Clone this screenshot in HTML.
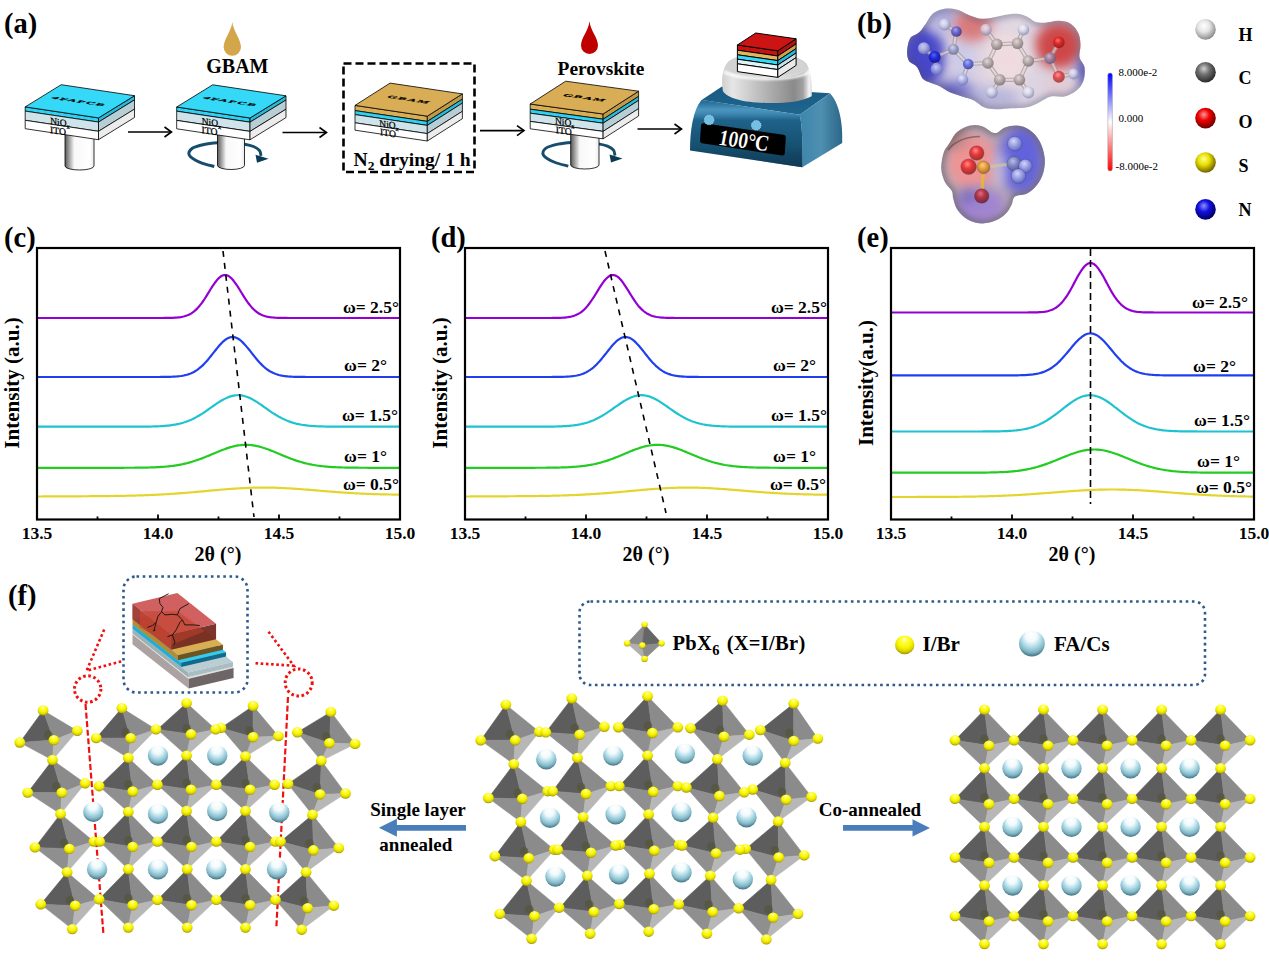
<!DOCTYPE html>
<html><head><meta charset="utf-8"><style>html,body{margin:0;padding:0;background:#fff;width:1269px;height:962px;overflow:hidden}</style></head>
<body><svg width="1269" height="962" viewBox="0 0 1269 962" style="display:block;font-family:'Liberation Serif',serif"><rect width="100%" height="100%" fill="#fff"/><polyline points="37.0,318.00 38.5,318.00 40.0,318.00 41.5,318.00 43.0,318.00 44.6,318.00 46.1,318.00 47.6,318.00 49.1,318.00 50.6,318.00 52.1,318.00 53.6,318.00 55.1,318.00 56.7,318.00 58.2,318.00 59.7,318.00 61.2,318.00 62.7,318.00 64.2,318.00 65.7,318.00 67.2,318.00 68.8,318.00 70.3,318.00 71.8,318.00 73.3,318.00 74.8,318.00 76.3,318.00 77.8,318.00 79.3,318.00 80.9,318.00 82.4,318.00 83.9,318.00 85.4,318.00 86.9,318.00 88.4,318.00 89.9,318.00 91.5,318.00 93.0,318.00 94.5,318.00 96.0,318.00 97.5,318.00 99.0,318.00 100.5,318.00 102.0,318.00 103.5,318.00 105.1,318.00 106.6,318.00 108.1,318.00 109.6,318.00 111.1,318.00 112.6,318.00 114.1,318.00 115.7,318.00 117.2,318.00 118.7,318.00 120.2,318.00 121.7,318.00 123.2,318.00 124.7,318.00 126.2,318.00 127.8,318.00 129.3,318.00 130.8,318.00 132.3,318.00 133.8,318.00 135.3,318.00 136.8,318.00 138.3,318.00 139.8,318.00 141.4,318.00 142.9,318.00 144.4,318.00 145.9,318.00 147.4,318.00 148.9,318.00 150.4,318.00 151.9,318.00 153.5,318.00 155.0,318.00 156.5,318.00 158.0,317.99 159.5,317.99 161.0,317.99 162.5,317.98 164.1,317.97 165.6,317.96 167.1,317.94 168.6,317.91 170.1,317.88 171.6,317.84 173.1,317.78 174.6,317.70 176.2,317.59 177.7,317.46 179.2,317.29 180.7,317.07 182.2,316.80 183.7,316.46 185.2,316.04 186.7,315.54 188.2,314.92 189.8,314.20 191.3,313.34 192.8,312.33 194.3,311.18 195.8,309.86 197.3,308.37 198.8,306.71 200.3,304.88 201.9,302.89 203.4,300.75 204.9,298.49 206.4,296.12 207.9,293.69 209.4,291.23 210.9,288.78 212.4,286.39 214.0,284.11 215.5,281.98 217.0,280.07 218.5,278.41 220.0,277.04 221.5,276.00 223.0,275.32 224.6,275.02 226.1,275.09 227.6,275.55 229.1,276.38 230.6,277.55 232.1,279.05 233.6,280.81 235.1,282.82 236.7,285.01 238.2,287.34 239.7,289.76 241.2,292.22 242.7,294.68 244.2,297.09 245.7,299.42 247.2,301.63 248.8,303.71 250.3,305.64 251.8,307.40 253.3,308.99 254.8,310.41 256.3,311.66 257.8,312.76 259.3,313.70 260.9,314.51 262.4,315.19 263.9,315.75 265.4,316.22 266.9,316.61 268.4,316.92 269.9,317.17 271.4,317.36 272.9,317.52 274.5,317.64 276.0,317.73 277.5,317.80 279.0,317.86 280.5,317.90 282.0,317.92 283.5,317.95 285.1,317.96 286.6,317.97 288.1,317.98 289.6,317.99 291.1,317.99 292.6,317.99 294.1,318.00 295.6,318.00 297.1,318.00 298.7,318.00 300.2,318.00 301.7,318.00 303.2,318.00 304.7,318.00 306.2,318.00 307.7,318.00 309.2,318.00 310.8,318.00 312.3,318.00 313.8,318.00 315.3,318.00 316.8,318.00 318.3,318.00 319.8,318.00 321.4,318.00 322.9,318.00 324.4,318.00 325.9,318.00 327.4,318.00 328.9,318.00 330.4,318.00 331.9,318.00 333.4,318.00 335.0,318.00 336.5,318.00 338.0,318.00 339.5,318.00 341.0,318.00 342.5,318.00 344.0,318.00 345.6,318.00 347.1,318.00 348.6,318.00 350.1,318.00 351.6,318.00 353.1,318.00 354.6,318.00 356.1,318.00 357.6,318.00 359.2,318.00 360.7,318.00 362.2,318.00 363.7,318.00 365.2,318.00 366.7,318.00 368.2,318.00 369.8,318.00 371.3,318.00 372.8,318.00 374.3,318.00 375.8,318.00 377.3,318.00 378.8,318.00 380.3,318.00 381.9,318.00 383.4,318.00 384.9,318.00 386.4,318.00 387.9,318.00 389.4,318.00 390.9,318.00 392.4,318.00 393.9,318.00 395.5,318.00 397.0,318.00 398.5,318.00 400.0,318.00" fill="none" stroke="#9400d3" stroke-width="2.2" stroke-linejoin="round"/>
<polyline points="37.0,377.00 38.5,377.00 40.0,377.00 41.5,377.00 43.0,377.00 44.6,377.00 46.1,377.00 47.6,377.00 49.1,377.00 50.6,377.00 52.1,377.00 53.6,377.00 55.1,377.00 56.7,377.00 58.2,377.00 59.7,377.00 61.2,377.00 62.7,377.00 64.2,377.00 65.7,377.00 67.2,377.00 68.8,377.00 70.3,377.00 71.8,377.00 73.3,377.00 74.8,377.00 76.3,377.00 77.8,377.00 79.3,377.00 80.9,377.00 82.4,377.00 83.9,377.00 85.4,377.00 86.9,377.00 88.4,377.00 89.9,377.00 91.5,377.00 93.0,377.00 94.5,377.00 96.0,377.00 97.5,377.00 99.0,377.00 100.5,377.00 102.0,377.00 103.5,377.00 105.1,377.00 106.6,377.00 108.1,377.00 109.6,377.00 111.1,377.00 112.6,377.00 114.1,377.00 115.7,377.00 117.2,377.00 118.7,377.00 120.2,377.00 121.7,377.00 123.2,377.00 124.7,377.00 126.2,377.00 127.8,377.00 129.3,377.00 130.8,377.00 132.3,377.00 133.8,377.00 135.3,377.00 136.8,377.00 138.3,377.00 139.8,377.00 141.4,377.00 142.9,377.00 144.4,377.00 145.9,377.00 147.4,377.00 148.9,377.00 150.4,377.00 151.9,376.99 153.5,376.99 155.0,376.99 156.5,376.99 158.0,376.98 159.5,376.98 161.0,376.97 162.5,376.95 164.1,376.94 165.6,376.92 167.1,376.89 168.6,376.86 170.1,376.82 171.6,376.76 173.1,376.70 174.6,376.61 176.2,376.51 177.7,376.38 179.2,376.22 180.7,376.03 182.2,375.80 183.7,375.52 185.2,375.19 186.7,374.80 188.2,374.34 189.8,373.81 191.3,373.20 192.8,372.50 194.3,371.70 195.8,370.80 197.3,369.79 198.8,368.67 200.3,367.44 201.9,366.10 203.4,364.65 204.9,363.09 206.4,361.43 207.9,359.69 209.4,357.87 210.9,355.99 212.4,354.08 214.0,352.15 215.5,350.23 217.0,348.34 218.5,346.51 220.0,344.77 221.5,343.15 223.0,341.67 224.6,340.35 226.1,339.23 227.6,338.32 229.1,337.64 230.6,337.20 232.1,337.01 233.6,337.07 235.1,337.38 236.7,337.94 238.2,338.74 239.7,339.75 241.2,340.97 242.7,342.37 244.2,343.92 245.7,345.61 247.2,347.39 248.8,349.25 250.3,351.16 251.8,353.09 253.3,355.01 254.8,356.91 256.3,358.76 257.8,360.55 259.3,362.25 260.9,363.86 262.4,365.37 263.9,366.77 265.4,368.06 266.9,369.23 268.4,370.30 269.9,371.25 271.4,372.10 272.9,372.85 274.5,373.51 276.0,374.08 277.5,374.58 279.0,375.00 280.5,375.36 282.0,375.66 283.5,375.92 285.1,376.13 286.6,376.30 288.1,376.45 289.6,376.56 291.1,376.66 292.6,376.73 294.1,376.79 295.6,376.84 297.1,376.88 298.7,376.91 300.2,376.93 301.7,376.95 303.2,376.96 304.7,376.97 306.2,376.98 307.7,376.98 309.2,376.99 310.8,376.99 312.3,376.99 313.8,377.00 315.3,377.00 316.8,377.00 318.3,377.00 319.8,377.00 321.4,377.00 322.9,377.00 324.4,377.00 325.9,377.00 327.4,377.00 328.9,377.00 330.4,377.00 331.9,377.00 333.4,377.00 335.0,377.00 336.5,377.00 338.0,377.00 339.5,377.00 341.0,377.00 342.5,377.00 344.0,377.00 345.6,377.00 347.1,377.00 348.6,377.00 350.1,377.00 351.6,377.00 353.1,377.00 354.6,377.00 356.1,377.00 357.6,377.00 359.2,377.00 360.7,377.00 362.2,377.00 363.7,377.00 365.2,377.00 366.7,377.00 368.2,377.00 369.8,377.00 371.3,377.00 372.8,377.00 374.3,377.00 375.8,377.00 377.3,377.00 378.8,377.00 380.3,377.00 381.9,377.00 383.4,377.00 384.9,377.00 386.4,377.00 387.9,377.00 389.4,377.00 390.9,377.00 392.4,377.00 393.9,377.00 395.5,377.00 397.0,377.00 398.5,377.00 400.0,377.00" fill="none" stroke="#2040f0" stroke-width="2.2" stroke-linejoin="round"/>
<polyline points="37.0,426.70 38.5,426.70 40.0,426.70 41.5,426.70 43.0,426.70 44.6,426.70 46.1,426.70 47.6,426.70 49.1,426.70 50.6,426.70 52.1,426.70 53.6,426.70 55.1,426.70 56.7,426.70 58.2,426.70 59.7,426.70 61.2,426.70 62.7,426.70 64.2,426.70 65.7,426.70 67.2,426.70 68.8,426.70 70.3,426.70 71.8,426.70 73.3,426.70 74.8,426.70 76.3,426.70 77.8,426.70 79.3,426.70 80.9,426.70 82.4,426.70 83.9,426.70 85.4,426.70 86.9,426.70 88.4,426.70 89.9,426.70 91.5,426.70 93.0,426.70 94.5,426.70 96.0,426.70 97.5,426.70 99.0,426.70 100.5,426.70 102.0,426.70 103.5,426.70 105.1,426.70 106.6,426.70 108.1,426.70 109.6,426.70 111.1,426.70 112.6,426.70 114.1,426.70 115.7,426.70 117.2,426.70 118.7,426.70 120.2,426.70 121.7,426.70 123.2,426.70 124.7,426.70 126.2,426.69 127.8,426.69 129.3,426.69 130.8,426.69 132.3,426.69 133.8,426.68 135.3,426.68 136.8,426.67 138.3,426.67 139.8,426.66 141.4,426.65 142.9,426.64 144.4,426.62 145.9,426.61 147.4,426.59 148.9,426.56 150.4,426.54 151.9,426.50 153.5,426.47 155.0,426.42 156.5,426.37 158.0,426.31 159.5,426.24 161.0,426.16 162.5,426.07 164.1,425.96 165.6,425.84 167.1,425.70 168.6,425.54 170.1,425.37 171.6,425.17 173.1,424.94 174.6,424.69 176.2,424.42 177.7,424.11 179.2,423.77 180.7,423.39 182.2,422.98 183.7,422.53 185.2,422.04 186.7,421.51 188.2,420.93 189.8,420.31 191.3,419.65 192.8,418.95 194.3,418.20 195.8,417.41 197.3,416.57 198.8,415.70 200.3,414.79 201.9,413.84 203.4,412.86 204.9,411.85 206.4,410.82 207.9,409.77 209.4,408.71 210.9,407.64 212.4,406.57 214.0,405.51 215.5,404.46 217.0,403.43 218.5,402.43 220.0,401.47 221.5,400.55 223.0,399.68 224.6,398.88 226.1,398.13 227.6,397.46 229.1,396.87 230.6,396.36 232.1,395.94 233.6,395.61 235.1,395.38 236.7,395.24 238.2,395.20 239.7,395.26 241.2,395.42 242.7,395.67 244.2,396.02 245.7,396.46 247.2,396.99 248.8,397.60 250.3,398.29 251.8,399.04 253.3,399.87 254.8,400.74 256.3,401.67 257.8,402.64 259.3,403.65 260.9,404.68 262.4,405.73 263.9,406.80 265.4,407.87 266.9,408.94 268.4,410.00 269.9,411.04 271.4,412.07 272.9,413.07 274.5,414.04 276.0,414.98 277.5,415.89 279.0,416.76 280.5,417.58 282.0,418.36 283.5,419.10 285.1,419.80 286.6,420.45 288.1,421.06 289.6,421.62 291.1,422.15 292.6,422.63 294.1,423.07 295.6,423.47 297.1,423.84 298.7,424.18 300.2,424.48 301.7,424.75 303.2,424.99 304.7,425.21 306.2,425.41 307.7,425.58 309.2,425.73 310.8,425.87 312.3,425.98 313.8,426.09 315.3,426.18 316.8,426.26 318.3,426.32 319.8,426.38 321.4,426.43 322.9,426.47 324.4,426.51 325.9,426.54 327.4,426.57 328.9,426.59 330.4,426.61 331.9,426.63 333.4,426.64 335.0,426.65 336.5,426.66 338.0,426.67 339.5,426.67 341.0,426.68 342.5,426.68 344.0,426.69 345.6,426.69 347.1,426.69 348.6,426.69 350.1,426.69 351.6,426.70 353.1,426.70 354.6,426.70 356.1,426.70 357.6,426.70 359.2,426.70 360.7,426.70 362.2,426.70 363.7,426.70 365.2,426.70 366.7,426.70 368.2,426.70 369.8,426.70 371.3,426.70 372.8,426.70 374.3,426.70 375.8,426.70 377.3,426.70 378.8,426.70 380.3,426.70 381.9,426.70 383.4,426.70 384.9,426.70 386.4,426.70 387.9,426.70 389.4,426.70 390.9,426.70 392.4,426.70 393.9,426.70 395.5,426.70 397.0,426.70 398.5,426.70 400.0,426.70" fill="none" stroke="#1fc3cf" stroke-width="2.2" stroke-linejoin="round"/>
<polyline points="37.0,467.80 38.5,467.80 40.0,467.80 41.5,467.80 43.0,467.80 44.6,467.80 46.1,467.80 47.6,467.80 49.1,467.80 50.6,467.80 52.1,467.80 53.6,467.80 55.1,467.80 56.7,467.80 58.2,467.80 59.7,467.80 61.2,467.80 62.7,467.80 64.2,467.80 65.7,467.80 67.2,467.80 68.8,467.80 70.3,467.80 71.8,467.80 73.3,467.80 74.8,467.80 76.3,467.80 77.8,467.80 79.3,467.80 80.9,467.80 82.4,467.80 83.9,467.80 85.4,467.80 86.9,467.80 88.4,467.80 89.9,467.80 91.5,467.80 93.0,467.80 94.5,467.80 96.0,467.80 97.5,467.80 99.0,467.80 100.5,467.80 102.0,467.80 103.5,467.80 105.1,467.80 106.6,467.80 108.1,467.80 109.6,467.80 111.1,467.79 112.6,467.79 114.1,467.79 115.7,467.79 117.2,467.79 118.7,467.79 120.2,467.78 121.7,467.78 123.2,467.78 124.7,467.77 126.2,467.77 127.8,467.76 129.3,467.76 130.8,467.75 132.3,467.74 133.8,467.73 135.3,467.72 136.8,467.70 138.3,467.69 139.8,467.67 141.4,467.65 142.9,467.63 144.4,467.60 145.9,467.57 147.4,467.53 148.9,467.50 150.4,467.45 151.9,467.40 153.5,467.35 155.0,467.29 156.5,467.22 158.0,467.14 159.5,467.06 161.0,466.96 162.5,466.86 164.1,466.75 165.6,466.62 167.1,466.48 168.6,466.33 170.1,466.17 171.6,465.99 173.1,465.79 174.6,465.58 176.2,465.35 177.7,465.11 179.2,464.84 180.7,464.56 182.2,464.25 183.7,463.93 185.2,463.58 186.7,463.21 188.2,462.83 189.8,462.42 191.3,461.98 192.8,461.53 194.3,461.06 195.8,460.56 197.3,460.05 198.8,459.52 200.3,458.97 201.9,458.40 203.4,457.81 204.9,457.21 206.4,456.60 207.9,455.98 209.4,455.36 210.9,454.72 212.4,454.08 214.0,453.44 215.5,452.81 217.0,452.17 218.5,451.55 220.0,450.93 221.5,450.33 223.0,449.75 224.6,449.18 226.1,448.64 227.6,448.12 229.1,447.63 230.6,447.17 232.1,446.75 233.6,446.36 235.1,446.01 236.7,445.70 238.2,445.44 239.7,445.22 241.2,445.04 242.7,444.91 244.2,444.83 245.7,444.80 247.2,444.82 248.8,444.88 250.3,444.99 251.8,445.15 253.3,445.35 254.8,445.60 256.3,445.90 257.8,446.23 259.3,446.60 260.9,447.01 262.4,447.46 263.9,447.94 265.4,448.45 266.9,448.98 268.4,449.54 269.9,450.12 271.4,450.71 272.9,451.32 274.5,451.94 276.0,452.57 277.5,453.21 279.0,453.85 280.5,454.49 282.0,455.13 283.5,455.76 285.1,456.38 286.6,456.99 288.1,457.60 289.6,458.19 291.1,458.76 292.6,459.32 294.1,459.86 295.6,460.38 297.1,460.88 298.7,461.36 300.2,461.82 301.7,462.26 303.2,462.68 304.7,463.08 306.2,463.45 307.7,463.80 309.2,464.14 310.8,464.45 312.3,464.74 313.8,465.01 315.3,465.26 316.8,465.50 318.3,465.72 319.8,465.92 321.4,466.10 322.9,466.27 324.4,466.43 325.9,466.57 327.4,466.70 328.9,466.82 330.4,466.93 331.9,467.03 333.4,467.11 335.0,467.19 336.5,467.26 338.0,467.33 339.5,467.38 341.0,467.44 342.5,467.48 344.0,467.52 345.6,467.56 347.1,467.59 348.6,467.62 350.1,467.64 351.6,467.66 353.1,467.68 354.6,467.70 356.1,467.71 357.6,467.72 359.2,467.74 360.7,467.75 362.2,467.75 363.7,467.76 365.2,467.77 366.7,467.77 368.2,467.78 369.8,467.78 371.3,467.78 372.8,467.79 374.3,467.79 375.8,467.79 377.3,467.79 378.8,467.79 380.3,467.79 381.9,467.80 383.4,467.80 384.9,467.80 386.4,467.80 387.9,467.80 389.4,467.80 390.9,467.80 392.4,467.80 393.9,467.80 395.5,467.80 397.0,467.80 398.5,467.80 400.0,467.80" fill="none" stroke="#22cc22" stroke-width="2.2" stroke-linejoin="round"/>
<polyline points="37.0,496.50 38.5,496.49 40.0,496.49 41.5,496.48 43.0,496.47 44.6,496.47 46.1,496.46 47.6,496.45 49.1,496.45 50.6,496.44 52.1,496.43 53.6,496.43 55.1,496.42 56.7,496.41 58.2,496.40 59.7,496.40 61.2,496.39 62.7,496.38 64.2,496.38 65.7,496.37 67.2,496.36 68.8,496.35 70.3,496.34 71.8,496.34 73.3,496.33 74.8,496.32 76.3,496.31 77.8,496.30 79.3,496.29 80.9,496.28 82.4,496.27 83.9,496.26 85.4,496.25 86.9,496.24 88.4,496.23 89.9,496.22 91.5,496.21 93.0,496.20 94.5,496.19 96.0,496.17 97.5,496.16 99.0,496.14 100.5,496.13 102.0,496.11 103.5,496.10 105.1,496.08 106.6,496.06 108.1,496.05 109.6,496.03 111.1,496.01 112.6,495.99 114.1,495.97 115.7,495.94 117.2,495.92 118.7,495.89 120.2,495.87 121.7,495.84 123.2,495.81 124.7,495.78 126.2,495.75 127.8,495.72 129.3,495.68 130.8,495.65 132.3,495.61 133.8,495.57 135.3,495.53 136.8,495.49 138.3,495.44 139.8,495.40 141.4,495.35 142.9,495.30 144.4,495.24 145.9,495.19 147.4,495.13 148.9,495.07 150.4,495.01 151.9,494.94 153.5,494.88 155.0,494.81 156.5,494.74 158.0,494.66 159.5,494.58 161.0,494.50 162.5,494.42 164.1,494.34 165.6,494.25 167.1,494.16 168.6,494.07 170.1,493.97 171.6,493.87 173.1,493.77 174.6,493.67 176.2,493.56 177.7,493.45 179.2,493.34 180.7,493.22 182.2,493.11 183.7,492.99 185.2,492.87 186.7,492.74 188.2,492.62 189.8,492.49 191.3,492.36 192.8,492.23 194.3,492.10 195.8,491.97 197.3,491.83 198.8,491.69 200.3,491.56 201.9,491.42 203.4,491.28 204.9,491.14 206.4,491.00 207.9,490.86 209.4,490.72 210.9,490.58 212.4,490.44 214.0,490.31 215.5,490.17 217.0,490.03 218.5,489.90 220.0,489.77 221.5,489.64 223.0,489.51 224.6,489.38 226.1,489.26 227.6,489.14 229.1,489.02 230.6,488.90 232.1,488.79 233.6,488.68 235.1,488.58 236.7,488.48 238.2,488.39 239.7,488.30 241.2,488.21 242.7,488.13 244.2,488.05 245.7,487.98 247.2,487.91 248.8,487.85 250.3,487.80 251.8,487.75 253.3,487.71 254.8,487.67 256.3,487.64 257.8,487.61 259.3,487.59 260.9,487.58 262.4,487.57 263.9,487.57 265.4,487.57 266.9,487.58 268.4,487.60 269.9,487.62 271.4,487.65 272.9,487.68 274.5,487.72 276.0,487.77 277.5,487.82 279.0,487.87 280.5,487.93 282.0,488.00 283.5,488.07 285.1,488.15 286.6,488.23 288.1,488.31 289.6,488.40 291.1,488.49 292.6,488.59 294.1,488.69 295.6,488.80 297.1,488.90 298.7,489.01 300.2,489.13 301.7,489.24 303.2,489.36 304.7,489.48 306.2,489.60 307.7,489.72 309.2,489.84 310.8,489.97 312.3,490.09 313.8,490.22 315.3,490.35 316.8,490.47 318.3,490.60 319.8,490.73 321.4,490.86 322.9,490.98 324.4,491.11 325.9,491.23 327.4,491.35 328.9,491.48 330.4,491.60 331.9,491.72 333.4,491.83 335.0,491.95 336.5,492.06 338.0,492.18 339.5,492.29 341.0,492.39 342.5,492.50 344.0,492.60 345.6,492.70 347.1,492.80 348.6,492.89 350.1,492.99 351.6,493.08 353.1,493.17 354.6,493.25 356.1,493.33 357.6,493.41 359.2,493.49 360.7,493.56 362.2,493.63 363.7,493.70 365.2,493.77 366.7,493.83 368.2,493.89 369.8,493.95 371.3,494.01 372.8,494.06 374.3,494.11 375.8,494.16 377.3,494.21 378.8,494.25 380.3,494.29 381.9,494.33 383.4,494.37 384.9,494.40 386.4,494.44 387.9,494.47 389.4,494.50 390.9,494.52 392.4,494.55 393.9,494.57 395.5,494.60 397.0,494.62 398.5,494.64 400.0,494.66" fill="none" stroke="#e3d52e" stroke-width="2.2" stroke-linejoin="round"/>
<line x1="223" y1="251" x2="254" y2="517" stroke="#000" stroke-width="1.6" stroke-dasharray="6,6"/>
<rect x="37" y="248" width="363" height="271.5" fill="none" stroke="#000" stroke-width="2.2"/>
<line x1="97.5" y1="519.5" x2="97.5" y2="516.5" stroke="#000" stroke-width="1.8"/>
<line x1="158.0" y1="519.5" x2="158.0" y2="514.5" stroke="#000" stroke-width="1.8"/>
<line x1="218.5" y1="519.5" x2="218.5" y2="516.5" stroke="#000" stroke-width="1.8"/>
<line x1="279.0" y1="519.5" x2="279.0" y2="514.5" stroke="#000" stroke-width="1.8"/>
<line x1="339.5" y1="519.5" x2="339.5" y2="516.5" stroke="#000" stroke-width="1.8"/>
<text x="37.0" y="538.8" font-size="17.5" font-weight="bold" text-anchor="middle" fill="#000" >13.5</text>
<text x="158.0" y="538.8" font-size="17.5" font-weight="bold" text-anchor="middle" fill="#000" >14.0</text>
<text x="279.0" y="538.8" font-size="17.5" font-weight="bold" text-anchor="middle" fill="#000" >14.5</text>
<text x="400.0" y="538.8" font-size="17.5" font-weight="bold" text-anchor="middle" fill="#000" >15.0</text>
<text x="218.0" y="560.5" font-size="20" font-weight="bold" text-anchor="middle" fill="#000" >2&#952; (&#176;)</text>
<text transform="translate(19,383) rotate(-90)" font-size="21" font-weight="bold" text-anchor="middle">Intensity (a.u.)</text>
<text x="399.0" y="312.5" font-size="17.5" font-weight="bold" text-anchor="end" fill="#000" >&#969;= 2.5&#176;</text>
<text x="387.0" y="371.0" font-size="17.5" font-weight="bold" text-anchor="end" fill="#000" >&#969;= 2&#176;</text>
<text x="398.0" y="421.0" font-size="17.5" font-weight="bold" text-anchor="end" fill="#000" >&#969;= 1.5&#176;</text>
<text x="387.0" y="461.5" font-size="17.5" font-weight="bold" text-anchor="end" fill="#000" >&#969;= 1&#176;</text>
<text x="399.0" y="490.0" font-size="17.5" font-weight="bold" text-anchor="end" fill="#000" >&#969;= 0.5&#176;</text>
<text x="4.0" y="247.0" font-size="28.5" font-weight="bold" text-anchor="start" fill="#000" >(c)</text>
<polyline points="465.0,318.00 466.5,318.00 468.0,318.00 469.5,318.00 471.1,318.00 472.6,318.00 474.1,318.00 475.6,318.00 477.1,318.00 478.6,318.00 480.1,318.00 481.6,318.00 483.1,318.00 484.7,318.00 486.2,318.00 487.7,318.00 489.2,318.00 490.7,318.00 492.2,318.00 493.7,318.00 495.2,318.00 496.8,318.00 498.3,318.00 499.8,318.00 501.3,318.00 502.8,318.00 504.3,318.00 505.8,318.00 507.4,318.00 508.9,318.00 510.4,318.00 511.9,318.00 513.4,318.00 514.9,318.00 516.4,318.00 517.9,318.00 519.5,318.00 521.0,318.00 522.5,318.00 524.0,318.00 525.5,318.00 527.0,318.00 528.5,318.00 530.0,318.00 531.5,318.00 533.1,318.00 534.6,318.00 536.1,318.00 537.6,318.00 539.1,318.00 540.6,318.00 542.1,318.00 543.6,318.00 545.2,317.99 546.7,317.99 548.2,317.99 549.7,317.98 551.2,317.98 552.7,317.96 554.2,317.95 555.8,317.93 557.3,317.90 558.8,317.86 560.3,317.81 561.8,317.74 563.3,317.65 564.8,317.54 566.3,317.39 567.9,317.20 569.4,316.96 570.9,316.66 572.4,316.28 573.9,315.83 575.4,315.28 576.9,314.61 578.4,313.83 580.0,312.91 581.5,311.84 583.0,310.61 584.5,309.21 586.0,307.65 587.5,305.91 589.0,304.01 590.5,301.95 592.0,299.75 593.6,297.44 595.1,295.04 596.6,292.59 598.1,290.13 599.6,287.70 601.1,285.35 602.6,283.14 604.1,281.10 605.7,279.29 607.2,277.76 608.7,276.53 610.2,275.65 611.7,275.14 613.2,275.00 614.7,275.25 616.2,275.88 617.8,276.86 619.3,278.18 620.8,279.80 622.3,281.68 623.8,283.78 625.3,286.04 626.8,288.42 628.4,290.86 629.9,293.32 631.4,295.76 632.9,298.14 634.4,300.42 635.9,302.58 637.4,304.59 638.9,306.44 640.5,308.13 642.0,309.64 643.5,310.99 645.0,312.17 646.5,313.20 648.0,314.08 649.5,314.82 651.0,315.45 652.5,315.97 654.1,316.40 655.6,316.75 657.1,317.03 658.6,317.26 660.1,317.44 661.6,317.58 663.1,317.68 664.6,317.77 666.2,317.83 667.7,317.87 669.2,317.91 670.7,317.94 672.2,317.95 673.7,317.97 675.2,317.98 676.8,317.98 678.3,317.99 679.8,317.99 681.3,318.00 682.8,318.00 684.3,318.00 685.8,318.00 687.3,318.00 688.9,318.00 690.4,318.00 691.9,318.00 693.4,318.00 694.9,318.00 696.4,318.00 697.9,318.00 699.4,318.00 701.0,318.00 702.5,318.00 704.0,318.00 705.5,318.00 707.0,318.00 708.5,318.00 710.0,318.00 711.5,318.00 713.0,318.00 714.6,318.00 716.1,318.00 717.6,318.00 719.1,318.00 720.6,318.00 722.1,318.00 723.6,318.00 725.1,318.00 726.7,318.00 728.2,318.00 729.7,318.00 731.2,318.00 732.7,318.00 734.2,318.00 735.7,318.00 737.2,318.00 738.8,318.00 740.3,318.00 741.8,318.00 743.3,318.00 744.8,318.00 746.3,318.00 747.8,318.00 749.4,318.00 750.9,318.00 752.4,318.00 753.9,318.00 755.4,318.00 756.9,318.00 758.4,318.00 759.9,318.00 761.5,318.00 763.0,318.00 764.5,318.00 766.0,318.00 767.5,318.00 769.0,318.00 770.5,318.00 772.0,318.00 773.5,318.00 775.1,318.00 776.6,318.00 778.1,318.00 779.6,318.00 781.1,318.00 782.6,318.00 784.1,318.00 785.6,318.00 787.2,318.00 788.7,318.00 790.2,318.00 791.7,318.00 793.2,318.00 794.7,318.00 796.2,318.00 797.8,318.00 799.3,318.00 800.8,318.00 802.3,318.00 803.8,318.00 805.3,318.00 806.8,318.00 808.3,318.00 809.9,318.00 811.4,318.00 812.9,318.00 814.4,318.00 815.9,318.00 817.4,318.00 818.9,318.00 820.4,318.00 822.0,318.00 823.5,318.00 825.0,318.00 826.5,318.00 828.0,318.00" fill="none" stroke="#9400d3" stroke-width="2.2" stroke-linejoin="round"/>
<polyline points="465.0,377.00 466.5,377.00 468.0,377.00 469.5,377.00 471.1,377.00 472.6,377.00 474.1,377.00 475.6,377.00 477.1,377.00 478.6,377.00 480.1,377.00 481.6,377.00 483.1,377.00 484.7,377.00 486.2,377.00 487.7,377.00 489.2,377.00 490.7,377.00 492.2,377.00 493.7,377.00 495.2,377.00 496.8,377.00 498.3,377.00 499.8,377.00 501.3,377.00 502.8,377.00 504.3,377.00 505.8,377.00 507.4,377.00 508.9,377.00 510.4,377.00 511.9,377.00 513.4,377.00 514.9,377.00 516.4,377.00 517.9,377.00 519.5,377.00 521.0,377.00 522.5,377.00 524.0,377.00 525.5,377.00 527.0,377.00 528.5,377.00 530.0,377.00 531.5,377.00 533.1,377.00 534.6,377.00 536.1,377.00 537.6,377.00 539.1,377.00 540.6,377.00 542.1,377.00 543.6,377.00 545.2,376.99 546.7,376.99 548.2,376.99 549.7,376.99 551.2,376.98 552.7,376.97 554.2,376.96 555.8,376.95 557.3,376.94 558.8,376.92 560.3,376.89 561.8,376.86 563.3,376.81 564.8,376.76 566.3,376.69 567.9,376.60 569.4,376.49 570.9,376.36 572.4,376.20 573.9,376.00 575.4,375.76 576.9,375.48 578.4,375.14 580.0,374.74 581.5,374.27 583.0,373.73 584.5,373.11 586.0,372.39 587.5,371.58 589.0,370.66 590.5,369.64 592.0,368.51 593.6,367.26 595.1,365.90 596.6,364.43 598.1,362.86 599.6,361.19 601.1,359.43 602.6,357.61 604.1,355.72 605.7,353.81 607.2,351.88 608.7,349.96 610.2,348.08 611.7,346.26 613.2,344.53 614.7,342.93 616.2,341.47 617.8,340.18 619.3,339.09 620.8,338.21 622.3,337.56 623.8,337.16 625.3,337.00 626.8,337.10 628.4,337.45 629.9,338.04 631.4,338.87 632.9,339.91 634.4,341.16 635.9,342.58 637.4,344.15 638.9,345.85 640.5,347.65 642.0,349.52 643.5,351.43 645.0,353.36 646.5,355.28 648.0,357.18 649.5,359.02 651.0,360.79 652.5,362.48 654.1,364.08 655.6,365.57 657.1,366.96 658.6,368.23 660.1,369.39 661.6,370.44 663.1,371.38 664.6,372.21 666.2,372.95 667.7,373.59 669.2,374.16 670.7,374.64 672.2,375.05 673.7,375.40 675.2,375.70 676.8,375.95 678.3,376.15 679.8,376.32 681.3,376.46 682.8,376.58 684.3,376.67 685.8,376.74 687.3,376.80 688.9,376.85 690.4,376.88 691.9,376.91 693.4,376.93 694.9,376.95 696.4,376.96 697.9,376.97 699.4,376.98 701.0,376.98 702.5,376.99 704.0,376.99 705.5,376.99 707.0,377.00 708.5,377.00 710.0,377.00 711.5,377.00 713.0,377.00 714.6,377.00 716.1,377.00 717.6,377.00 719.1,377.00 720.6,377.00 722.1,377.00 723.6,377.00 725.1,377.00 726.7,377.00 728.2,377.00 729.7,377.00 731.2,377.00 732.7,377.00 734.2,377.00 735.7,377.00 737.2,377.00 738.8,377.00 740.3,377.00 741.8,377.00 743.3,377.00 744.8,377.00 746.3,377.00 747.8,377.00 749.4,377.00 750.9,377.00 752.4,377.00 753.9,377.00 755.4,377.00 756.9,377.00 758.4,377.00 759.9,377.00 761.5,377.00 763.0,377.00 764.5,377.00 766.0,377.00 767.5,377.00 769.0,377.00 770.5,377.00 772.0,377.00 773.5,377.00 775.1,377.00 776.6,377.00 778.1,377.00 779.6,377.00 781.1,377.00 782.6,377.00 784.1,377.00 785.6,377.00 787.2,377.00 788.7,377.00 790.2,377.00 791.7,377.00 793.2,377.00 794.7,377.00 796.2,377.00 797.8,377.00 799.3,377.00 800.8,377.00 802.3,377.00 803.8,377.00 805.3,377.00 806.8,377.00 808.3,377.00 809.9,377.00 811.4,377.00 812.9,377.00 814.4,377.00 815.9,377.00 817.4,377.00 818.9,377.00 820.4,377.00 822.0,377.00 823.5,377.00 825.0,377.00 826.5,377.00 828.0,377.00" fill="none" stroke="#2040f0" stroke-width="2.2" stroke-linejoin="round"/>
<polyline points="465.0,426.70 466.5,426.70 468.0,426.70 469.5,426.70 471.1,426.70 472.6,426.70 474.1,426.70 475.6,426.70 477.1,426.70 478.6,426.70 480.1,426.70 481.6,426.70 483.1,426.70 484.7,426.70 486.2,426.70 487.7,426.70 489.2,426.70 490.7,426.70 492.2,426.70 493.7,426.70 495.2,426.70 496.8,426.70 498.3,426.70 499.8,426.70 501.3,426.70 502.8,426.70 504.3,426.70 505.8,426.70 507.4,426.70 508.9,426.70 510.4,426.70 511.9,426.70 513.4,426.70 514.9,426.70 516.4,426.70 517.9,426.70 519.5,426.70 521.0,426.70 522.5,426.70 524.0,426.70 525.5,426.70 527.0,426.70 528.5,426.70 530.0,426.69 531.5,426.69 533.1,426.69 534.6,426.69 536.1,426.68 537.6,426.68 539.1,426.68 540.6,426.67 542.1,426.66 543.6,426.66 545.2,426.65 546.7,426.63 548.2,426.62 549.7,426.60 551.2,426.58 552.7,426.56 554.2,426.53 555.8,426.50 557.3,426.46 558.8,426.41 560.3,426.36 561.8,426.30 563.3,426.22 564.8,426.14 566.3,426.05 567.9,425.94 569.4,425.81 570.9,425.67 572.4,425.51 573.9,425.33 575.4,425.12 576.9,424.90 578.4,424.64 580.0,424.36 581.5,424.04 583.0,423.69 584.5,423.31 586.0,422.89 587.5,422.43 589.0,421.93 590.5,421.39 592.0,420.81 593.6,420.19 595.1,419.52 596.6,418.80 598.1,418.05 599.6,417.24 601.1,416.40 602.6,415.52 604.1,414.60 605.7,413.65 607.2,412.66 608.7,411.65 610.2,410.61 611.7,409.56 613.2,408.50 614.7,407.43 616.2,406.36 617.8,405.30 619.3,404.25 620.8,403.23 622.3,402.24 623.8,401.28 625.3,400.37 626.8,399.52 628.4,398.72 629.9,397.99 631.4,397.34 632.9,396.76 634.4,396.27 635.9,395.87 637.4,395.56 638.9,395.34 640.5,395.22 642.0,395.20 643.5,395.28 645.0,395.46 646.5,395.74 648.0,396.10 649.5,396.56 651.0,397.11 652.5,397.73 654.1,398.43 655.6,399.20 657.1,400.04 658.6,400.92 660.1,401.86 661.6,402.84 663.1,403.85 664.6,404.89 666.2,405.94 667.7,407.01 669.2,408.08 670.7,409.15 672.2,410.21 673.7,411.25 675.2,412.27 676.8,413.27 678.3,414.23 679.8,415.17 681.3,416.06 682.8,416.92 684.3,417.74 685.8,418.51 687.3,419.24 688.9,419.93 690.4,420.57 691.9,421.17 693.4,421.73 694.9,422.24 696.4,422.72 697.9,423.15 699.4,423.55 701.0,423.91 702.5,424.24 704.0,424.53 705.5,424.80 707.0,425.04 708.5,425.25 710.0,425.44 711.5,425.61 713.0,425.76 714.6,425.89 716.1,426.01 717.6,426.11 719.1,426.19 720.6,426.27 722.1,426.34 723.6,426.39 725.1,426.44 726.7,426.48 728.2,426.52 729.7,426.55 731.2,426.57 732.7,426.60 734.2,426.61 735.7,426.63 737.2,426.64 738.8,426.65 740.3,426.66 741.8,426.67 743.3,426.67 744.8,426.68 746.3,426.68 747.8,426.69 749.4,426.69 750.9,426.69 752.4,426.69 753.9,426.69 755.4,426.70 756.9,426.70 758.4,426.70 759.9,426.70 761.5,426.70 763.0,426.70 764.5,426.70 766.0,426.70 767.5,426.70 769.0,426.70 770.5,426.70 772.0,426.70 773.5,426.70 775.1,426.70 776.6,426.70 778.1,426.70 779.6,426.70 781.1,426.70 782.6,426.70 784.1,426.70 785.6,426.70 787.2,426.70 788.7,426.70 790.2,426.70 791.7,426.70 793.2,426.70 794.7,426.70 796.2,426.70 797.8,426.70 799.3,426.70 800.8,426.70 802.3,426.70 803.8,426.70 805.3,426.70 806.8,426.70 808.3,426.70 809.9,426.70 811.4,426.70 812.9,426.70 814.4,426.70 815.9,426.70 817.4,426.70 818.9,426.70 820.4,426.70 822.0,426.70 823.5,426.70 825.0,426.70 826.5,426.70 828.0,426.70" fill="none" stroke="#1fc3cf" stroke-width="2.2" stroke-linejoin="round"/>
<polyline points="465.0,467.80 466.5,467.80 468.0,467.80 469.5,467.80 471.1,467.80 472.6,467.80 474.1,467.80 475.6,467.80 477.1,467.80 478.6,467.80 480.1,467.80 481.6,467.80 483.1,467.80 484.7,467.80 486.2,467.80 487.7,467.80 489.2,467.80 490.7,467.80 492.2,467.80 493.7,467.80 495.2,467.80 496.8,467.80 498.3,467.80 499.8,467.80 501.3,467.80 502.8,467.80 504.3,467.80 505.8,467.80 507.4,467.80 508.9,467.80 510.4,467.80 511.9,467.80 513.4,467.80 514.9,467.80 516.4,467.80 517.9,467.80 519.5,467.80 521.0,467.80 522.5,467.79 524.0,467.79 525.5,467.79 527.0,467.79 528.5,467.79 530.0,467.79 531.5,467.78 533.1,467.78 534.6,467.78 536.1,467.77 537.6,467.77 539.1,467.76 540.6,467.76 542.1,467.75 543.6,467.74 545.2,467.73 546.7,467.72 548.2,467.70 549.7,467.69 551.2,467.67 552.7,467.65 554.2,467.63 555.8,467.60 557.3,467.57 558.8,467.54 560.3,467.50 561.8,467.46 563.3,467.41 564.8,467.35 566.3,467.29 567.9,467.23 569.4,467.15 570.9,467.07 572.4,466.97 573.9,466.87 575.4,466.76 576.9,466.63 578.4,466.50 580.0,466.35 581.5,466.18 583.0,466.00 584.5,465.81 586.0,465.60 587.5,465.37 589.0,465.13 590.5,464.86 592.0,464.58 593.6,464.28 595.1,463.96 596.6,463.61 598.1,463.25 599.6,462.86 601.1,462.45 602.6,462.02 604.1,461.57 605.7,461.10 607.2,460.61 608.7,460.10 610.2,459.57 611.7,459.02 613.2,458.45 614.7,457.87 616.2,457.27 617.8,456.66 619.3,456.04 620.8,455.41 622.3,454.78 623.8,454.14 625.3,453.50 626.8,452.86 628.4,452.23 629.9,451.60 631.4,450.99 632.9,450.38 634.4,449.80 635.9,449.23 637.4,448.69 638.9,448.17 640.5,447.67 642.0,447.21 643.5,446.79 645.0,446.40 646.5,446.04 648.0,445.73 649.5,445.46 651.0,445.24 652.5,445.06 654.1,444.92 655.6,444.84 657.1,444.80 658.6,444.81 660.1,444.87 661.6,444.98 663.1,445.13 664.6,445.33 666.2,445.58 667.7,445.87 669.2,446.20 670.7,446.57 672.2,446.98 673.7,447.42 675.2,447.89 676.8,448.40 678.3,448.93 679.8,449.49 681.3,450.06 682.8,450.66 684.3,451.27 685.8,451.89 687.3,452.52 688.9,453.15 690.4,453.79 691.9,454.43 693.4,455.07 694.9,455.70 696.4,456.32 697.9,456.94 699.4,457.54 701.0,458.13 702.5,458.71 704.0,459.27 705.5,459.81 707.0,460.33 708.5,460.84 710.0,461.32 711.5,461.78 713.0,462.22 714.6,462.64 716.1,463.04 717.6,463.42 719.1,463.77 720.6,464.11 722.1,464.42 723.6,464.71 725.1,464.99 726.7,465.24 728.2,465.48 729.7,465.70 731.2,465.90 732.7,466.09 734.2,466.26 735.7,466.42 737.2,466.56 738.8,466.69 740.3,466.81 741.8,466.92 743.3,467.02 744.8,467.11 746.3,467.19 747.8,467.26 749.4,467.32 750.9,467.38 752.4,467.43 753.9,467.48 755.4,467.52 756.9,467.55 758.4,467.59 759.9,467.61 761.5,467.64 763.0,467.66 764.5,467.68 766.0,467.70 767.5,467.71 769.0,467.72 770.5,467.73 772.0,467.74 773.5,467.75 775.1,467.76 776.6,467.77 778.1,467.77 779.6,467.78 781.1,467.78 782.6,467.78 784.1,467.79 785.6,467.79 787.2,467.79 788.7,467.79 790.2,467.79 791.7,467.79 793.2,467.80 794.7,467.80 796.2,467.80 797.8,467.80 799.3,467.80 800.8,467.80 802.3,467.80 803.8,467.80 805.3,467.80 806.8,467.80 808.3,467.80 809.9,467.80 811.4,467.80 812.9,467.80 814.4,467.80 815.9,467.80 817.4,467.80 818.9,467.80 820.4,467.80 822.0,467.80 823.5,467.80 825.0,467.80 826.5,467.80 828.0,467.80" fill="none" stroke="#22cc22" stroke-width="2.2" stroke-linejoin="round"/>
<polyline points="465.0,496.50 466.5,496.49 468.0,496.48 469.5,496.48 471.1,496.47 472.6,496.46 474.1,496.46 475.6,496.45 477.1,496.44 478.6,496.44 480.1,496.43 481.6,496.42 483.1,496.42 484.7,496.41 486.2,496.40 487.7,496.39 489.2,496.39 490.7,496.38 492.2,496.37 493.7,496.36 495.2,496.36 496.8,496.35 498.3,496.34 499.8,496.33 501.3,496.32 502.8,496.31 504.3,496.30 505.8,496.29 507.4,496.28 508.9,496.27 510.4,496.26 511.9,496.25 513.4,496.24 514.9,496.23 516.4,496.22 517.9,496.21 519.5,496.19 521.0,496.18 522.5,496.17 524.0,496.15 525.5,496.14 527.0,496.12 528.5,496.10 530.0,496.09 531.5,496.07 533.1,496.05 534.6,496.03 536.1,496.01 537.6,495.99 539.1,495.97 540.6,495.94 542.1,495.92 543.6,495.89 545.2,495.87 546.7,495.84 548.2,495.81 549.7,495.78 551.2,495.75 552.7,495.71 554.2,495.68 555.8,495.64 557.3,495.60 558.8,495.56 560.3,495.52 561.8,495.48 563.3,495.43 564.8,495.38 566.3,495.33 567.9,495.28 569.4,495.22 570.9,495.17 572.4,495.11 573.9,495.05 575.4,494.98 576.9,494.92 578.4,494.85 580.0,494.78 581.5,494.70 583.0,494.63 584.5,494.55 586.0,494.47 587.5,494.38 589.0,494.30 590.5,494.21 592.0,494.12 593.6,494.02 595.1,493.92 596.6,493.82 598.1,493.72 599.6,493.61 601.1,493.51 602.6,493.39 604.1,493.28 605.7,493.17 607.2,493.05 608.7,492.93 610.2,492.81 611.7,492.68 613.2,492.55 614.7,492.43 616.2,492.30 617.8,492.16 619.3,492.03 620.8,491.90 622.3,491.76 623.8,491.62 625.3,491.48 626.8,491.35 628.4,491.21 629.9,491.07 631.4,490.93 632.9,490.79 634.4,490.65 635.9,490.51 637.4,490.37 638.9,490.23 640.5,490.10 642.0,489.96 643.5,489.83 645.0,489.70 646.5,489.57 648.0,489.44 649.5,489.32 651.0,489.19 652.5,489.08 654.1,488.96 655.6,488.85 657.1,488.74 658.6,488.63 660.1,488.53 661.6,488.44 663.1,488.34 664.6,488.26 666.2,488.17 667.7,488.09 669.2,488.02 670.7,487.95 672.2,487.89 673.7,487.83 675.2,487.78 676.8,487.74 678.3,487.70 679.8,487.66 681.3,487.64 682.8,487.61 684.3,487.60 685.8,487.59 687.3,487.58 688.9,487.59 690.4,487.59 691.9,487.61 693.4,487.63 694.9,487.65 696.4,487.69 697.9,487.72 699.4,487.77 701.0,487.82 702.5,487.87 704.0,487.93 705.5,487.99 707.0,488.06 708.5,488.14 710.0,488.22 711.5,488.30 713.0,488.39 714.6,488.48 716.1,488.57 717.6,488.67 719.1,488.78 720.6,488.88 722.1,488.99 723.6,489.10 725.1,489.22 726.7,489.33 728.2,489.45 729.7,489.57 731.2,489.69 732.7,489.82 734.2,489.94 735.7,490.07 737.2,490.19 738.8,490.32 740.3,490.45 741.8,490.57 743.3,490.70 744.8,490.83 746.3,490.95 747.8,491.08 749.4,491.20 750.9,491.33 752.4,491.45 753.9,491.57 755.4,491.69 756.9,491.81 758.4,491.93 759.9,492.04 761.5,492.15 763.0,492.26 764.5,492.37 766.0,492.48 767.5,492.58 769.0,492.68 770.5,492.78 772.0,492.88 773.5,492.97 775.1,493.06 776.6,493.15 778.1,493.24 779.6,493.32 781.1,493.40 782.6,493.48 784.1,493.55 785.6,493.63 787.2,493.69 788.7,493.76 790.2,493.83 791.7,493.89 793.2,493.95 794.7,494.00 796.2,494.06 797.8,494.11 799.3,494.16 800.8,494.21 802.3,494.25 803.8,494.29 805.3,494.33 806.8,494.37 808.3,494.41 809.9,494.44 811.4,494.47 812.9,494.50 814.4,494.53 815.9,494.56 817.4,494.58 818.9,494.61 820.4,494.63 822.0,494.65 823.5,494.67 825.0,494.68 826.5,494.70 828.0,494.71" fill="none" stroke="#e3d52e" stroke-width="2.2" stroke-linejoin="round"/>
<line x1="605" y1="251" x2="666" y2="513" stroke="#000" stroke-width="1.6" stroke-dasharray="6,6"/>
<rect x="465" y="248" width="363" height="271.5" fill="none" stroke="#000" stroke-width="2.2"/>
<line x1="525.5" y1="519.5" x2="525.5" y2="516.5" stroke="#000" stroke-width="1.8"/>
<line x1="586.0" y1="519.5" x2="586.0" y2="514.5" stroke="#000" stroke-width="1.8"/>
<line x1="646.5" y1="519.5" x2="646.5" y2="516.5" stroke="#000" stroke-width="1.8"/>
<line x1="707.0" y1="519.5" x2="707.0" y2="514.5" stroke="#000" stroke-width="1.8"/>
<line x1="767.5" y1="519.5" x2="767.5" y2="516.5" stroke="#000" stroke-width="1.8"/>
<text x="465.0" y="538.8" font-size="17.5" font-weight="bold" text-anchor="middle" fill="#000" >13.5</text>
<text x="586.0" y="538.8" font-size="17.5" font-weight="bold" text-anchor="middle" fill="#000" >14.0</text>
<text x="707.0" y="538.8" font-size="17.5" font-weight="bold" text-anchor="middle" fill="#000" >14.5</text>
<text x="828.0" y="538.8" font-size="17.5" font-weight="bold" text-anchor="middle" fill="#000" >15.0</text>
<text x="646.0" y="560.5" font-size="20" font-weight="bold" text-anchor="middle" fill="#000" >2&#952; (&#176;)</text>
<text transform="translate(447,383) rotate(-90)" font-size="21" font-weight="bold" text-anchor="middle">Intensity (a.u.)</text>
<text x="827.0" y="312.5" font-size="17.5" font-weight="bold" text-anchor="end" fill="#000" >&#969;= 2.5&#176;</text>
<text x="816.0" y="371.0" font-size="17.5" font-weight="bold" text-anchor="end" fill="#000" >&#969;= 2&#176;</text>
<text x="827.0" y="421.0" font-size="17.5" font-weight="bold" text-anchor="end" fill="#000" >&#969;= 1.5&#176;</text>
<text x="816.0" y="461.5" font-size="17.5" font-weight="bold" text-anchor="end" fill="#000" >&#969;= 1&#176;</text>
<text x="826.0" y="490.0" font-size="17.5" font-weight="bold" text-anchor="end" fill="#000" >&#969;= 0.5&#176;</text>
<text x="431.0" y="247.0" font-size="28.5" font-weight="bold" text-anchor="start" fill="#000" >(d)</text>
<polyline points="891.0,312.50 892.5,312.50 894.0,312.50 895.5,312.50 897.0,312.50 898.6,312.50 900.1,312.50 901.6,312.50 903.1,312.50 904.6,312.50 906.1,312.50 907.6,312.50 909.1,312.50 910.7,312.50 912.2,312.50 913.7,312.50 915.2,312.50 916.7,312.50 918.2,312.50 919.7,312.50 921.2,312.50 922.8,312.50 924.3,312.50 925.8,312.50 927.3,312.50 928.8,312.50 930.3,312.50 931.8,312.50 933.4,312.50 934.9,312.50 936.4,312.50 937.9,312.50 939.4,312.50 940.9,312.50 942.4,312.50 943.9,312.50 945.5,312.50 947.0,312.50 948.5,312.50 950.0,312.50 951.5,312.50 953.0,312.50 954.5,312.50 956.0,312.50 957.5,312.50 959.1,312.50 960.6,312.50 962.1,312.50 963.6,312.50 965.1,312.50 966.6,312.50 968.1,312.50 969.6,312.50 971.2,312.50 972.7,312.50 974.2,312.50 975.7,312.50 977.2,312.50 978.7,312.50 980.2,312.50 981.8,312.50 983.3,312.50 984.8,312.50 986.3,312.50 987.8,312.50 989.3,312.50 990.8,312.50 992.3,312.50 993.9,312.50 995.4,312.50 996.9,312.50 998.4,312.50 999.9,312.50 1001.4,312.50 1002.9,312.50 1004.4,312.50 1006.0,312.50 1007.5,312.50 1009.0,312.50 1010.5,312.50 1012.0,312.50 1013.5,312.50 1015.0,312.50 1016.5,312.50 1018.0,312.50 1019.6,312.50 1021.1,312.50 1022.6,312.49 1024.1,312.49 1025.6,312.49 1027.1,312.48 1028.6,312.47 1030.2,312.46 1031.7,312.44 1033.2,312.42 1034.7,312.39 1036.2,312.34 1037.7,312.29 1039.2,312.21 1040.7,312.11 1042.2,311.98 1043.8,311.81 1045.3,311.59 1046.8,311.31 1048.3,310.97 1049.8,310.55 1051.3,310.03 1052.8,309.40 1054.3,308.64 1055.9,307.75 1057.4,306.69 1058.9,305.47 1060.4,304.06 1061.9,302.47 1063.4,300.67 1064.9,298.69 1066.5,296.50 1068.0,294.14 1069.5,291.62 1071.0,288.97 1072.5,286.21 1074.0,283.39 1075.5,280.56 1077.0,277.76 1078.5,275.05 1080.1,272.49 1081.6,270.13 1083.1,268.04 1084.6,266.25 1086.1,264.83 1087.6,263.79 1089.1,263.18 1090.7,263.00 1092.2,263.27 1093.7,263.97 1095.2,265.08 1096.7,266.58 1098.2,268.43 1099.7,270.58 1101.2,272.98 1102.8,275.58 1104.3,278.31 1105.8,281.12 1107.3,283.95 1108.8,286.76 1110.3,289.50 1111.8,292.14 1113.3,294.63 1114.8,296.95 1116.4,299.10 1117.9,301.05 1119.4,302.80 1120.9,304.36 1122.4,305.73 1123.9,306.92 1125.4,307.94 1127.0,308.80 1128.5,309.53 1130.0,310.14 1131.5,310.64 1133.0,311.05 1134.5,311.37 1136.0,311.64 1137.5,311.84 1139.0,312.00 1140.6,312.13 1142.1,312.23 1143.6,312.30 1145.1,312.35 1146.6,312.39 1148.1,312.42 1149.6,312.45 1151.2,312.46 1152.7,312.47 1154.2,312.48 1155.7,312.49 1157.2,312.49 1158.7,312.49 1160.2,312.50 1161.7,312.50 1163.2,312.50 1164.8,312.50 1166.3,312.50 1167.8,312.50 1169.3,312.50 1170.8,312.50 1172.3,312.50 1173.8,312.50 1175.3,312.50 1176.9,312.50 1178.4,312.50 1179.9,312.50 1181.4,312.50 1182.9,312.50 1184.4,312.50 1185.9,312.50 1187.5,312.50 1189.0,312.50 1190.5,312.50 1192.0,312.50 1193.5,312.50 1195.0,312.50 1196.5,312.50 1198.0,312.50 1199.5,312.50 1201.1,312.50 1202.6,312.50 1204.1,312.50 1205.6,312.50 1207.1,312.50 1208.6,312.50 1210.1,312.50 1211.7,312.50 1213.2,312.50 1214.7,312.50 1216.2,312.50 1217.7,312.50 1219.2,312.50 1220.7,312.50 1222.2,312.50 1223.8,312.50 1225.3,312.50 1226.8,312.50 1228.3,312.50 1229.8,312.50 1231.3,312.50 1232.8,312.50 1234.3,312.50 1235.8,312.50 1237.4,312.50 1238.9,312.50 1240.4,312.50 1241.9,312.50 1243.4,312.50 1244.9,312.50 1246.4,312.50 1248.0,312.50 1249.5,312.50 1251.0,312.50 1252.5,312.50 1254.0,312.50" fill="none" stroke="#9400d3" stroke-width="2.2" stroke-linejoin="round"/>
<polyline points="891.0,375.40 892.5,375.40 894.0,375.40 895.5,375.40 897.0,375.40 898.6,375.40 900.1,375.40 901.6,375.40 903.1,375.40 904.6,375.40 906.1,375.40 907.6,375.40 909.1,375.40 910.7,375.40 912.2,375.40 913.7,375.40 915.2,375.40 916.7,375.40 918.2,375.40 919.7,375.40 921.2,375.40 922.8,375.40 924.3,375.40 925.8,375.40 927.3,375.40 928.8,375.40 930.3,375.40 931.8,375.40 933.4,375.40 934.9,375.40 936.4,375.40 937.9,375.40 939.4,375.40 940.9,375.40 942.4,375.40 943.9,375.40 945.5,375.40 947.0,375.40 948.5,375.40 950.0,375.40 951.5,375.40 953.0,375.40 954.5,375.40 956.0,375.40 957.5,375.40 959.1,375.40 960.6,375.40 962.1,375.40 963.6,375.40 965.1,375.40 966.6,375.40 968.1,375.40 969.6,375.40 971.2,375.40 972.7,375.40 974.2,375.40 975.7,375.40 977.2,375.40 978.7,375.40 980.2,375.40 981.8,375.40 983.3,375.40 984.8,375.40 986.3,375.40 987.8,375.40 989.3,375.40 990.8,375.40 992.3,375.40 993.9,375.40 995.4,375.40 996.9,375.40 998.4,375.40 999.9,375.40 1001.4,375.39 1002.9,375.39 1004.4,375.39 1006.0,375.39 1007.5,375.38 1009.0,375.38 1010.5,375.37 1012.0,375.36 1013.5,375.35 1015.0,375.33 1016.5,375.31 1018.0,375.29 1019.6,375.26 1021.1,375.22 1022.6,375.17 1024.1,375.12 1025.6,375.05 1027.1,374.96 1028.6,374.85 1030.2,374.72 1031.7,374.57 1033.2,374.39 1034.7,374.17 1036.2,373.92 1037.7,373.62 1039.2,373.27 1040.7,372.87 1042.2,372.40 1043.8,371.87 1045.3,371.27 1046.8,370.59 1048.3,369.82 1049.8,368.97 1051.3,368.03 1052.8,366.99 1054.3,365.86 1055.9,364.62 1057.4,363.30 1058.9,361.87 1060.4,360.36 1061.9,358.77 1063.4,357.11 1064.9,355.38 1066.5,353.60 1068.0,351.79 1069.5,349.96 1071.0,348.12 1072.5,346.31 1074.0,344.54 1075.5,342.83 1077.0,341.20 1078.5,339.68 1080.1,338.28 1081.6,337.03 1083.1,335.94 1084.6,335.03 1086.1,334.31 1087.6,333.79 1089.1,333.49 1090.7,333.40 1092.2,333.53 1093.7,333.88 1095.2,334.43 1096.7,335.19 1098.2,336.14 1099.7,337.26 1101.2,338.55 1102.8,339.97 1104.3,341.52 1105.8,343.16 1107.3,344.89 1108.8,346.67 1110.3,348.49 1111.8,350.32 1113.3,352.15 1114.8,353.96 1116.4,355.73 1117.9,357.44 1119.4,359.09 1120.9,360.67 1122.4,362.16 1123.9,363.57 1125.4,364.88 1127.0,366.09 1128.5,367.20 1130.0,368.22 1131.5,369.15 1133.0,369.98 1134.5,370.73 1136.0,371.39 1137.5,371.98 1139.0,372.50 1140.6,372.95 1142.1,373.34 1143.6,373.68 1145.1,373.97 1146.6,374.22 1148.1,374.43 1149.6,374.60 1151.2,374.75 1152.7,374.87 1154.2,374.98 1155.7,375.06 1157.2,375.13 1158.7,375.19 1160.2,375.23 1161.7,375.27 1163.2,375.30 1164.8,375.32 1166.3,375.34 1167.8,375.35 1169.3,375.36 1170.8,375.37 1172.3,375.38 1173.8,375.38 1175.3,375.39 1176.9,375.39 1178.4,375.39 1179.9,375.40 1181.4,375.40 1182.9,375.40 1184.4,375.40 1185.9,375.40 1187.5,375.40 1189.0,375.40 1190.5,375.40 1192.0,375.40 1193.5,375.40 1195.0,375.40 1196.5,375.40 1198.0,375.40 1199.5,375.40 1201.1,375.40 1202.6,375.40 1204.1,375.40 1205.6,375.40 1207.1,375.40 1208.6,375.40 1210.1,375.40 1211.7,375.40 1213.2,375.40 1214.7,375.40 1216.2,375.40 1217.7,375.40 1219.2,375.40 1220.7,375.40 1222.2,375.40 1223.8,375.40 1225.3,375.40 1226.8,375.40 1228.3,375.40 1229.8,375.40 1231.3,375.40 1232.8,375.40 1234.3,375.40 1235.8,375.40 1237.4,375.40 1238.9,375.40 1240.4,375.40 1241.9,375.40 1243.4,375.40 1244.9,375.40 1246.4,375.40 1248.0,375.40 1249.5,375.40 1251.0,375.40 1252.5,375.40 1254.0,375.40" fill="none" stroke="#2040f0" stroke-width="2.2" stroke-linejoin="round"/>
<polyline points="891.0,431.50 892.5,431.50 894.0,431.50 895.5,431.50 897.0,431.50 898.6,431.50 900.1,431.50 901.6,431.50 903.1,431.50 904.6,431.50 906.1,431.50 907.6,431.50 909.1,431.50 910.7,431.50 912.2,431.50 913.7,431.50 915.2,431.50 916.7,431.50 918.2,431.50 919.7,431.50 921.2,431.50 922.8,431.50 924.3,431.50 925.8,431.50 927.3,431.50 928.8,431.50 930.3,431.50 931.8,431.50 933.4,431.50 934.9,431.50 936.4,431.50 937.9,431.50 939.4,431.50 940.9,431.50 942.4,431.50 943.9,431.50 945.5,431.50 947.0,431.50 948.5,431.50 950.0,431.50 951.5,431.50 953.0,431.50 954.5,431.50 956.0,431.50 957.5,431.50 959.1,431.50 960.6,431.50 962.1,431.50 963.6,431.50 965.1,431.50 966.6,431.50 968.1,431.50 969.6,431.50 971.2,431.50 972.7,431.49 974.2,431.49 975.7,431.49 977.2,431.49 978.7,431.49 980.2,431.48 981.8,431.48 983.3,431.47 984.8,431.47 986.3,431.46 987.8,431.45 989.3,431.44 990.8,431.43 992.3,431.42 993.9,431.40 995.4,431.38 996.9,431.36 998.4,431.33 999.9,431.30 1001.4,431.26 1002.9,431.21 1004.4,431.16 1006.0,431.10 1007.5,431.03 1009.0,430.95 1010.5,430.86 1012.0,430.75 1013.5,430.63 1015.0,430.49 1016.5,430.34 1018.0,430.16 1019.6,429.97 1021.1,429.75 1022.6,429.50 1024.1,429.22 1025.6,428.92 1027.1,428.58 1028.6,428.21 1030.2,427.80 1031.7,427.36 1033.2,426.87 1034.7,426.34 1036.2,425.77 1037.7,425.15 1039.2,424.49 1040.7,423.78 1042.2,423.02 1043.8,422.22 1045.3,421.36 1046.8,420.47 1048.3,419.52 1049.8,418.54 1051.3,417.52 1052.8,416.46 1054.3,415.36 1055.9,414.24 1057.4,413.09 1058.9,411.92 1060.4,410.74 1061.9,409.55 1063.4,408.36 1064.9,407.18 1066.5,406.01 1068.0,404.87 1069.5,403.75 1071.0,402.67 1072.5,401.64 1074.0,400.66 1075.5,399.74 1077.0,398.89 1078.5,398.11 1080.1,397.42 1081.6,396.81 1083.1,396.29 1084.6,395.87 1086.1,395.55 1087.6,395.33 1089.1,395.22 1090.7,395.21 1092.2,395.31 1093.7,395.51 1095.2,395.82 1096.7,396.22 1098.2,396.73 1099.7,397.32 1101.2,398.01 1102.8,398.77 1104.3,399.62 1105.8,400.53 1107.3,401.50 1108.8,402.53 1110.3,403.60 1111.8,404.71 1113.3,405.85 1114.8,407.02 1116.4,408.20 1117.9,409.38 1119.4,410.57 1120.9,411.76 1122.4,412.93 1123.9,414.08 1125.4,415.20 1127.0,416.30 1128.5,417.37 1130.0,418.40 1131.5,419.39 1133.0,420.34 1134.5,421.24 1136.0,422.10 1137.5,422.91 1139.0,423.67 1140.6,424.39 1142.1,425.06 1143.6,425.69 1145.1,426.26 1146.6,426.80 1148.1,427.29 1149.6,427.74 1151.2,428.16 1152.7,428.53 1154.2,428.87 1155.7,429.18 1157.2,429.46 1158.7,429.71 1160.2,429.94 1161.7,430.14 1163.2,430.31 1164.8,430.47 1166.3,430.61 1167.8,430.73 1169.3,430.84 1170.8,430.94 1172.3,431.02 1173.8,431.09 1175.3,431.15 1176.9,431.20 1178.4,431.25 1179.9,431.29 1181.4,431.32 1182.9,431.35 1184.4,431.38 1185.9,431.40 1187.5,431.41 1189.0,431.43 1190.5,431.44 1192.0,431.45 1193.5,431.46 1195.0,431.47 1196.5,431.47 1198.0,431.48 1199.5,431.48 1201.1,431.49 1202.6,431.49 1204.1,431.49 1205.6,431.49 1207.1,431.49 1208.6,431.50 1210.1,431.50 1211.7,431.50 1213.2,431.50 1214.7,431.50 1216.2,431.50 1217.7,431.50 1219.2,431.50 1220.7,431.50 1222.2,431.50 1223.8,431.50 1225.3,431.50 1226.8,431.50 1228.3,431.50 1229.8,431.50 1231.3,431.50 1232.8,431.50 1234.3,431.50 1235.8,431.50 1237.4,431.50 1238.9,431.50 1240.4,431.50 1241.9,431.50 1243.4,431.50 1244.9,431.50 1246.4,431.50 1248.0,431.50 1249.5,431.50 1251.0,431.50 1252.5,431.50 1254.0,431.50" fill="none" stroke="#1fc3cf" stroke-width="2.2" stroke-linejoin="round"/>
<polyline points="891.0,472.70 892.5,472.70 894.0,472.70 895.5,472.70 897.0,472.70 898.6,472.70 900.1,472.70 901.6,472.70 903.1,472.70 904.6,472.70 906.1,472.70 907.6,472.70 909.1,472.70 910.7,472.70 912.2,472.70 913.7,472.70 915.2,472.70 916.7,472.70 918.2,472.70 919.7,472.70 921.2,472.70 922.8,472.70 924.3,472.70 925.8,472.70 927.3,472.70 928.8,472.70 930.3,472.70 931.8,472.70 933.4,472.70 934.9,472.70 936.4,472.70 937.9,472.70 939.4,472.70 940.9,472.70 942.4,472.70 943.9,472.70 945.5,472.70 947.0,472.70 948.5,472.70 950.0,472.70 951.5,472.70 953.0,472.70 954.5,472.69 956.0,472.69 957.5,472.69 959.1,472.69 960.6,472.69 962.1,472.69 963.6,472.69 965.1,472.68 966.6,472.68 968.1,472.68 969.6,472.67 971.2,472.67 972.7,472.66 974.2,472.65 975.7,472.65 977.2,472.64 978.7,472.63 980.2,472.61 981.8,472.60 983.3,472.58 984.8,472.57 986.3,472.55 987.8,472.52 989.3,472.50 990.8,472.47 992.3,472.43 993.9,472.40 995.4,472.35 996.9,472.31 998.4,472.26 999.9,472.20 1001.4,472.13 1002.9,472.06 1004.4,471.98 1006.0,471.89 1007.5,471.79 1009.0,471.68 1010.5,471.56 1012.0,471.43 1013.5,471.29 1015.0,471.14 1016.5,470.97 1018.0,470.79 1019.6,470.59 1021.1,470.37 1022.6,470.14 1024.1,469.90 1025.6,469.63 1027.1,469.35 1028.6,469.04 1030.2,468.72 1031.7,468.38 1033.2,468.02 1034.7,467.63 1036.2,467.23 1037.7,466.81 1039.2,466.36 1040.7,465.90 1042.2,465.41 1043.8,464.91 1045.3,464.39 1046.8,463.85 1048.3,463.30 1049.8,462.73 1051.3,462.15 1052.8,461.55 1054.3,460.95 1055.9,460.33 1057.4,459.71 1058.9,459.09 1060.4,458.46 1061.9,457.84 1063.4,457.22 1064.9,456.60 1066.5,455.99 1068.0,455.40 1069.5,454.81 1071.0,454.25 1072.5,453.70 1074.0,453.18 1075.5,452.68 1077.0,452.21 1078.5,451.78 1080.1,451.37 1081.6,451.00 1083.1,450.66 1084.6,450.37 1086.1,450.12 1087.6,449.90 1089.1,449.74 1090.7,449.61 1092.2,449.53 1093.7,449.50 1095.2,449.51 1096.7,449.57 1098.2,449.68 1099.7,449.83 1101.2,450.02 1102.8,450.26 1104.3,450.53 1105.8,450.85 1107.3,451.21 1108.8,451.60 1110.3,452.02 1111.8,452.48 1113.3,452.96 1114.8,453.48 1116.4,454.01 1117.9,454.57 1119.4,455.14 1120.9,455.73 1122.4,456.34 1123.9,456.95 1125.4,457.57 1127.0,458.19 1128.5,458.82 1130.0,459.44 1131.5,460.07 1133.0,460.68 1134.5,461.29 1136.0,461.89 1137.5,462.48 1139.0,463.06 1140.6,463.62 1142.1,464.16 1143.6,464.69 1145.1,465.20 1146.6,465.69 1148.1,466.17 1149.6,466.62 1151.2,467.05 1152.7,467.46 1154.2,467.85 1155.7,468.23 1157.2,468.58 1158.7,468.91 1160.2,469.22 1161.7,469.51 1163.2,469.78 1164.8,470.04 1166.3,470.28 1167.8,470.50 1169.3,470.70 1170.8,470.89 1172.3,471.07 1173.8,471.23 1175.3,471.37 1176.9,471.51 1178.4,471.63 1179.9,471.75 1181.4,471.85 1182.9,471.94 1184.4,472.02 1185.9,472.10 1187.5,472.17 1189.0,472.23 1190.5,472.29 1192.0,472.34 1193.5,472.38 1195.0,472.42 1196.5,472.45 1198.0,472.49 1199.5,472.51 1201.1,472.54 1202.6,472.56 1204.1,472.58 1205.6,472.59 1207.1,472.61 1208.6,472.62 1210.1,472.63 1211.7,472.64 1213.2,472.65 1214.7,472.66 1216.2,472.66 1217.7,472.67 1219.2,472.67 1220.7,472.68 1222.2,472.68 1223.8,472.68 1225.3,472.69 1226.8,472.69 1228.3,472.69 1229.8,472.69 1231.3,472.69 1232.8,472.69 1234.3,472.70 1235.8,472.70 1237.4,472.70 1238.9,472.70 1240.4,472.70 1241.9,472.70 1243.4,472.70 1244.9,472.70 1246.4,472.70 1248.0,472.70 1249.5,472.70 1251.0,472.70 1252.5,472.70 1254.0,472.70" fill="none" stroke="#22cc22" stroke-width="2.2" stroke-linejoin="round"/>
<polyline points="891.0,496.99 892.5,496.99 894.0,496.99 895.5,496.99 897.0,496.99 898.6,496.99 900.1,496.99 901.6,496.99 903.1,496.99 904.6,496.99 906.1,496.99 907.6,496.98 909.1,496.98 910.7,496.98 912.2,496.98 913.7,496.98 915.2,496.98 916.7,496.97 918.2,496.97 919.7,496.97 921.2,496.97 922.8,496.96 924.3,496.96 925.8,496.96 927.3,496.95 928.8,496.95 930.3,496.94 931.8,496.94 933.4,496.93 934.9,496.93 936.4,496.92 937.9,496.92 939.4,496.91 940.9,496.90 942.4,496.90 943.9,496.89 945.5,496.88 947.0,496.87 948.5,496.86 950.0,496.85 951.5,496.84 953.0,496.82 954.5,496.81 956.0,496.80 957.5,496.78 959.1,496.77 960.6,496.75 962.1,496.73 963.6,496.72 965.1,496.70 966.6,496.68 968.1,496.65 969.6,496.63 971.2,496.61 972.7,496.58 974.2,496.55 975.7,496.53 977.2,496.50 978.7,496.46 980.2,496.43 981.8,496.40 983.3,496.36 984.8,496.32 986.3,496.28 987.8,496.24 989.3,496.20 990.8,496.15 992.3,496.11 993.9,496.06 995.4,496.01 996.9,495.95 998.4,495.90 999.9,495.84 1001.4,495.78 1002.9,495.72 1004.4,495.66 1006.0,495.59 1007.5,495.52 1009.0,495.45 1010.5,495.38 1012.0,495.30 1013.5,495.23 1015.0,495.15 1016.5,495.06 1018.0,494.98 1019.6,494.89 1021.1,494.81 1022.6,494.71 1024.1,494.62 1025.6,494.53 1027.1,494.43 1028.6,494.33 1030.2,494.23 1031.7,494.13 1033.2,494.02 1034.7,493.92 1036.2,493.81 1037.7,493.70 1039.2,493.59 1040.7,493.47 1042.2,493.36 1043.8,493.25 1045.3,493.13 1046.8,493.01 1048.3,492.90 1049.8,492.78 1051.3,492.66 1052.8,492.54 1054.3,492.42 1055.9,492.30 1057.4,492.19 1058.9,492.07 1060.4,491.95 1061.9,491.83 1063.4,491.72 1064.9,491.60 1066.5,491.49 1068.0,491.38 1069.5,491.27 1071.0,491.16 1072.5,491.05 1074.0,490.95 1075.5,490.85 1077.0,490.75 1078.5,490.65 1080.1,490.56 1081.6,490.46 1083.1,490.38 1084.6,490.29 1086.1,490.21 1087.6,490.13 1089.1,490.06 1090.7,489.99 1092.2,489.93 1093.7,489.87 1095.2,489.81 1096.7,489.76 1098.2,489.71 1099.7,489.67 1101.2,489.63 1102.8,489.59 1104.3,489.57 1105.8,489.54 1107.3,489.52 1108.8,489.51 1110.3,489.50 1111.8,489.50 1113.3,489.50 1114.8,489.51 1116.4,489.52 1117.9,489.54 1119.4,489.56 1120.9,489.59 1122.4,489.62 1123.9,489.66 1125.4,489.70 1127.0,489.75 1128.5,489.80 1130.0,489.85 1131.5,489.91 1133.0,489.98 1134.5,490.04 1136.0,490.12 1137.5,490.19 1139.0,490.27 1140.6,490.36 1142.1,490.44 1143.6,490.53 1145.1,490.63 1146.6,490.72 1148.1,490.82 1149.6,490.92 1151.2,491.03 1152.7,491.13 1154.2,491.24 1155.7,491.35 1157.2,491.46 1158.7,491.58 1160.2,491.69 1161.7,491.81 1163.2,491.92 1164.8,492.04 1166.3,492.16 1167.8,492.28 1169.3,492.40 1170.8,492.51 1172.3,492.63 1173.8,492.75 1175.3,492.87 1176.9,492.99 1178.4,493.10 1179.9,493.22 1181.4,493.33 1182.9,493.45 1184.4,493.56 1185.9,493.67 1187.5,493.78 1189.0,493.89 1190.5,494.00 1192.0,494.10 1193.5,494.21 1195.0,494.31 1196.5,494.41 1198.0,494.50 1199.5,494.60 1201.1,494.69 1202.6,494.78 1204.1,494.87 1205.6,494.96 1207.1,495.05 1208.6,495.13 1210.1,495.21 1211.7,495.29 1213.2,495.36 1214.7,495.43 1216.2,495.51 1217.7,495.57 1219.2,495.64 1220.7,495.71 1222.2,495.77 1223.8,495.83 1225.3,495.89 1226.8,495.94 1228.3,496.00 1229.8,496.05 1231.3,496.10 1232.8,496.14 1234.3,496.19 1235.8,496.23 1237.4,496.27 1238.9,496.31 1240.4,496.35 1241.9,496.39 1243.4,496.42 1244.9,496.46 1246.4,496.49 1248.0,496.52 1249.5,496.55 1251.0,496.58 1252.5,496.60 1254.0,496.63" fill="none" stroke="#e3d52e" stroke-width="2.2" stroke-linejoin="round"/>
<line x1="1090.5" y1="249" x2="1090.5" y2="504" stroke="#000" stroke-width="1.6" stroke-dasharray="7,4"/>
<rect x="891" y="248" width="363" height="271.5" fill="none" stroke="#000" stroke-width="2.2"/>
<line x1="951.5" y1="519.5" x2="951.5" y2="516.5" stroke="#000" stroke-width="1.8"/>
<line x1="1012.0" y1="519.5" x2="1012.0" y2="514.5" stroke="#000" stroke-width="1.8"/>
<line x1="1072.5" y1="519.5" x2="1072.5" y2="516.5" stroke="#000" stroke-width="1.8"/>
<line x1="1133.0" y1="519.5" x2="1133.0" y2="514.5" stroke="#000" stroke-width="1.8"/>
<line x1="1193.5" y1="519.5" x2="1193.5" y2="516.5" stroke="#000" stroke-width="1.8"/>
<text x="891.0" y="538.8" font-size="17.5" font-weight="bold" text-anchor="middle" fill="#000" >13.5</text>
<text x="1012.0" y="538.8" font-size="17.5" font-weight="bold" text-anchor="middle" fill="#000" >14.0</text>
<text x="1133.0" y="538.8" font-size="17.5" font-weight="bold" text-anchor="middle" fill="#000" >14.5</text>
<text x="1254.0" y="538.8" font-size="17.5" font-weight="bold" text-anchor="middle" fill="#000" >15.0</text>
<text x="1072.0" y="560.5" font-size="20" font-weight="bold" text-anchor="middle" fill="#000" >2&#952; (&#176;)</text>
<text transform="translate(872.5,383) rotate(-90)" font-size="21" font-weight="bold" text-anchor="middle">Intensity(a.u.)</text>
<text x="1248.0" y="308.0" font-size="17.5" font-weight="bold" text-anchor="end" fill="#000" >&#969;= 2.5&#176;</text>
<text x="1236.0" y="371.6" font-size="17.5" font-weight="bold" text-anchor="end" fill="#000" >&#969;= 2&#176;</text>
<text x="1250.0" y="426.0" font-size="17.5" font-weight="bold" text-anchor="end" fill="#000" >&#969;= 1.5&#176;</text>
<text x="1240.0" y="467.0" font-size="17.5" font-weight="bold" text-anchor="end" fill="#000" >&#969;= 1&#176;</text>
<text x="1252.0" y="493.0" font-size="17.5" font-weight="bold" text-anchor="end" fill="#000" >&#969;= 0.5&#176;</text>
<text x="857.0" y="247.0" font-size="28.5" font-weight="bold" text-anchor="start" fill="#000" >(e)</text>
<linearGradient id="cyl65" x1="0" x2="1" y1="0" y2="0"><stop offset="0" stop-color="#5a5a5a"/><stop offset="0.1" stop-color="#8a8a8a"/><stop offset="0.32" stop-color="#f8f8f8"/><stop offset="0.85" stop-color="#ffffff"/><stop offset="1" stop-color="#e8e8e8"/></linearGradient>
<path d="M65,128 L65,166 A14.5,4 0 0 0 94,166 L94,128 Z" fill="url(#cyl65)" stroke="#000" stroke-width="0.8"/>
<polygon points="25.20,106.90 98.50,117.90 98.50,122.10 25.20,111.10" fill="#30d0f0" stroke="#000" stroke-width="0.8" stroke-linejoin="round" />
<polygon points="98.50,117.90 134.50,95.70 134.50,99.90 98.50,122.10" fill="#28b8d8" stroke="#000" stroke-width="0.8" stroke-linejoin="round" />
<polygon points="25.20,111.10 98.50,122.10 98.50,131.30 25.20,120.30" fill="#cfe4ea" stroke="#000" stroke-width="0.8" stroke-linejoin="round" />
<polygon points="98.50,122.10 134.50,99.90 134.50,109.10 98.50,131.30" fill="#b7ced4" stroke="#000" stroke-width="0.8" stroke-linejoin="round" />
<polygon points="25.20,120.30 98.50,131.30 98.50,139.70 25.20,128.70" fill="#ffffff" stroke="#000" stroke-width="0.8" stroke-linejoin="round" />
<polygon points="98.50,131.30 134.50,109.10 134.50,117.50 98.50,139.70" fill="#ececec" stroke="#000" stroke-width="0.8" stroke-linejoin="round" />
<polygon points="25.20,106.90 98.50,117.90 134.50,95.70 61.20,84.70" fill="#35d8f7" stroke="#000" stroke-width="0.8" stroke-linejoin="round" />
<text transform="matrix(0.9889,0.1484,-0.4256,0.2624,79.10,101.50)" font-size="12" font-weight="bold" text-anchor="middle" dominant-baseline="central" fill="#000" stroke="#000" stroke-width="0.5" letter-spacing="1.4">4FAPCB</text>
<text transform="matrix(0.9889,0.1484,0,1,50.20,124.10)" font-size="9.6" fill="#000" stroke="#000" stroke-width="0.25">NiO<tspan font-size="6.5" dy="2">x</tspan></text>
<text transform="matrix(0.9889,0.1484,0,1,50.10,132.90)" font-size="9.8" fill="#000" stroke="#000" stroke-width="0.25">ITO</text>
<line x1="128" y1="132" x2="171.5" y2="132" stroke="#000" stroke-width="1.6"/>
<polyline points="164.5,127 171.5,132 164.5,137" fill="none" stroke="#000" stroke-width="1.6"/>
<path d="M214.30,166.50 C211.92,165.80 204.13,164.13 200.00,162.30 C195.87,160.47 190.83,157.80 189.50,155.50 C188.17,153.20 189.58,150.33 192.00,148.50 C194.42,146.67 199.67,145.45 204.00,144.50 C208.33,143.55 213.50,143.13 218.00,142.80 C222.50,142.47 226.57,142.27 231.00,142.50 C235.43,142.73 240.85,143.53 244.60,144.20 C248.35,144.87 251.02,145.45 253.50,146.50 C255.98,147.55 258.25,148.92 259.50,150.50 C260.75,152.08 260.75,155.08 261.00,156.00 " fill="none" stroke="#174d6c" stroke-width="2.9" stroke-linecap="butt"/>
<polygon points="255.5,154.8 268.5,158.8 257.0,162.8" fill="#0b3a55"/>
<linearGradient id="cyl217" x1="0" x2="1" y1="0" y2="0"><stop offset="0" stop-color="#5a5a5a"/><stop offset="0.1" stop-color="#8a8a8a"/><stop offset="0.32" stop-color="#f8f8f8"/><stop offset="0.85" stop-color="#ffffff"/><stop offset="1" stop-color="#e8e8e8"/></linearGradient>
<path d="M217.5,128 L217.5,165.5 A13.5,4 0 0 0 244.5,165.5 L244.5,128 Z" fill="url(#cyl217)" stroke="#000" stroke-width="0.8"/>
<polygon points="176.70,107.00 250.00,118.00 250.00,122.20 176.70,111.20" fill="#30d0f0" stroke="#000" stroke-width="0.8" stroke-linejoin="round" />
<polygon points="250.00,118.00 286.00,95.80 286.00,100.00 250.00,122.20" fill="#28b8d8" stroke="#000" stroke-width="0.8" stroke-linejoin="round" />
<polygon points="176.70,111.20 250.00,122.20 250.00,131.40 176.70,120.40" fill="#cfe4ea" stroke="#000" stroke-width="0.8" stroke-linejoin="round" />
<polygon points="250.00,122.20 286.00,100.00 286.00,109.20 250.00,131.40" fill="#b7ced4" stroke="#000" stroke-width="0.8" stroke-linejoin="round" />
<polygon points="176.70,120.40 250.00,131.40 250.00,139.80 176.70,128.80" fill="#ffffff" stroke="#000" stroke-width="0.8" stroke-linejoin="round" />
<polygon points="250.00,131.40 286.00,109.20 286.00,117.60 250.00,139.80" fill="#ececec" stroke="#000" stroke-width="0.8" stroke-linejoin="round" />
<polygon points="176.70,107.00 250.00,118.00 286.00,95.80 212.70,84.80" fill="#35d8f7" stroke="#000" stroke-width="0.8" stroke-linejoin="round" />
<text transform="matrix(0.9889,0.1484,-0.4256,0.2624,230.40,101.50)" font-size="12" font-weight="bold" text-anchor="middle" dominant-baseline="central" fill="#000" stroke="#000" stroke-width="0.5" letter-spacing="1.4">4FAPCB</text>
<text transform="matrix(0.9889,0.1484,0,1,201.70,124.20)" font-size="9.6" fill="#000" stroke="#000" stroke-width="0.25">NiO<tspan font-size="6.5" dy="2">x</tspan></text>
<text transform="matrix(0.9889,0.1484,0,1,201.60,133.00)" font-size="9.8" fill="#000" stroke="#000" stroke-width="0.25">ITO</text>
<path d="M232.3,22 C233.10000000000002,31 241.0,39.269999999999996 241.0,47.099999999999994 A8.7,8.7 0 0 1 223.60000000000002,47.099999999999994 C223.60000000000002,39.269999999999996 231.5,31 232.3,22 Z" fill="#d4a64a"/>
<text x="237.4" y="73.3" font-size="20" font-weight="bold" text-anchor="middle" fill="#000" >GBAM</text>
<line x1="282.5" y1="132.5" x2="326.5" y2="132.5" stroke="#000" stroke-width="1.6"/>
<polyline points="319.5,127.5 326.5,132.5 319.5,137.5" fill="none" stroke="#000" stroke-width="1.6"/>
<rect x="343.5" y="63.5" width="131" height="108.5" fill="none" stroke="#000" stroke-width="2.6" stroke-dasharray="8,4"/>
<polygon points="355.00,105.40 427.30,116.20 427.30,121.40 355.00,110.60" fill="#d9ae55" stroke="#000" stroke-width="0.8" stroke-linejoin="round" />
<polygon points="427.30,116.20 462.40,93.90 462.40,99.10 427.30,121.40" fill="#c29a45" stroke="#000" stroke-width="0.8" stroke-linejoin="round" />
<polygon points="355.00,110.60 427.30,121.40 427.30,125.40 355.00,114.60" fill="#30d0f0" stroke="#000" stroke-width="0.8" stroke-linejoin="round" />
<polygon points="427.30,121.40 462.40,99.10 462.40,103.10 427.30,125.40" fill="#28b8d8" stroke="#000" stroke-width="0.8" stroke-linejoin="round" />
<polygon points="355.00,114.60 427.30,125.40 427.30,133.60 355.00,122.80" fill="#cfe4ea" stroke="#000" stroke-width="0.8" stroke-linejoin="round" />
<polygon points="427.30,125.40 462.40,103.10 462.40,111.30 427.30,133.60" fill="#b7ced4" stroke="#000" stroke-width="0.8" stroke-linejoin="round" />
<polygon points="355.00,122.80 427.30,133.60 427.30,141.00 355.00,130.20" fill="#ffffff" stroke="#000" stroke-width="0.8" stroke-linejoin="round" />
<polygon points="427.30,133.60 462.40,111.30 462.40,118.70 427.30,141.00" fill="#ececec" stroke="#000" stroke-width="0.8" stroke-linejoin="round" />
<polygon points="355.00,105.40 427.30,116.20 462.40,93.90 390.10,83.10" fill="#d8ad55" stroke="#000" stroke-width="0.8" stroke-linejoin="round" />
<text transform="matrix(0.9890,0.1477,-0.4220,0.2681,409.00,99.60)" font-size="12" font-weight="bold" text-anchor="middle" dominant-baseline="central" fill="#000" stroke="#000" stroke-width="0.5" letter-spacing="1.4">GBAM</text>
<text transform="matrix(0.9890,0.1477,0,1,379.30,126.40)" font-size="9.6" fill="#000" stroke="#000" stroke-width="0.25">NiO<tspan font-size="6.5" dy="2">x</tspan></text>
<text transform="matrix(0.9890,0.1477,0,1,380.00,135.10)" font-size="9.8" fill="#000" stroke="#000" stroke-width="0.25">ITO</text>
<text x="353.5" y="166.2" font-size="19.6" font-weight="bold" text-anchor="start" fill="#000" >N<tspan font-size="13.5" dy="4">2</tspan><tspan dy="-4"> drying/ 1 h</tspan></text>
<line x1="480" y1="130.6" x2="524" y2="130.6" stroke="#000" stroke-width="1.6"/>
<polyline points="517,125.6 524,130.6 517,135.6" fill="none" stroke="#000" stroke-width="1.6"/>
<path d="M568.30,166.20 C565.92,165.50 558.13,163.83 554.00,162.00 C549.87,160.17 544.83,157.50 543.50,155.20 C542.17,152.90 543.58,150.03 546.00,148.20 C548.42,146.37 553.67,145.15 558.00,144.20 C562.33,143.25 567.50,142.83 572.00,142.50 C576.50,142.17 580.57,141.97 585.00,142.20 C589.43,142.43 594.85,143.23 598.60,143.90 C602.35,144.57 605.02,145.15 607.50,146.20 C609.98,147.25 612.25,148.62 613.50,150.20 C614.75,151.78 614.75,154.78 615.00,155.70 " fill="none" stroke="#174d6c" stroke-width="2.9" stroke-linecap="butt"/>
<polygon points="609.5,154.5 622.5,158.5 611.0,162.5" fill="#0b3a55"/>
<linearGradient id="cyl570" x1="0" x2="1" y1="0" y2="0"><stop offset="0" stop-color="#5a5a5a"/><stop offset="0.1" stop-color="#8a8a8a"/><stop offset="0.32" stop-color="#f8f8f8"/><stop offset="0.85" stop-color="#ffffff"/><stop offset="1" stop-color="#e8e8e8"/></linearGradient>
<path d="M570.7,126 L570.7,165 A14.149999999999977,4 0 0 0 599,165 L599,126 Z" fill="url(#cyl570)" stroke="#000" stroke-width="0.8"/>
<polygon points="530.20,104.00 603.10,114.00 603.10,119.20 530.20,109.20" fill="#d9ae55" stroke="#000" stroke-width="0.8" stroke-linejoin="round" />
<polygon points="603.10,114.00 638.60,91.20 638.60,96.40 603.10,119.20" fill="#c29a45" stroke="#000" stroke-width="0.8" stroke-linejoin="round" />
<polygon points="530.20,109.20 603.10,119.20 603.10,123.20 530.20,113.20" fill="#30d0f0" stroke="#000" stroke-width="0.8" stroke-linejoin="round" />
<polygon points="603.10,119.20 638.60,96.40 638.60,100.40 603.10,123.20" fill="#28b8d8" stroke="#000" stroke-width="0.8" stroke-linejoin="round" />
<polygon points="530.20,113.20 603.10,123.20 603.10,131.40 530.20,121.40" fill="#cfe4ea" stroke="#000" stroke-width="0.8" stroke-linejoin="round" />
<polygon points="603.10,123.20 638.60,100.40 638.60,108.60 603.10,131.40" fill="#b7ced4" stroke="#000" stroke-width="0.8" stroke-linejoin="round" />
<polygon points="530.20,121.40 603.10,131.40 603.10,138.80 530.20,128.80" fill="#ffffff" stroke="#000" stroke-width="0.8" stroke-linejoin="round" />
<polygon points="603.10,131.40 638.60,108.60 638.60,116.00 603.10,138.80" fill="#ececec" stroke="#000" stroke-width="0.8" stroke-linejoin="round" />
<polygon points="530.20,104.00 603.10,114.00 638.60,91.20 565.70,81.20" fill="#d8ad55" stroke="#000" stroke-width="0.8" stroke-linejoin="round" />
<text transform="matrix(0.9907,0.1359,-0.4207,0.2702,584.80,97.80)" font-size="12" font-weight="bold" text-anchor="middle" dominant-baseline="central" fill="#000" stroke="#000" stroke-width="0.5" letter-spacing="1.4">GBAM</text>
<text transform="matrix(0.9907,0.1359,0,1,554.90,124.00)" font-size="9.6" fill="#000" stroke="#000" stroke-width="0.25">NiO<tspan font-size="6.5" dy="2">x</tspan></text>
<text transform="matrix(0.9907,0.1359,0,1,555.70,133.10)" font-size="9.8" fill="#000" stroke="#000" stroke-width="0.25">ITO</text>
<path d="M589.5,21.3 C590.3,30.3 598.0,37.95 598.0,45.6 A8.5,8.5 0 0 1 581.0,45.6 C581.0,37.95 588.7,30.3 589.5,21.3 Z" fill="#c00000"/>
<text x="601.0" y="74.9" font-size="19.4" font-weight="bold" text-anchor="middle" fill="#000" >Perovskite</text>
<line x1="637.5" y1="129" x2="681.5" y2="129" stroke="#000" stroke-width="1.6"/>
<polyline points="674.5,124 681.5,129 674.5,134" fill="none" stroke="#000" stroke-width="1.6"/>
<linearGradient id="hpFront" x1="0" y1="0" x2="0" y2="1"><stop offset="0" stop-color="#2a74a0"/><stop offset="0.14" stop-color="#58a6d0"/><stop offset="0.3" stop-color="#1f628a"/><stop offset="0.7" stop-color="#15506f"/><stop offset="1" stop-color="#0c3550"/></linearGradient>
<linearGradient id="hpSide" x1="0" y1="0" x2="1" y2="0"><stop offset="0" stop-color="#3c86ad"/><stop offset="0.5" stop-color="#4e8fb0"/><stop offset="1" stop-color="#2b6688"/></linearGradient>
<linearGradient id="hpSideV" x1="0" y1="0" x2="0" y2="1"><stop offset="0" stop-color="#1d5e85" stop-opacity="0.6"/><stop offset="0.25" stop-color="#2a6f98" stop-opacity="0"/><stop offset="0.8" stop-color="#1b4f70" stop-opacity="0"/><stop offset="1" stop-color="#123a55" stop-opacity="0.7"/></linearGradient>
<linearGradient id="hpTop" x1="0" y1="0" x2="0" y2="1"><stop offset="0" stop-color="#1a5a80"/><stop offset="1" stop-color="#1f6690"/></linearGradient>
<linearGradient id="grayCyl" x1="0" y1="0" x2="1" y2="0"><stop offset="0" stop-color="#d0d0d0"/><stop offset="0.12" stop-color="#e6e6e6"/><stop offset="0.45" stop-color="#b8b8b8"/><stop offset="0.8" stop-color="#8a8a8a"/><stop offset="0.9" stop-color="#a0a0a0"/><stop offset="0.97" stop-color="#f4f4f4"/><stop offset="1" stop-color="#d8d8d8"/></linearGradient>
<filter id="blur1" x="-20%" y="-50%" width="140%" height="200%"><feGaussianBlur stdDeviation="1.2"/></filter>
<path d="M701.6,99.9 L722,86.6 L830,93.2 L799.8,114.8 Z" fill="url(#hpTop)"/>
<path d="M799.8,114.8 L830,93.2 C840,104 843,125 842.2,143.1 L802.3,167.3 C803,145 802,125 799.8,114.8 Z" fill="url(#hpSide)"/>
<path d="M701.6,99.9 L799.8,114.8 C802,125 803,145 802.3,167.3 L690,150.6 C690,130 693,110 701.6,99.9 Z" fill="url(#hpFront)"/>
<path d="M701.6,99.9 L799.8,114.8 C802,125 803,145 802.3,167.3 L690,150.6 C690,130 693,110 701.6,99.9 Z" fill="url(#hpSideV)"/>
<path d="M722.9,91.3 C721,80 722,68 729,61 C745,50 792,51 806,63 C811,70 812.5,85 811.7,96.3 C800,102.5 782,103.5 766,103 C745,102.5 728,99 722.9,91.3 Z" fill="url(#grayCyl)"/>
<clipPath id="platclip"><path d="M722.9,91.3 C721,80 722,68 729,61 C745,50 792,51 806,63 C811,70 812.5,85 811.7,96.3 C800,102.5 782,103.5 766,103 C745,102.5 728,99 722.9,91.3 Z"/></clipPath>
<g clip-path="url(#platclip)"><ellipse cx="767" cy="66" rx="43" ry="12" fill="#d3d3d3"/><path d="M724,72 C740,80 790,82 810,72" fill="none" stroke="#ffffff" stroke-width="3" opacity="0.9" filter="url(#blur1)"/></g>
<path d="M703.5,123.2 L783.5,134.8 Q786,135.2 785.8,137.5 L784.8,153.2 Q784.6,155.8 782,155.5 L702,143.3 Q699.8,143 700,140.6 L701,125.6 Q701.3,122.9 703.5,123.2 Z" fill="#000"/>
<text transform="matrix(0.85,0.11,-0.04,1,743.3,148)" font-size="22.5" font-weight="bold" font-style="italic" fill="#fff" text-anchor="middle">100&#176;C</text>
<circle cx="709.1" cy="120.0" r="4.8" fill="#72c0e6" stroke="#e8f4fa" stroke-width="0.7" stroke-dasharray="0.9,0.9"/>
<circle cx="756.2" cy="125.3" r="4.8" fill="#72c0e6" stroke="#e8f4fa" stroke-width="0.7" stroke-dasharray="0.9,0.9"/>
<polygon points="737.40,45.00 777.80,50.80 777.80,56.00 737.40,50.20" fill="#c81212" stroke="#000" stroke-width="1.0" stroke-linejoin="round" />
<polygon points="777.80,50.80 796.10,38.80 796.10,44.00 777.80,56.00" fill="#b01010" stroke="#000" stroke-width="1.0" stroke-linejoin="round" />
<polygon points="737.40,50.20 777.80,56.00 777.80,60.60 737.40,54.80" fill="#e3b45a" stroke="#000" stroke-width="1.0" stroke-linejoin="round" />
<polygon points="777.80,56.00 796.10,44.00 796.10,48.60 777.80,60.60" fill="#cfa04a" stroke="#000" stroke-width="1.0" stroke-linejoin="round" />
<polygon points="737.40,54.80 777.80,60.60 777.80,65.00 737.40,59.20" fill="#35d8f7" stroke="#000" stroke-width="1.0" stroke-linejoin="round" />
<polygon points="777.80,60.60 796.10,48.60 796.10,53.00 777.80,65.00" fill="#2ab8d8" stroke="#000" stroke-width="1.0" stroke-linejoin="round" />
<polygon points="737.40,59.20 777.80,65.00 777.80,69.60 737.40,63.80" fill="#ddf3f8" stroke="#000" stroke-width="1.0" stroke-linejoin="round" />
<polygon points="777.80,65.00 796.10,53.00 796.10,57.60 777.80,69.60" fill="#c7dfe6" stroke="#000" stroke-width="1.0" stroke-linejoin="round" />
<polygon points="737.40,63.80 777.80,69.60 777.80,77.40 737.40,71.60" fill="#ffffff" stroke="#000" stroke-width="1.0" stroke-linejoin="round" />
<polygon points="777.80,69.60 796.10,57.60 796.10,65.40 777.80,77.40" fill="#eaeaea" stroke="#000" stroke-width="1.0" stroke-linejoin="round" />
<polygon points="737.40,45.00 777.80,50.80 796.10,38.80 755.70,33.00" fill="#cc1414" stroke="#000" stroke-width="1.0" stroke-linejoin="round" />
<radialGradient id="gH" cx="0.42" cy="0.38" r="0.62" fx="0.42" fy="0.32"><stop offset="0" stop-color="#ffffff"/><stop offset="0.45" stop-color="#e6e6e6"/><stop offset="1" stop-color="#8c8c8c"/></radialGradient>
<radialGradient id="gC" cx="0.42" cy="0.38" r="0.62" fx="0.42" fy="0.32"><stop offset="0" stop-color="#d0d0d0"/><stop offset="0.45" stop-color="#707070"/><stop offset="1" stop-color="#2a2a2a"/></radialGradient>
<radialGradient id="gO" cx="0.42" cy="0.38" r="0.62" fx="0.42" fy="0.32"><stop offset="0" stop-color="#ff9a9a"/><stop offset="0.45" stop-color="#ee0000"/><stop offset="1" stop-color="#700000"/></radialGradient>
<radialGradient id="gS" cx="0.42" cy="0.38" r="0.62" fx="0.42" fy="0.32"><stop offset="0" stop-color="#ffff90"/><stop offset="0.45" stop-color="#e8e000"/><stop offset="1" stop-color="#706000"/></radialGradient>
<radialGradient id="gN" cx="0.42" cy="0.38" r="0.62" fx="0.42" fy="0.32"><stop offset="0" stop-color="#9090ff"/><stop offset="0.45" stop-color="#1010e0"/><stop offset="1" stop-color="#000060"/></radialGradient>
<radialGradient id="aH" cx="0.42" cy="0.38" r="0.62" fx="0.42" fy="0.32"><stop offset="0" stop-color="#ffffff"/><stop offset="0.45" stop-color="#d8dcf0"/><stop offset="1" stop-color="#7a80a8"/></radialGradient>
<radialGradient id="aC" cx="0.42" cy="0.38" r="0.62" fx="0.42" fy="0.32"><stop offset="0" stop-color="#e0d8d8"/><stop offset="0.45" stop-color="#a89c9c"/><stop offset="1" stop-color="#605858"/></radialGradient>
<radialGradient id="aCb" cx="0.42" cy="0.38" r="0.62" fx="0.42" fy="0.32"><stop offset="0" stop-color="#d8dcf0"/><stop offset="0.45" stop-color="#9098c0"/><stop offset="1" stop-color="#505880"/></radialGradient>
<radialGradient id="aN" cx="0.42" cy="0.38" r="0.62" fx="0.42" fy="0.32"><stop offset="0" stop-color="#a0a8ff"/><stop offset="0.45" stop-color="#4050e0"/><stop offset="1" stop-color="#101880"/></radialGradient>
<radialGradient id="aNd" cx="0.42" cy="0.38" r="0.62" fx="0.42" fy="0.32"><stop offset="0" stop-color="#6070ff"/><stop offset="0.45" stop-color="#1020e8"/><stop offset="1" stop-color="#000070"/></radialGradient>
<radialGradient id="aO" cx="0.42" cy="0.38" r="0.62" fx="0.42" fy="0.32"><stop offset="0" stop-color="#ff9090"/><stop offset="0.45" stop-color="#ee1818"/><stop offset="1" stop-color="#801010"/></radialGradient>
<radialGradient id="aOd" cx="0.42" cy="0.38" r="0.62" fx="0.42" fy="0.32"><stop offset="0" stop-color="#e07070"/><stop offset="0.45" stop-color="#c01818"/><stop offset="1" stop-color="#601010"/></radialGradient>
<radialGradient id="aS" cx="0.42" cy="0.38" r="0.62" fx="0.42" fy="0.32"><stop offset="0" stop-color="#ffe080"/><stop offset="0.45" stop-color="#e8a820"/><stop offset="1" stop-color="#906010"/></radialGradient>
<radialGradient id="aHb" cx="0.42" cy="0.38" r="0.62" fx="0.42" fy="0.32"><stop offset="0" stop-color="#ffffff"/><stop offset="0.45" stop-color="#b4bcf0"/><stop offset="1" stop-color="#6870b0"/></radialGradient>
<linearGradient id="cbar" x1="0" y1="0" x2="0" y2="1"><stop offset="0" stop-color="#0000ff"/><stop offset="0.5" stop-color="#ffffff"/><stop offset="1" stop-color="#ff0000"/></linearGradient>
<rect x="1107.8" y="73" width="4.6" height="98" rx="2.3" fill="url(#cbar)" stroke="#999" stroke-width="0.5"/>
<text x="1118.5" y="76.3" font-size="11" font-weight="normal" text-anchor="start" fill="#000" >8.000e-2</text>
<text x="1118.5" y="122.3" font-size="11" font-weight="normal" text-anchor="start" fill="#000" >0.000</text>
<text x="1115.5" y="169.8" font-size="11" font-weight="normal" text-anchor="start" fill="#000" >-8.000e-2</text>
<circle cx="1205.5" cy="29.4" r="10.3" fill="url(#gH)"/>
<text x="1238.5" y="40.9" font-size="18" font-weight="bold" text-anchor="start" fill="#000" >H</text>
<circle cx="1205.5" cy="72.2" r="10.3" fill="url(#gC)"/>
<text x="1238.5" y="84.3" font-size="18" font-weight="bold" text-anchor="start" fill="#000" >C</text>
<circle cx="1205.5" cy="118.1" r="10.3" fill="url(#gO)"/>
<text x="1238.5" y="128.4" font-size="18" font-weight="bold" text-anchor="start" fill="#000" >O</text>
<circle cx="1205.5" cy="162.5" r="10.3" fill="url(#gS)"/>
<text x="1238.5" y="171.9" font-size="18" font-weight="bold" text-anchor="start" fill="#000" >S</text>
<circle cx="1205.5" cy="209.4" r="10.3" fill="url(#gN)"/>
<text x="1238.5" y="216.2" font-size="18" font-weight="bold" text-anchor="start" fill="#000" >N</text>
<filter id="soft" x="-20%" y="-20%" width="140%" height="140%"><feGaussianBlur stdDeviation="1.2"/></filter>
<filter id="blur4" x="-30%" y="-30%" width="160%" height="160%"><feGaussianBlur stdDeviation="4"/></filter>
<clipPath id="m1clip"><path d="M907.13,51.22 C907.30,47.45 908.12,41.54 910.09,38.42 C912.06,35.30 916.33,34.97 918.95,32.51 C921.58,30.04 923.55,26.76 925.85,23.64 C928.15,20.52 929.62,16.25 932.74,13.79 C935.86,11.33 940.46,9.52 944.56,8.87 C948.67,8.21 953.43,8.87 957.37,9.85 C961.31,10.84 964.43,13.30 968.20,14.78 C971.98,16.25 976.08,18.22 980.02,18.72 C983.96,19.21 987.58,18.39 991.84,17.73 C996.11,17.07 1001.37,15.43 1005.63,14.78 C1009.90,14.12 1013.84,13.46 1017.45,13.79 C1021.07,14.12 1024.35,15.43 1027.30,16.75 C1030.26,18.06 1032.23,20.69 1035.19,21.67 C1038.14,22.66 1041.10,22.82 1045.04,22.66 C1048.98,22.49 1054.56,20.52 1058.83,20.69 C1063.09,20.85 1067.36,21.51 1070.65,23.64 C1073.93,25.77 1076.88,29.88 1078.53,33.49 C1080.17,37.10 1080.33,41.37 1080.50,45.31 C1080.66,49.25 1078.85,53.52 1079.51,57.13 C1080.17,60.74 1083.78,63.04 1084.44,66.98 C1085.09,70.92 1084.76,76.83 1083.45,80.77 C1082.14,84.71 1079.68,88.00 1076.56,90.62 C1073.44,93.25 1069.00,95.55 1064.74,96.53 C1060.47,97.52 1055.21,95.55 1050.95,96.53 C1046.68,97.52 1043.07,100.64 1039.13,102.44 C1035.19,104.25 1031.90,106.38 1027.30,107.37 C1022.71,108.35 1016.80,108.02 1011.54,108.35 C1006.29,108.68 1000.38,109.50 995.78,109.34 C991.19,109.17 987.58,108.85 983.96,107.37 C980.35,105.89 977.73,102.28 974.11,100.47 C970.50,98.67 966.23,97.85 962.29,96.53 C958.35,95.22 954.08,94.23 950.47,92.59 C946.86,90.95 943.91,88.32 940.62,86.68 C937.34,85.04 933.73,84.06 930.77,82.74 C927.82,81.43 925.19,81.43 922.89,78.80 C920.59,76.18 919.28,69.94 916.98,66.98 C914.68,64.03 910.74,63.70 909.10,61.07 C907.46,58.44 906.97,55.00 907.13,51.22 Z"/></clipPath>
<filter id="blur6" x="-300%" y="-300%" width="700%" height="700%"><feGaussianBlur stdDeviation="6"/></filter>
<filter id="blur3" x="-30%" y="-30%" width="160%" height="160%"><feGaussianBlur stdDeviation="3"/></filter>
<g clip-path="url(#m1clip)">
<path d="M907.13,51.22 C907.30,47.45 908.12,41.54 910.09,38.42 C912.06,35.30 916.33,34.97 918.95,32.51 C921.58,30.04 923.55,26.76 925.85,23.64 C928.15,20.52 929.62,16.25 932.74,13.79 C935.86,11.33 940.46,9.52 944.56,8.87 C948.67,8.21 953.43,8.87 957.37,9.85 C961.31,10.84 964.43,13.30 968.20,14.78 C971.98,16.25 976.08,18.22 980.02,18.72 C983.96,19.21 987.58,18.39 991.84,17.73 C996.11,17.07 1001.37,15.43 1005.63,14.78 C1009.90,14.12 1013.84,13.46 1017.45,13.79 C1021.07,14.12 1024.35,15.43 1027.30,16.75 C1030.26,18.06 1032.23,20.69 1035.19,21.67 C1038.14,22.66 1041.10,22.82 1045.04,22.66 C1048.98,22.49 1054.56,20.52 1058.83,20.69 C1063.09,20.85 1067.36,21.51 1070.65,23.64 C1073.93,25.77 1076.88,29.88 1078.53,33.49 C1080.17,37.10 1080.33,41.37 1080.50,45.31 C1080.66,49.25 1078.85,53.52 1079.51,57.13 C1080.17,60.74 1083.78,63.04 1084.44,66.98 C1085.09,70.92 1084.76,76.83 1083.45,80.77 C1082.14,84.71 1079.68,88.00 1076.56,90.62 C1073.44,93.25 1069.00,95.55 1064.74,96.53 C1060.47,97.52 1055.21,95.55 1050.95,96.53 C1046.68,97.52 1043.07,100.64 1039.13,102.44 C1035.19,104.25 1031.90,106.38 1027.30,107.37 C1022.71,108.35 1016.80,108.02 1011.54,108.35 C1006.29,108.68 1000.38,109.50 995.78,109.34 C991.19,109.17 987.58,108.85 983.96,107.37 C980.35,105.89 977.73,102.28 974.11,100.47 C970.50,98.67 966.23,97.85 962.29,96.53 C958.35,95.22 954.08,94.23 950.47,92.59 C946.86,90.95 943.91,88.32 940.62,86.68 C937.34,85.04 933.73,84.06 930.77,82.74 C927.82,81.43 925.19,81.43 922.89,78.80 C920.59,76.18 919.28,69.94 916.98,66.98 C914.68,64.03 910.74,63.70 909.10,61.07 C907.46,58.44 906.97,55.00 907.13,51.22 Z" fill="#ddd4e2"/>
<ellipse cx="922.9" cy="57.1" rx="22.7" ry="31.5" fill="#4040c8" opacity="0.95" filter="url(#blur6)"/>
<ellipse cx="962.3" cy="59.1" rx="11.8" ry="23.6" fill="#c8c8ea" opacity="0.8" filter="url(#blur6)"/>
<ellipse cx="952.4" cy="92.6" rx="21.7" ry="11.8" fill="#5050c4" opacity="0.8" filter="url(#blur6)"/>
<ellipse cx="942.6" cy="17.7" rx="13.8" ry="9.9" fill="#8c8cd8" opacity="0.8" filter="url(#blur6)"/>
<ellipse cx="972.1" cy="25.6" rx="19.7" ry="15.8" fill="#d86a6a" opacity="0.85" filter="url(#blur6)"/>
<ellipse cx="1058.8" cy="45.3" rx="23.6" ry="23.6" fill="#cc4040" opacity="0.95" filter="url(#blur6)"/>
<ellipse cx="1083.5" cy="70.9" rx="6.9" ry="13.8" fill="#4848c8" opacity="0.9" filter="url(#blur6)"/>
<ellipse cx="1007.6" cy="59.1" rx="21.7" ry="29.6" fill="#f4dede" opacity="0.75" filter="url(#blur6)"/>
<ellipse cx="1058.8" cy="84.7" rx="15.8" ry="9.9" fill="#e4c4ca" opacity="0.6" filter="url(#blur6)"/>
<ellipse cx="987.9" cy="98.5" rx="31.5" ry="11.8" fill="#a8a8d8" opacity="0.7" filter="url(#blur6)"/>
<ellipse cx="938.7" cy="21.7" rx="13.8" ry="11.8" fill="#c0c0e4" opacity="0.6" filter="url(#blur6)"/>
<ellipse cx="1019.4" cy="19.7" rx="11.8" ry="7.9" fill="#e8e0e4" opacity="0.6" filter="url(#blur6)"/>
<path d="M907.13,51.22 C907.30,47.45 908.12,41.54 910.09,38.42 C912.06,35.30 916.33,34.97 918.95,32.51 C921.58,30.04 923.55,26.76 925.85,23.64 C928.15,20.52 929.62,16.25 932.74,13.79 C935.86,11.33 940.46,9.52 944.56,8.87 C948.67,8.21 953.43,8.87 957.37,9.85 C961.31,10.84 964.43,13.30 968.20,14.78 C971.98,16.25 976.08,18.22 980.02,18.72 C983.96,19.21 987.58,18.39 991.84,17.73 C996.11,17.07 1001.37,15.43 1005.63,14.78 C1009.90,14.12 1013.84,13.46 1017.45,13.79 C1021.07,14.12 1024.35,15.43 1027.30,16.75 C1030.26,18.06 1032.23,20.69 1035.19,21.67 C1038.14,22.66 1041.10,22.82 1045.04,22.66 C1048.98,22.49 1054.56,20.52 1058.83,20.69 C1063.09,20.85 1067.36,21.51 1070.65,23.64 C1073.93,25.77 1076.88,29.88 1078.53,33.49 C1080.17,37.10 1080.33,41.37 1080.50,45.31 C1080.66,49.25 1078.85,53.52 1079.51,57.13 C1080.17,60.74 1083.78,63.04 1084.44,66.98 C1085.09,70.92 1084.76,76.83 1083.45,80.77 C1082.14,84.71 1079.68,88.00 1076.56,90.62 C1073.44,93.25 1069.00,95.55 1064.74,96.53 C1060.47,97.52 1055.21,95.55 1050.95,96.53 C1046.68,97.52 1043.07,100.64 1039.13,102.44 C1035.19,104.25 1031.90,106.38 1027.30,107.37 C1022.71,108.35 1016.80,108.02 1011.54,108.35 C1006.29,108.68 1000.38,109.50 995.78,109.34 C991.19,109.17 987.58,108.85 983.96,107.37 C980.35,105.89 977.73,102.28 974.11,100.47 C970.50,98.67 966.23,97.85 962.29,96.53 C958.35,95.22 954.08,94.23 950.47,92.59 C946.86,90.95 943.91,88.32 940.62,86.68 C937.34,85.04 933.73,84.06 930.77,82.74 C927.82,81.43 925.19,81.43 922.89,78.80 C920.59,76.18 919.28,69.94 916.98,66.98 C914.68,64.03 910.74,63.70 909.10,61.07 C907.46,58.44 906.97,55.00 907.13,51.22 Z" fill="none" stroke="#484868" stroke-width="6" opacity="0.45" filter="url(#blur3)"/>
</g>
<line x1="944.6" y1="24.6" x2="956.4" y2="31.5" stroke="#a09898" stroke-width="4.2" stroke-linecap="round"/>
<line x1="944.6" y1="24.6" x2="956.4" y2="31.5" stroke="#e0d8d8" stroke-width="2" stroke-linecap="round"/>
<line x1="956.4" y1="31.5" x2="953.4" y2="49.3" stroke="#a09898" stroke-width="4.2" stroke-linecap="round"/>
<line x1="956.4" y1="31.5" x2="953.4" y2="49.3" stroke="#e0d8d8" stroke-width="2" stroke-linecap="round"/>
<line x1="953.4" y1="49.3" x2="934.7" y2="57.1" stroke="#a09898" stroke-width="4.2" stroke-linecap="round"/>
<line x1="953.4" y1="49.3" x2="934.7" y2="57.1" stroke="#e0d8d8" stroke-width="2" stroke-linecap="round"/>
<line x1="923.9" y1="48.3" x2="934.7" y2="57.1" stroke="#a09898" stroke-width="4.2" stroke-linecap="round"/>
<line x1="923.9" y1="48.3" x2="934.7" y2="57.1" stroke="#e0d8d8" stroke-width="2" stroke-linecap="round"/>
<line x1="934.7" y1="57.1" x2="936.7" y2="69" stroke="#a09898" stroke-width="4.2" stroke-linecap="round"/>
<line x1="934.7" y1="57.1" x2="936.7" y2="69" stroke="#e0d8d8" stroke-width="2" stroke-linecap="round"/>
<line x1="953.4" y1="49.3" x2="968.2" y2="64" stroke="#a09898" stroke-width="4.2" stroke-linecap="round"/>
<line x1="953.4" y1="49.3" x2="968.2" y2="64" stroke="#e0d8d8" stroke-width="2" stroke-linecap="round"/>
<line x1="968.2" y1="64" x2="962.3" y2="79.8" stroke="#a09898" stroke-width="4.2" stroke-linecap="round"/>
<line x1="968.2" y1="64" x2="962.3" y2="79.8" stroke="#e0d8d8" stroke-width="2" stroke-linecap="round"/>
<line x1="968.2" y1="64" x2="987.9" y2="63" stroke="#a09898" stroke-width="4.2" stroke-linecap="round"/>
<line x1="968.2" y1="64" x2="987.9" y2="63" stroke="#e0d8d8" stroke-width="2" stroke-linecap="round"/>
<line x1="987.9" y1="63" x2="996.8" y2="44.3" stroke="#a09898" stroke-width="4.2" stroke-linecap="round"/>
<line x1="987.9" y1="63" x2="996.8" y2="44.3" stroke="#e0d8d8" stroke-width="2" stroke-linecap="round"/>
<line x1="996.8" y1="44.3" x2="1017.5" y2="43.3" stroke="#a09898" stroke-width="4.2" stroke-linecap="round"/>
<line x1="996.8" y1="44.3" x2="1017.5" y2="43.3" stroke="#e0d8d8" stroke-width="2" stroke-linecap="round"/>
<line x1="1017.5" y1="43.3" x2="1028.3" y2="61" stroke="#a09898" stroke-width="4.2" stroke-linecap="round"/>
<line x1="1017.5" y1="43.3" x2="1028.3" y2="61" stroke="#e0d8d8" stroke-width="2" stroke-linecap="round"/>
<line x1="1028.3" y1="61" x2="1019.4" y2="79.8" stroke="#a09898" stroke-width="4.2" stroke-linecap="round"/>
<line x1="1028.3" y1="61" x2="1019.4" y2="79.8" stroke="#e0d8d8" stroke-width="2" stroke-linecap="round"/>
<line x1="1019.4" y1="79.8" x2="999.7" y2="79.8" stroke="#a09898" stroke-width="4.2" stroke-linecap="round"/>
<line x1="1019.4" y1="79.8" x2="999.7" y2="79.8" stroke="#e0d8d8" stroke-width="2" stroke-linecap="round"/>
<line x1="999.7" y1="79.8" x2="987.9" y2="63" stroke="#a09898" stroke-width="4.2" stroke-linecap="round"/>
<line x1="999.7" y1="79.8" x2="987.9" y2="63" stroke="#e0d8d8" stroke-width="2" stroke-linecap="round"/>
<line x1="996.8" y1="44.3" x2="985.9" y2="29.6" stroke="#a09898" stroke-width="4.2" stroke-linecap="round"/>
<line x1="996.8" y1="44.3" x2="985.9" y2="29.6" stroke="#e0d8d8" stroke-width="2" stroke-linecap="round"/>
<line x1="1017.5" y1="43.3" x2="1023.4" y2="29.6" stroke="#a09898" stroke-width="4.2" stroke-linecap="round"/>
<line x1="1017.5" y1="43.3" x2="1023.4" y2="29.6" stroke="#e0d8d8" stroke-width="2" stroke-linecap="round"/>
<line x1="999.7" y1="79.8" x2="991.8" y2="92.6" stroke="#a09898" stroke-width="4.2" stroke-linecap="round"/>
<line x1="999.7" y1="79.8" x2="991.8" y2="92.6" stroke="#e0d8d8" stroke-width="2" stroke-linecap="round"/>
<line x1="1019.4" y1="79.8" x2="1028.3" y2="92.6" stroke="#a09898" stroke-width="4.2" stroke-linecap="round"/>
<line x1="1019.4" y1="79.8" x2="1028.3" y2="92.6" stroke="#e0d8d8" stroke-width="2" stroke-linecap="round"/>
<line x1="1028.3" y1="61" x2="1050" y2="58.1" stroke="#a09898" stroke-width="4.2" stroke-linecap="round"/>
<line x1="1028.3" y1="61" x2="1050" y2="58.1" stroke="#e0d8d8" stroke-width="2" stroke-linecap="round"/>
<line x1="1050" y1="58.1" x2="1058.8" y2="42.4" stroke="#a09898" stroke-width="4.2" stroke-linecap="round"/>
<line x1="1050" y1="58.1" x2="1058.8" y2="42.4" stroke="#e0d8d8" stroke-width="2" stroke-linecap="round"/>
<line x1="1050" y1="58.1" x2="1058.8" y2="76.8" stroke="#a09898" stroke-width="4.2" stroke-linecap="round"/>
<line x1="1050" y1="58.1" x2="1058.8" y2="76.8" stroke="#e0d8d8" stroke-width="2" stroke-linecap="round"/>
<line x1="1058.8" y1="76.8" x2="1073.6" y2="73.9" stroke="#a09898" stroke-width="4.2" stroke-linecap="round"/>
<line x1="1058.8" y1="76.8" x2="1073.6" y2="73.9" stroke="#e0d8d8" stroke-width="2" stroke-linecap="round"/>
<circle cx="944.6" cy="24.6" r="6" fill="url(#aH)"/>
<circle cx="956.4" cy="31.5" r="5.3" fill="url(#aN)"/>
<circle cx="953.4" cy="49.3" r="5.5" fill="url(#aCb)"/>
<circle cx="923.9" cy="48.3" r="6" fill="url(#aH)"/>
<circle cx="934.7" cy="57.1" r="6" fill="url(#aNd)"/>
<circle cx="936.7" cy="69" r="6" fill="url(#aHb)"/>
<circle cx="968.2" cy="64" r="5.3" fill="url(#aN)"/>
<circle cx="962.3" cy="79.8" r="6" fill="url(#aHb)"/>
<circle cx="987.9" cy="63" r="5.8" fill="url(#aC)"/>
<circle cx="996.8" cy="44.3" r="5.8" fill="url(#aC)"/>
<circle cx="1017.5" cy="43.3" r="5.8" fill="url(#aC)"/>
<circle cx="1028.3" cy="61" r="5.8" fill="url(#aC)"/>
<circle cx="1019.4" cy="79.8" r="5.8" fill="url(#aC)"/>
<circle cx="999.7" cy="79.8" r="5.8" fill="url(#aC)"/>
<circle cx="985.9" cy="29.6" r="5.8" fill="url(#aH)"/>
<circle cx="1023.4" cy="29.6" r="5.8" fill="url(#aH)"/>
<circle cx="991.8" cy="92.6" r="6" fill="url(#aH)"/>
<circle cx="1028.3" cy="92.6" r="6" fill="url(#aH)"/>
<circle cx="1050" cy="58.1" r="5.8" fill="url(#aCb)"/>
<circle cx="1058.8" cy="42.4" r="5.8" fill="url(#aO)"/>
<circle cx="1058.8" cy="76.8" r="6" fill="url(#aO)"/>
<circle cx="1073.6" cy="73.9" r="5.5" fill="url(#aH)"/>
<g opacity="0.3">
<g clip-path="url(#m1clip)">
<path d="M907.13,51.22 C907.30,47.45 908.12,41.54 910.09,38.42 C912.06,35.30 916.33,34.97 918.95,32.51 C921.58,30.04 923.55,26.76 925.85,23.64 C928.15,20.52 929.62,16.25 932.74,13.79 C935.86,11.33 940.46,9.52 944.56,8.87 C948.67,8.21 953.43,8.87 957.37,9.85 C961.31,10.84 964.43,13.30 968.20,14.78 C971.98,16.25 976.08,18.22 980.02,18.72 C983.96,19.21 987.58,18.39 991.84,17.73 C996.11,17.07 1001.37,15.43 1005.63,14.78 C1009.90,14.12 1013.84,13.46 1017.45,13.79 C1021.07,14.12 1024.35,15.43 1027.30,16.75 C1030.26,18.06 1032.23,20.69 1035.19,21.67 C1038.14,22.66 1041.10,22.82 1045.04,22.66 C1048.98,22.49 1054.56,20.52 1058.83,20.69 C1063.09,20.85 1067.36,21.51 1070.65,23.64 C1073.93,25.77 1076.88,29.88 1078.53,33.49 C1080.17,37.10 1080.33,41.37 1080.50,45.31 C1080.66,49.25 1078.85,53.52 1079.51,57.13 C1080.17,60.74 1083.78,63.04 1084.44,66.98 C1085.09,70.92 1084.76,76.83 1083.45,80.77 C1082.14,84.71 1079.68,88.00 1076.56,90.62 C1073.44,93.25 1069.00,95.55 1064.74,96.53 C1060.47,97.52 1055.21,95.55 1050.95,96.53 C1046.68,97.52 1043.07,100.64 1039.13,102.44 C1035.19,104.25 1031.90,106.38 1027.30,107.37 C1022.71,108.35 1016.80,108.02 1011.54,108.35 C1006.29,108.68 1000.38,109.50 995.78,109.34 C991.19,109.17 987.58,108.85 983.96,107.37 C980.35,105.89 977.73,102.28 974.11,100.47 C970.50,98.67 966.23,97.85 962.29,96.53 C958.35,95.22 954.08,94.23 950.47,92.59 C946.86,90.95 943.91,88.32 940.62,86.68 C937.34,85.04 933.73,84.06 930.77,82.74 C927.82,81.43 925.19,81.43 922.89,78.80 C920.59,76.18 919.28,69.94 916.98,66.98 C914.68,64.03 910.74,63.70 909.10,61.07 C907.46,58.44 906.97,55.00 907.13,51.22 Z" fill="#ddd4e2"/>
<ellipse cx="922.9" cy="57.1" rx="22.7" ry="31.5" fill="#4040c8" opacity="0.95" filter="url(#blur6)"/>
<ellipse cx="962.3" cy="59.1" rx="11.8" ry="23.6" fill="#c8c8ea" opacity="0.8" filter="url(#blur6)"/>
<ellipse cx="952.4" cy="92.6" rx="21.7" ry="11.8" fill="#5050c4" opacity="0.8" filter="url(#blur6)"/>
<ellipse cx="942.6" cy="17.7" rx="13.8" ry="9.9" fill="#8c8cd8" opacity="0.8" filter="url(#blur6)"/>
<ellipse cx="972.1" cy="25.6" rx="19.7" ry="15.8" fill="#d86a6a" opacity="0.85" filter="url(#blur6)"/>
<ellipse cx="1058.8" cy="45.3" rx="23.6" ry="23.6" fill="#cc4040" opacity="0.95" filter="url(#blur6)"/>
<ellipse cx="1083.5" cy="70.9" rx="6.9" ry="13.8" fill="#4848c8" opacity="0.9" filter="url(#blur6)"/>
<ellipse cx="1007.6" cy="59.1" rx="21.7" ry="29.6" fill="#f4dede" opacity="0.75" filter="url(#blur6)"/>
<ellipse cx="1058.8" cy="84.7" rx="15.8" ry="9.9" fill="#e4c4ca" opacity="0.6" filter="url(#blur6)"/>
<ellipse cx="987.9" cy="98.5" rx="31.5" ry="11.8" fill="#a8a8d8" opacity="0.7" filter="url(#blur6)"/>
<ellipse cx="938.7" cy="21.7" rx="13.8" ry="11.8" fill="#c0c0e4" opacity="0.6" filter="url(#blur6)"/>
<ellipse cx="1019.4" cy="19.7" rx="11.8" ry="7.9" fill="#e8e0e4" opacity="0.6" filter="url(#blur6)"/>
<path d="M907.13,51.22 C907.30,47.45 908.12,41.54 910.09,38.42 C912.06,35.30 916.33,34.97 918.95,32.51 C921.58,30.04 923.55,26.76 925.85,23.64 C928.15,20.52 929.62,16.25 932.74,13.79 C935.86,11.33 940.46,9.52 944.56,8.87 C948.67,8.21 953.43,8.87 957.37,9.85 C961.31,10.84 964.43,13.30 968.20,14.78 C971.98,16.25 976.08,18.22 980.02,18.72 C983.96,19.21 987.58,18.39 991.84,17.73 C996.11,17.07 1001.37,15.43 1005.63,14.78 C1009.90,14.12 1013.84,13.46 1017.45,13.79 C1021.07,14.12 1024.35,15.43 1027.30,16.75 C1030.26,18.06 1032.23,20.69 1035.19,21.67 C1038.14,22.66 1041.10,22.82 1045.04,22.66 C1048.98,22.49 1054.56,20.52 1058.83,20.69 C1063.09,20.85 1067.36,21.51 1070.65,23.64 C1073.93,25.77 1076.88,29.88 1078.53,33.49 C1080.17,37.10 1080.33,41.37 1080.50,45.31 C1080.66,49.25 1078.85,53.52 1079.51,57.13 C1080.17,60.74 1083.78,63.04 1084.44,66.98 C1085.09,70.92 1084.76,76.83 1083.45,80.77 C1082.14,84.71 1079.68,88.00 1076.56,90.62 C1073.44,93.25 1069.00,95.55 1064.74,96.53 C1060.47,97.52 1055.21,95.55 1050.95,96.53 C1046.68,97.52 1043.07,100.64 1039.13,102.44 C1035.19,104.25 1031.90,106.38 1027.30,107.37 C1022.71,108.35 1016.80,108.02 1011.54,108.35 C1006.29,108.68 1000.38,109.50 995.78,109.34 C991.19,109.17 987.58,108.85 983.96,107.37 C980.35,105.89 977.73,102.28 974.11,100.47 C970.50,98.67 966.23,97.85 962.29,96.53 C958.35,95.22 954.08,94.23 950.47,92.59 C946.86,90.95 943.91,88.32 940.62,86.68 C937.34,85.04 933.73,84.06 930.77,82.74 C927.82,81.43 925.19,81.43 922.89,78.80 C920.59,76.18 919.28,69.94 916.98,66.98 C914.68,64.03 910.74,63.70 909.10,61.07 C907.46,58.44 906.97,55.00 907.13,51.22 Z" fill="none" stroke="#484868" stroke-width="6" opacity="0.45" filter="url(#blur3)"/>
</g>
</g>
<clipPath id="m2clip"><path d="M949.93,142.42 C952.21,138.99 954.08,134.63 957.41,131.82 C960.73,129.01 965.72,126.52 969.88,125.59 C974.03,124.65 978.19,124.96 982.34,126.21 C986.50,127.46 991.07,132.86 994.81,133.07 C998.55,133.28 1001.05,128.70 1004.79,127.46 C1008.53,126.21 1013.10,125.17 1017.26,125.59 C1021.41,126.00 1025.99,127.35 1029.73,129.95 C1033.47,132.55 1037.21,136.60 1039.70,141.17 C1042.19,145.74 1044.06,152.19 1044.69,157.38 C1045.31,162.58 1044.69,167.77 1043.44,172.34 C1042.19,176.92 1039.91,181.28 1037.21,184.81 C1034.51,188.35 1030.93,191.59 1027.23,193.54 C1023.53,195.49 1017.61,194.66 1015.01,196.53 C1012.41,198.40 1013.14,201.94 1011.65,204.76 C1010.15,207.59 1008.63,210.89 1006.03,213.49 C1003.44,216.09 1000.01,218.69 996.06,220.35 C992.11,222.01 987.02,223.57 982.34,223.47 C977.67,223.36 972.16,222.01 968.00,219.73 C963.85,217.44 959.88,213.30 957.41,209.75 C954.93,206.20 954.10,201.52 953.17,198.40 C952.23,195.29 953.17,193.73 951.80,191.05 C950.42,188.37 946.70,186.06 944.94,182.32 C943.17,178.58 941.40,173.59 941.20,168.60 C940.99,163.62 942.24,156.76 943.69,152.39 C945.15,148.03 947.64,145.85 949.93,142.42 Z"/></clipPath>
<g clip-path="url(#m2clip)">
<path d="M949.93,142.42 C952.21,138.99 954.08,134.63 957.41,131.82 C960.73,129.01 965.72,126.52 969.88,125.59 C974.03,124.65 978.19,124.96 982.34,126.21 C986.50,127.46 991.07,132.86 994.81,133.07 C998.55,133.28 1001.05,128.70 1004.79,127.46 C1008.53,126.21 1013.10,125.17 1017.26,125.59 C1021.41,126.00 1025.99,127.35 1029.73,129.95 C1033.47,132.55 1037.21,136.60 1039.70,141.17 C1042.19,145.74 1044.06,152.19 1044.69,157.38 C1045.31,162.58 1044.69,167.77 1043.44,172.34 C1042.19,176.92 1039.91,181.28 1037.21,184.81 C1034.51,188.35 1030.93,191.59 1027.23,193.54 C1023.53,195.49 1017.61,194.66 1015.01,196.53 C1012.41,198.40 1013.14,201.94 1011.65,204.76 C1010.15,207.59 1008.63,210.89 1006.03,213.49 C1003.44,216.09 1000.01,218.69 996.06,220.35 C992.11,222.01 987.02,223.57 982.34,223.47 C977.67,223.36 972.16,222.01 968.00,219.73 C963.85,217.44 959.88,213.30 957.41,209.75 C954.93,206.20 954.10,201.52 953.17,198.40 C952.23,195.29 953.17,193.73 951.80,191.05 C950.42,188.37 946.70,186.06 944.94,182.32 C943.17,178.58 941.40,173.59 941.20,168.60 C940.99,163.62 942.24,156.76 943.69,152.39 C945.15,148.03 947.64,145.85 949.93,142.42 Z" fill="#b8a8b8"/>
<ellipse cx="972.4" cy="162.4" rx="24.9" ry="27.4" fill="#f09494" opacity="1.0" filter="url(#blur6)"/>
<ellipse cx="954.9" cy="138.7" rx="13.7" ry="11.2" fill="#b48080" opacity="0.7" filter="url(#blur6)"/>
<ellipse cx="1021.0" cy="159.9" rx="22.4" ry="33.7" fill="#6262dc" opacity="1.0" filter="url(#blur6)"/>
<ellipse cx="979.9" cy="206.0" rx="24.9" ry="18.7" fill="#a084d0" opacity="1.0" filter="url(#blur6)"/>
<ellipse cx="999.8" cy="168.6" rx="6.2" ry="18.7" fill="#dcd4ec" opacity="0.7" filter="url(#blur6)"/>
<ellipse cx="967.4" cy="196.0" rx="8.7" ry="4.4" fill="#4848a0" opacity="0.7" filter="url(#blur6)"/>
<path d="M949.93,142.42 C952.21,138.99 954.08,134.63 957.41,131.82 C960.73,129.01 965.72,126.52 969.88,125.59 C974.03,124.65 978.19,124.96 982.34,126.21 C986.50,127.46 991.07,132.86 994.81,133.07 C998.55,133.28 1001.05,128.70 1004.79,127.46 C1008.53,126.21 1013.10,125.17 1017.26,125.59 C1021.41,126.00 1025.99,127.35 1029.73,129.95 C1033.47,132.55 1037.21,136.60 1039.70,141.17 C1042.19,145.74 1044.06,152.19 1044.69,157.38 C1045.31,162.58 1044.69,167.77 1043.44,172.34 C1042.19,176.92 1039.91,181.28 1037.21,184.81 C1034.51,188.35 1030.93,191.59 1027.23,193.54 C1023.53,195.49 1017.61,194.66 1015.01,196.53 C1012.41,198.40 1013.14,201.94 1011.65,204.76 C1010.15,207.59 1008.63,210.89 1006.03,213.49 C1003.44,216.09 1000.01,218.69 996.06,220.35 C992.11,222.01 987.02,223.57 982.34,223.47 C977.67,223.36 972.16,222.01 968.00,219.73 C963.85,217.44 959.88,213.30 957.41,209.75 C954.93,206.20 954.10,201.52 953.17,198.40 C952.23,195.29 953.17,193.73 951.80,191.05 C950.42,188.37 946.70,186.06 944.94,182.32 C943.17,178.58 941.40,173.59 941.20,168.60 C940.99,163.62 942.24,156.76 943.69,152.39 C945.15,148.03 947.64,145.85 949.93,142.42 Z" fill="none" stroke="#404048" stroke-width="5" opacity="0.6" filter="url(#blur3)"/>
<path d="M948,150 Q958,137 980,136.5" fill="none" stroke="#603838" stroke-width="1.6" opacity="0.55"/>
</g>
<line x1="983.6" y1="167.4" x2="976.7" y2="153" stroke="#e8b020" stroke-width="3.2"/>
<line x1="983.6" y1="167.4" x2="968.6" y2="166.7" stroke="#e8b020" stroke-width="3.2"/>
<line x1="983.6" y1="167.4" x2="981.7" y2="196" stroke="#e8c020" stroke-width="3.2"/>
<line x1="983.6" y1="167.4" x2="1014.1" y2="163.6" stroke="#c8c8a0" stroke-width="3.2"/>
<circle cx="1014.8" cy="143.7" r="7.3" fill="url(#aHb)" stroke="#303050" stroke-opacity="0.45" stroke-width="0.8"/>
<circle cx="1014.1" cy="163.6" r="7.3" fill="url(#aCb)" stroke="#303050" stroke-opacity="0.45" stroke-width="0.8"/>
<circle cx="1025.4" cy="166" r="6.8" fill="url(#aHb)" stroke="#303050" stroke-opacity="0.45" stroke-width="0.8"/>
<circle cx="1018.5" cy="176" r="7.3" fill="url(#aHb)" stroke="#303050" stroke-opacity="0.45" stroke-width="0.8"/>
<circle cx="976.7" cy="153" r="7.3" fill="url(#aO)" stroke="#303050" stroke-opacity="0.45" stroke-width="0.8"/>
<circle cx="968.6" cy="166.7" r="7.8" fill="url(#aO)" stroke="#303050" stroke-opacity="0.45" stroke-width="0.8"/>
<circle cx="981.7" cy="196" r="7.3" fill="url(#aOd)" stroke="#303050" stroke-opacity="0.45" stroke-width="0.8"/>
<circle cx="983.6" cy="167.4" r="6.3" fill="url(#aS)" stroke="#303050" stroke-opacity="0.45" stroke-width="0.8"/>
<g opacity="0.25">
<g clip-path="url(#m2clip)">
<path d="M949.93,142.42 C952.21,138.99 954.08,134.63 957.41,131.82 C960.73,129.01 965.72,126.52 969.88,125.59 C974.03,124.65 978.19,124.96 982.34,126.21 C986.50,127.46 991.07,132.86 994.81,133.07 C998.55,133.28 1001.05,128.70 1004.79,127.46 C1008.53,126.21 1013.10,125.17 1017.26,125.59 C1021.41,126.00 1025.99,127.35 1029.73,129.95 C1033.47,132.55 1037.21,136.60 1039.70,141.17 C1042.19,145.74 1044.06,152.19 1044.69,157.38 C1045.31,162.58 1044.69,167.77 1043.44,172.34 C1042.19,176.92 1039.91,181.28 1037.21,184.81 C1034.51,188.35 1030.93,191.59 1027.23,193.54 C1023.53,195.49 1017.61,194.66 1015.01,196.53 C1012.41,198.40 1013.14,201.94 1011.65,204.76 C1010.15,207.59 1008.63,210.89 1006.03,213.49 C1003.44,216.09 1000.01,218.69 996.06,220.35 C992.11,222.01 987.02,223.57 982.34,223.47 C977.67,223.36 972.16,222.01 968.00,219.73 C963.85,217.44 959.88,213.30 957.41,209.75 C954.93,206.20 954.10,201.52 953.17,198.40 C952.23,195.29 953.17,193.73 951.80,191.05 C950.42,188.37 946.70,186.06 944.94,182.32 C943.17,178.58 941.40,173.59 941.20,168.60 C940.99,163.62 942.24,156.76 943.69,152.39 C945.15,148.03 947.64,145.85 949.93,142.42 Z" fill="#b8a8b8"/>
<ellipse cx="972.4" cy="162.4" rx="24.9" ry="27.4" fill="#f09494" opacity="1.0" filter="url(#blur6)"/>
<ellipse cx="954.9" cy="138.7" rx="13.7" ry="11.2" fill="#b48080" opacity="0.7" filter="url(#blur6)"/>
<ellipse cx="1021.0" cy="159.9" rx="22.4" ry="33.7" fill="#6262dc" opacity="1.0" filter="url(#blur6)"/>
<ellipse cx="979.9" cy="206.0" rx="24.9" ry="18.7" fill="#a084d0" opacity="1.0" filter="url(#blur6)"/>
<ellipse cx="999.8" cy="168.6" rx="6.2" ry="18.7" fill="#dcd4ec" opacity="0.7" filter="url(#blur6)"/>
<ellipse cx="967.4" cy="196.0" rx="8.7" ry="4.4" fill="#4848a0" opacity="0.7" filter="url(#blur6)"/>
<path d="M949.93,142.42 C952.21,138.99 954.08,134.63 957.41,131.82 C960.73,129.01 965.72,126.52 969.88,125.59 C974.03,124.65 978.19,124.96 982.34,126.21 C986.50,127.46 991.07,132.86 994.81,133.07 C998.55,133.28 1001.05,128.70 1004.79,127.46 C1008.53,126.21 1013.10,125.17 1017.26,125.59 C1021.41,126.00 1025.99,127.35 1029.73,129.95 C1033.47,132.55 1037.21,136.60 1039.70,141.17 C1042.19,145.74 1044.06,152.19 1044.69,157.38 C1045.31,162.58 1044.69,167.77 1043.44,172.34 C1042.19,176.92 1039.91,181.28 1037.21,184.81 C1034.51,188.35 1030.93,191.59 1027.23,193.54 C1023.53,195.49 1017.61,194.66 1015.01,196.53 C1012.41,198.40 1013.14,201.94 1011.65,204.76 C1010.15,207.59 1008.63,210.89 1006.03,213.49 C1003.44,216.09 1000.01,218.69 996.06,220.35 C992.11,222.01 987.02,223.57 982.34,223.47 C977.67,223.36 972.16,222.01 968.00,219.73 C963.85,217.44 959.88,213.30 957.41,209.75 C954.93,206.20 954.10,201.52 953.17,198.40 C952.23,195.29 953.17,193.73 951.80,191.05 C950.42,188.37 946.70,186.06 944.94,182.32 C943.17,178.58 941.40,173.59 941.20,168.60 C940.99,163.62 942.24,156.76 943.69,152.39 C945.15,148.03 947.64,145.85 949.93,142.42 Z" fill="none" stroke="#404048" stroke-width="5" opacity="0.6" filter="url(#blur3)"/>
<path d="M948,150 Q958,137 980,136.5" fill="none" stroke="#603838" stroke-width="1.6" opacity="0.55"/>
</g>
</g>
<radialGradient id="yb" cx="0.5" cy="0.36" r="0.68" fx="0.48" fy="0.2"><stop offset="0" stop-color="#ffffd8"/><stop offset="0.22" stop-color="#ffff40"/><stop offset="0.55" stop-color="#f8f400"/><stop offset="0.78" stop-color="#d8d000"/><stop offset="1" stop-color="#8c8000"/></radialGradient>
<radialGradient id="fb" cx="0.5" cy="0.36" r="0.7" fx="0.46" fy="0.12"><stop offset="0" stop-color="#ffffff"/><stop offset="0.32" stop-color="#f2fafc"/><stop offset="0.55" stop-color="#b0dce8"/><stop offset="0.76" stop-color="#82b6c6"/><stop offset="0.9" stop-color="#4e808e"/><stop offset="1" stop-color="#2a4e58"/></radialGradient>
<radialGradient id="pb" cx="0.5" cy="0.5" r="0.5"><stop offset="0" stop-color="#505038"/><stop offset="1" stop-color="#5a5a50" stop-opacity="0"/></radialGradient>
<polygon points="984.5,709.7 955.0,740.3 989.0,745.6" fill="#5d5d5d" stroke="#5d5d5d" stroke-width="0.6"/>
<polygon points="984.5,709.7 1014.0,740.3 989.0,745.6" fill="#8b8b8b" stroke="#8b8b8b" stroke-width="0.6"/>
<polygon points="955.0,740.3 984.5,768.3 989.0,745.6" fill="#8f8f8f" stroke="#8f8f8f" stroke-width="0.6"/>
<polygon points="1014.0,740.3 984.5,768.3 989.0,745.6" fill="#b7b7b7" stroke="#b7b7b7" stroke-width="0.6"/>
<circle cx="984.5" cy="738.7" r="4.3" fill="#55553e" opacity="0.75"/>
<polygon points="1043.5,709.7 1014.0,740.3 1048.0,745.6" fill="#5d5d5d" stroke="#5d5d5d" stroke-width="0.6"/>
<polygon points="1043.5,709.7 1073.0,740.3 1048.0,745.6" fill="#8b8b8b" stroke="#8b8b8b" stroke-width="0.6"/>
<polygon points="1014.0,740.3 1043.5,768.3 1048.0,745.6" fill="#8f8f8f" stroke="#8f8f8f" stroke-width="0.6"/>
<polygon points="1073.0,740.3 1043.5,768.3 1048.0,745.6" fill="#b7b7b7" stroke="#b7b7b7" stroke-width="0.6"/>
<circle cx="1043.5" cy="738.7" r="4.3" fill="#55553e" opacity="0.75"/>
<polygon points="1102.6,709.7 1073.1,740.3 1107.1,745.6" fill="#5d5d5d" stroke="#5d5d5d" stroke-width="0.6"/>
<polygon points="1102.6,709.7 1132.1,740.3 1107.1,745.6" fill="#8b8b8b" stroke="#8b8b8b" stroke-width="0.6"/>
<polygon points="1073.1,740.3 1102.6,768.3 1107.1,745.6" fill="#8f8f8f" stroke="#8f8f8f" stroke-width="0.6"/>
<polygon points="1132.1,740.3 1102.6,768.3 1107.1,745.6" fill="#b7b7b7" stroke="#b7b7b7" stroke-width="0.6"/>
<circle cx="1102.6" cy="738.7" r="4.3" fill="#55553e" opacity="0.75"/>
<polygon points="1161.6,709.7 1132.1,740.3 1166.1,745.6" fill="#5d5d5d" stroke="#5d5d5d" stroke-width="0.6"/>
<polygon points="1161.6,709.7 1191.1,740.3 1166.1,745.6" fill="#8b8b8b" stroke="#8b8b8b" stroke-width="0.6"/>
<polygon points="1132.1,740.3 1161.6,768.3 1166.1,745.6" fill="#8f8f8f" stroke="#8f8f8f" stroke-width="0.6"/>
<polygon points="1191.1,740.3 1161.6,768.3 1166.1,745.6" fill="#b7b7b7" stroke="#b7b7b7" stroke-width="0.6"/>
<circle cx="1161.6" cy="738.7" r="4.3" fill="#55553e" opacity="0.75"/>
<polygon points="1220.6,709.7 1191.1,740.3 1225.1,745.6" fill="#5d5d5d" stroke="#5d5d5d" stroke-width="0.6"/>
<polygon points="1220.6,709.7 1250.1,740.3 1225.1,745.6" fill="#8b8b8b" stroke="#8b8b8b" stroke-width="0.6"/>
<polygon points="1191.1,740.3 1220.6,768.3 1225.1,745.6" fill="#8f8f8f" stroke="#8f8f8f" stroke-width="0.6"/>
<polygon points="1250.1,740.3 1220.6,768.3 1225.1,745.6" fill="#b7b7b7" stroke="#b7b7b7" stroke-width="0.6"/>
<circle cx="1220.6" cy="738.7" r="4.3" fill="#55553e" opacity="0.75"/>
<polygon points="984.5,768.3 955.0,798.9 989.0,804.2" fill="#5d5d5d" stroke="#5d5d5d" stroke-width="0.6"/>
<polygon points="984.5,768.3 1014.0,798.9 989.0,804.2" fill="#8b8b8b" stroke="#8b8b8b" stroke-width="0.6"/>
<polygon points="955.0,798.9 984.5,826.9 989.0,804.2" fill="#8f8f8f" stroke="#8f8f8f" stroke-width="0.6"/>
<polygon points="1014.0,798.9 984.5,826.9 989.0,804.2" fill="#b7b7b7" stroke="#b7b7b7" stroke-width="0.6"/>
<circle cx="984.5" cy="797.3" r="4.3" fill="#55553e" opacity="0.75"/>
<polygon points="1043.5,768.3 1014.0,798.9 1048.0,804.2" fill="#5d5d5d" stroke="#5d5d5d" stroke-width="0.6"/>
<polygon points="1043.5,768.3 1073.0,798.9 1048.0,804.2" fill="#8b8b8b" stroke="#8b8b8b" stroke-width="0.6"/>
<polygon points="1014.0,798.9 1043.5,826.9 1048.0,804.2" fill="#8f8f8f" stroke="#8f8f8f" stroke-width="0.6"/>
<polygon points="1073.0,798.9 1043.5,826.9 1048.0,804.2" fill="#b7b7b7" stroke="#b7b7b7" stroke-width="0.6"/>
<circle cx="1043.5" cy="797.3" r="4.3" fill="#55553e" opacity="0.75"/>
<polygon points="1102.6,768.3 1073.1,798.9 1107.1,804.2" fill="#5d5d5d" stroke="#5d5d5d" stroke-width="0.6"/>
<polygon points="1102.6,768.3 1132.1,798.9 1107.1,804.2" fill="#8b8b8b" stroke="#8b8b8b" stroke-width="0.6"/>
<polygon points="1073.1,798.9 1102.6,826.9 1107.1,804.2" fill="#8f8f8f" stroke="#8f8f8f" stroke-width="0.6"/>
<polygon points="1132.1,798.9 1102.6,826.9 1107.1,804.2" fill="#b7b7b7" stroke="#b7b7b7" stroke-width="0.6"/>
<circle cx="1102.6" cy="797.3" r="4.3" fill="#55553e" opacity="0.75"/>
<polygon points="1161.6,768.3 1132.1,798.9 1166.1,804.2" fill="#5d5d5d" stroke="#5d5d5d" stroke-width="0.6"/>
<polygon points="1161.6,768.3 1191.1,798.9 1166.1,804.2" fill="#8b8b8b" stroke="#8b8b8b" stroke-width="0.6"/>
<polygon points="1132.1,798.9 1161.6,826.9 1166.1,804.2" fill="#8f8f8f" stroke="#8f8f8f" stroke-width="0.6"/>
<polygon points="1191.1,798.9 1161.6,826.9 1166.1,804.2" fill="#b7b7b7" stroke="#b7b7b7" stroke-width="0.6"/>
<circle cx="1161.6" cy="797.3" r="4.3" fill="#55553e" opacity="0.75"/>
<polygon points="1220.6,768.3 1191.1,798.9 1225.1,804.2" fill="#5d5d5d" stroke="#5d5d5d" stroke-width="0.6"/>
<polygon points="1220.6,768.3 1250.1,798.9 1225.1,804.2" fill="#8b8b8b" stroke="#8b8b8b" stroke-width="0.6"/>
<polygon points="1191.1,798.9 1220.6,826.9 1225.1,804.2" fill="#8f8f8f" stroke="#8f8f8f" stroke-width="0.6"/>
<polygon points="1250.1,798.9 1220.6,826.9 1225.1,804.2" fill="#b7b7b7" stroke="#b7b7b7" stroke-width="0.6"/>
<circle cx="1220.6" cy="797.3" r="4.3" fill="#55553e" opacity="0.75"/>
<polygon points="984.5,826.9 955.0,857.5 989.0,862.8" fill="#5d5d5d" stroke="#5d5d5d" stroke-width="0.6"/>
<polygon points="984.5,826.9 1014.0,857.5 989.0,862.8" fill="#8b8b8b" stroke="#8b8b8b" stroke-width="0.6"/>
<polygon points="955.0,857.5 984.5,885.5 989.0,862.8" fill="#8f8f8f" stroke="#8f8f8f" stroke-width="0.6"/>
<polygon points="1014.0,857.5 984.5,885.5 989.0,862.8" fill="#b7b7b7" stroke="#b7b7b7" stroke-width="0.6"/>
<circle cx="984.5" cy="855.9" r="4.3" fill="#55553e" opacity="0.75"/>
<polygon points="1043.5,826.9 1014.0,857.5 1048.0,862.8" fill="#5d5d5d" stroke="#5d5d5d" stroke-width="0.6"/>
<polygon points="1043.5,826.9 1073.0,857.5 1048.0,862.8" fill="#8b8b8b" stroke="#8b8b8b" stroke-width="0.6"/>
<polygon points="1014.0,857.5 1043.5,885.5 1048.0,862.8" fill="#8f8f8f" stroke="#8f8f8f" stroke-width="0.6"/>
<polygon points="1073.0,857.5 1043.5,885.5 1048.0,862.8" fill="#b7b7b7" stroke="#b7b7b7" stroke-width="0.6"/>
<circle cx="1043.5" cy="855.9" r="4.3" fill="#55553e" opacity="0.75"/>
<polygon points="1102.6,826.9 1073.1,857.5 1107.1,862.8" fill="#5d5d5d" stroke="#5d5d5d" stroke-width="0.6"/>
<polygon points="1102.6,826.9 1132.1,857.5 1107.1,862.8" fill="#8b8b8b" stroke="#8b8b8b" stroke-width="0.6"/>
<polygon points="1073.1,857.5 1102.6,885.5 1107.1,862.8" fill="#8f8f8f" stroke="#8f8f8f" stroke-width="0.6"/>
<polygon points="1132.1,857.5 1102.6,885.5 1107.1,862.8" fill="#b7b7b7" stroke="#b7b7b7" stroke-width="0.6"/>
<circle cx="1102.6" cy="855.9" r="4.3" fill="#55553e" opacity="0.75"/>
<polygon points="1161.6,826.9 1132.1,857.5 1166.1,862.8" fill="#5d5d5d" stroke="#5d5d5d" stroke-width="0.6"/>
<polygon points="1161.6,826.9 1191.1,857.5 1166.1,862.8" fill="#8b8b8b" stroke="#8b8b8b" stroke-width="0.6"/>
<polygon points="1132.1,857.5 1161.6,885.5 1166.1,862.8" fill="#8f8f8f" stroke="#8f8f8f" stroke-width="0.6"/>
<polygon points="1191.1,857.5 1161.6,885.5 1166.1,862.8" fill="#b7b7b7" stroke="#b7b7b7" stroke-width="0.6"/>
<circle cx="1161.6" cy="855.9" r="4.3" fill="#55553e" opacity="0.75"/>
<polygon points="1220.6,826.9 1191.1,857.5 1225.1,862.8" fill="#5d5d5d" stroke="#5d5d5d" stroke-width="0.6"/>
<polygon points="1220.6,826.9 1250.1,857.5 1225.1,862.8" fill="#8b8b8b" stroke="#8b8b8b" stroke-width="0.6"/>
<polygon points="1191.1,857.5 1220.6,885.5 1225.1,862.8" fill="#8f8f8f" stroke="#8f8f8f" stroke-width="0.6"/>
<polygon points="1250.1,857.5 1220.6,885.5 1225.1,862.8" fill="#b7b7b7" stroke="#b7b7b7" stroke-width="0.6"/>
<circle cx="1220.6" cy="855.9" r="4.3" fill="#55553e" opacity="0.75"/>
<polygon points="984.5,885.5 955.0,916.1 989.0,921.4" fill="#5d5d5d" stroke="#5d5d5d" stroke-width="0.6"/>
<polygon points="984.5,885.5 1014.0,916.1 989.0,921.4" fill="#8b8b8b" stroke="#8b8b8b" stroke-width="0.6"/>
<polygon points="955.0,916.1 984.5,944.1 989.0,921.4" fill="#8f8f8f" stroke="#8f8f8f" stroke-width="0.6"/>
<polygon points="1014.0,916.1 984.5,944.1 989.0,921.4" fill="#b7b7b7" stroke="#b7b7b7" stroke-width="0.6"/>
<circle cx="984.5" cy="914.4" r="4.3" fill="#55553e" opacity="0.75"/>
<polygon points="1043.5,885.5 1014.0,916.1 1048.0,921.4" fill="#5d5d5d" stroke="#5d5d5d" stroke-width="0.6"/>
<polygon points="1043.5,885.5 1073.0,916.1 1048.0,921.4" fill="#8b8b8b" stroke="#8b8b8b" stroke-width="0.6"/>
<polygon points="1014.0,916.1 1043.5,944.1 1048.0,921.4" fill="#8f8f8f" stroke="#8f8f8f" stroke-width="0.6"/>
<polygon points="1073.0,916.1 1043.5,944.1 1048.0,921.4" fill="#b7b7b7" stroke="#b7b7b7" stroke-width="0.6"/>
<circle cx="1043.5" cy="914.4" r="4.3" fill="#55553e" opacity="0.75"/>
<polygon points="1102.6,885.5 1073.1,916.1 1107.1,921.4" fill="#5d5d5d" stroke="#5d5d5d" stroke-width="0.6"/>
<polygon points="1102.6,885.5 1132.1,916.1 1107.1,921.4" fill="#8b8b8b" stroke="#8b8b8b" stroke-width="0.6"/>
<polygon points="1073.1,916.1 1102.6,944.1 1107.1,921.4" fill="#8f8f8f" stroke="#8f8f8f" stroke-width="0.6"/>
<polygon points="1132.1,916.1 1102.6,944.1 1107.1,921.4" fill="#b7b7b7" stroke="#b7b7b7" stroke-width="0.6"/>
<circle cx="1102.6" cy="914.4" r="4.3" fill="#55553e" opacity="0.75"/>
<polygon points="1161.6,885.5 1132.1,916.1 1166.1,921.4" fill="#5d5d5d" stroke="#5d5d5d" stroke-width="0.6"/>
<polygon points="1161.6,885.5 1191.1,916.1 1166.1,921.4" fill="#8b8b8b" stroke="#8b8b8b" stroke-width="0.6"/>
<polygon points="1132.1,916.1 1161.6,944.1 1166.1,921.4" fill="#8f8f8f" stroke="#8f8f8f" stroke-width="0.6"/>
<polygon points="1191.1,916.1 1161.6,944.1 1166.1,921.4" fill="#b7b7b7" stroke="#b7b7b7" stroke-width="0.6"/>
<circle cx="1161.6" cy="914.4" r="4.3" fill="#55553e" opacity="0.75"/>
<polygon points="1220.6,885.5 1191.1,916.1 1225.1,921.4" fill="#5d5d5d" stroke="#5d5d5d" stroke-width="0.6"/>
<polygon points="1220.6,885.5 1250.1,916.1 1225.1,921.4" fill="#8b8b8b" stroke="#8b8b8b" stroke-width="0.6"/>
<polygon points="1191.1,916.1 1220.6,944.1 1225.1,921.4" fill="#8f8f8f" stroke="#8f8f8f" stroke-width="0.6"/>
<polygon points="1250.1,916.1 1220.6,944.1 1225.1,921.4" fill="#b7b7b7" stroke="#b7b7b7" stroke-width="0.6"/>
<circle cx="1220.6" cy="914.4" r="4.3" fill="#55553e" opacity="0.75"/>
<circle cx="1012.5" cy="768.3" r="10.2" fill="url(#fb)"/>
<circle cx="1071.5" cy="768.3" r="10.2" fill="url(#fb)"/>
<circle cx="1130.6" cy="768.3" r="10.2" fill="url(#fb)"/>
<circle cx="1189.6" cy="768.3" r="10.2" fill="url(#fb)"/>
<circle cx="1012.5" cy="826.9" r="10.2" fill="url(#fb)"/>
<circle cx="1071.5" cy="826.9" r="10.2" fill="url(#fb)"/>
<circle cx="1130.6" cy="826.9" r="10.2" fill="url(#fb)"/>
<circle cx="1189.6" cy="826.9" r="10.2" fill="url(#fb)"/>
<circle cx="1012.5" cy="885.5" r="10.2" fill="url(#fb)"/>
<circle cx="1071.5" cy="885.5" r="10.2" fill="url(#fb)"/>
<circle cx="1130.6" cy="885.5" r="10.2" fill="url(#fb)"/>
<circle cx="1189.6" cy="885.5" r="10.2" fill="url(#fb)"/>
<ellipse cx="984.5" cy="709.7" rx="5.41" ry="5.19" fill="url(#yb)"/>
<ellipse cx="1043.5" cy="709.7" rx="5.41" ry="5.19" fill="url(#yb)"/>
<ellipse cx="1102.6" cy="709.7" rx="5.41" ry="5.19" fill="url(#yb)"/>
<ellipse cx="1161.6" cy="709.7" rx="5.41" ry="5.19" fill="url(#yb)"/>
<ellipse cx="1220.6" cy="709.7" rx="5.41" ry="5.19" fill="url(#yb)"/>
<ellipse cx="955.0" cy="740.3" rx="5.41" ry="5.19" fill="url(#yb)"/>
<ellipse cx="1014.0" cy="740.3" rx="5.41" ry="5.19" fill="url(#yb)"/>
<ellipse cx="1073.0" cy="740.3" rx="5.41" ry="5.19" fill="url(#yb)"/>
<ellipse cx="1132.1" cy="740.3" rx="5.41" ry="5.19" fill="url(#yb)"/>
<ellipse cx="1191.1" cy="740.3" rx="5.41" ry="5.19" fill="url(#yb)"/>
<ellipse cx="1250.1" cy="740.3" rx="5.41" ry="5.19" fill="url(#yb)"/>
<ellipse cx="989.0" cy="745.6" rx="5.41" ry="5.19" fill="url(#yb)"/>
<ellipse cx="1048.0" cy="745.6" rx="5.41" ry="5.19" fill="url(#yb)"/>
<ellipse cx="1107.1" cy="745.6" rx="5.41" ry="5.19" fill="url(#yb)"/>
<ellipse cx="1166.1" cy="745.6" rx="5.41" ry="5.19" fill="url(#yb)"/>
<ellipse cx="1225.1" cy="745.6" rx="5.41" ry="5.19" fill="url(#yb)"/>
<ellipse cx="984.5" cy="768.3" rx="5.41" ry="5.19" fill="url(#yb)"/>
<ellipse cx="1043.5" cy="768.3" rx="5.41" ry="5.19" fill="url(#yb)"/>
<ellipse cx="1102.6" cy="768.3" rx="5.41" ry="5.19" fill="url(#yb)"/>
<ellipse cx="1161.6" cy="768.3" rx="5.41" ry="5.19" fill="url(#yb)"/>
<ellipse cx="1220.6" cy="768.3" rx="5.41" ry="5.19" fill="url(#yb)"/>
<ellipse cx="955.0" cy="798.9" rx="5.41" ry="5.19" fill="url(#yb)"/>
<ellipse cx="1014.0" cy="798.9" rx="5.41" ry="5.19" fill="url(#yb)"/>
<ellipse cx="1073.0" cy="798.9" rx="5.41" ry="5.19" fill="url(#yb)"/>
<ellipse cx="1132.1" cy="798.9" rx="5.41" ry="5.19" fill="url(#yb)"/>
<ellipse cx="1191.1" cy="798.9" rx="5.41" ry="5.19" fill="url(#yb)"/>
<ellipse cx="1250.1" cy="798.9" rx="5.41" ry="5.19" fill="url(#yb)"/>
<ellipse cx="989.0" cy="804.2" rx="5.41" ry="5.19" fill="url(#yb)"/>
<ellipse cx="1048.0" cy="804.2" rx="5.41" ry="5.19" fill="url(#yb)"/>
<ellipse cx="1107.1" cy="804.2" rx="5.41" ry="5.19" fill="url(#yb)"/>
<ellipse cx="1166.1" cy="804.2" rx="5.41" ry="5.19" fill="url(#yb)"/>
<ellipse cx="1225.1" cy="804.2" rx="5.41" ry="5.19" fill="url(#yb)"/>
<ellipse cx="984.5" cy="826.9" rx="5.41" ry="5.19" fill="url(#yb)"/>
<ellipse cx="1043.5" cy="826.9" rx="5.41" ry="5.19" fill="url(#yb)"/>
<ellipse cx="1102.6" cy="826.9" rx="5.41" ry="5.19" fill="url(#yb)"/>
<ellipse cx="1161.6" cy="826.9" rx="5.41" ry="5.19" fill="url(#yb)"/>
<ellipse cx="1220.6" cy="826.9" rx="5.41" ry="5.19" fill="url(#yb)"/>
<ellipse cx="955.0" cy="857.5" rx="5.41" ry="5.19" fill="url(#yb)"/>
<ellipse cx="1014.0" cy="857.5" rx="5.41" ry="5.19" fill="url(#yb)"/>
<ellipse cx="1073.0" cy="857.5" rx="5.41" ry="5.19" fill="url(#yb)"/>
<ellipse cx="1132.1" cy="857.5" rx="5.41" ry="5.19" fill="url(#yb)"/>
<ellipse cx="1191.1" cy="857.5" rx="5.41" ry="5.19" fill="url(#yb)"/>
<ellipse cx="1250.1" cy="857.5" rx="5.41" ry="5.19" fill="url(#yb)"/>
<ellipse cx="989.0" cy="862.8" rx="5.41" ry="5.19" fill="url(#yb)"/>
<ellipse cx="1048.0" cy="862.8" rx="5.41" ry="5.19" fill="url(#yb)"/>
<ellipse cx="1107.1" cy="862.8" rx="5.41" ry="5.19" fill="url(#yb)"/>
<ellipse cx="1166.1" cy="862.8" rx="5.41" ry="5.19" fill="url(#yb)"/>
<ellipse cx="1225.1" cy="862.8" rx="5.41" ry="5.19" fill="url(#yb)"/>
<ellipse cx="984.5" cy="885.5" rx="5.41" ry="5.19" fill="url(#yb)"/>
<ellipse cx="1043.5" cy="885.5" rx="5.41" ry="5.19" fill="url(#yb)"/>
<ellipse cx="1102.6" cy="885.5" rx="5.41" ry="5.19" fill="url(#yb)"/>
<ellipse cx="1161.6" cy="885.5" rx="5.41" ry="5.19" fill="url(#yb)"/>
<ellipse cx="1220.6" cy="885.5" rx="5.41" ry="5.19" fill="url(#yb)"/>
<ellipse cx="955.0" cy="916.1" rx="5.41" ry="5.19" fill="url(#yb)"/>
<ellipse cx="1014.0" cy="916.1" rx="5.41" ry="5.19" fill="url(#yb)"/>
<ellipse cx="1073.0" cy="916.1" rx="5.41" ry="5.19" fill="url(#yb)"/>
<ellipse cx="1132.1" cy="916.1" rx="5.41" ry="5.19" fill="url(#yb)"/>
<ellipse cx="1191.1" cy="916.1" rx="5.41" ry="5.19" fill="url(#yb)"/>
<ellipse cx="1250.1" cy="916.1" rx="5.41" ry="5.19" fill="url(#yb)"/>
<ellipse cx="989.0" cy="921.4" rx="5.41" ry="5.19" fill="url(#yb)"/>
<ellipse cx="1048.0" cy="921.4" rx="5.41" ry="5.19" fill="url(#yb)"/>
<ellipse cx="1107.1" cy="921.4" rx="5.41" ry="5.19" fill="url(#yb)"/>
<ellipse cx="1166.1" cy="921.4" rx="5.41" ry="5.19" fill="url(#yb)"/>
<ellipse cx="1225.1" cy="921.4" rx="5.41" ry="5.19" fill="url(#yb)"/>
<ellipse cx="984.5" cy="944.1" rx="5.41" ry="5.19" fill="url(#yb)"/>
<ellipse cx="1043.5" cy="944.1" rx="5.41" ry="5.19" fill="url(#yb)"/>
<ellipse cx="1102.6" cy="944.1" rx="5.41" ry="5.19" fill="url(#yb)"/>
<ellipse cx="1161.6" cy="944.1" rx="5.41" ry="5.19" fill="url(#yb)"/>
<ellipse cx="1220.6" cy="944.1" rx="5.41" ry="5.19" fill="url(#yb)"/>
<polygon points="505.9,704.7 480.7,740.3 515.2,740.3" fill="#5d5d5d" stroke="#5d5d5d" stroke-width="0.6"/>
<polygon points="505.9,704.7 539.3,731.8 515.2,740.3" fill="#8b8b8b" stroke="#8b8b8b" stroke-width="0.6"/>
<polygon points="480.7,740.3 513.8,764.1 515.2,740.3" fill="#8f8f8f" stroke="#8f8f8f" stroke-width="0.6"/>
<polygon points="539.3,731.8 513.8,764.1 515.2,740.3" fill="#b7b7b7" stroke="#b7b7b7" stroke-width="0.6"/>
<circle cx="509.9" cy="734.2" r="4.3" fill="#55553e" opacity="0.75"/>
<polygon points="571.8,698.5 545.8,732.4 579.7,734.7" fill="#5d5d5d" stroke="#5d5d5d" stroke-width="0.6"/>
<polygon points="571.8,698.5 604.3,726.8 579.7,734.7" fill="#8b8b8b" stroke="#8b8b8b" stroke-width="0.6"/>
<polygon points="545.8,732.4 577.4,757.9 579.7,734.7" fill="#8f8f8f" stroke="#8f8f8f" stroke-width="0.6"/>
<polygon points="604.3,726.8 577.4,757.9 579.7,734.7" fill="#b7b7b7" stroke="#b7b7b7" stroke-width="0.6"/>
<circle cx="574.8" cy="727.9" r="4.3" fill="#55553e" opacity="0.75"/>
<polygon points="647.6,696.2 618.4,727.3 652.4,733.0" fill="#5d5d5d" stroke="#5d5d5d" stroke-width="0.6"/>
<polygon points="647.6,696.2 677.8,727.3 652.4,733.0" fill="#8b8b8b" stroke="#8b8b8b" stroke-width="0.6"/>
<polygon points="618.4,727.3 647.6,755.6 652.4,733.0" fill="#8f8f8f" stroke="#8f8f8f" stroke-width="0.6"/>
<polygon points="677.8,727.3 647.6,755.6 652.4,733.0" fill="#b7b7b7" stroke="#b7b7b7" stroke-width="0.6"/>
<circle cx="647.8" cy="725.6" r="4.3" fill="#55553e" opacity="0.75"/>
<polygon points="722.5,700.7 690.5,728.2 723.9,736.6" fill="#5d5d5d" stroke="#5d5d5d" stroke-width="0.6"/>
<polygon points="722.5,700.7 749.3,734.7 723.9,736.6" fill="#8b8b8b" stroke="#8b8b8b" stroke-width="0.6"/>
<polygon points="690.5,728.2 717.4,759.3 723.9,736.6" fill="#8f8f8f" stroke="#8f8f8f" stroke-width="0.6"/>
<polygon points="749.3,734.7 717.4,759.3 723.9,736.6" fill="#b7b7b7" stroke="#b7b7b7" stroke-width="0.6"/>
<circle cx="719.9" cy="729.7" r="4.3" fill="#55553e" opacity="0.75"/>
<polygon points="793.7,703.6 760.4,730.1 793.7,740.9" fill="#5d5d5d" stroke="#5d5d5d" stroke-width="0.6"/>
<polygon points="793.7,703.6 817.8,738.6 793.7,740.9" fill="#8b8b8b" stroke="#8b8b8b" stroke-width="0.6"/>
<polygon points="760.4,730.1 785.2,762.9 793.7,740.9" fill="#8f8f8f" stroke="#8f8f8f" stroke-width="0.6"/>
<polygon points="817.8,738.6 785.2,762.9 793.7,740.9" fill="#b7b7b7" stroke="#b7b7b7" stroke-width="0.6"/>
<circle cx="789.3" cy="732.8" r="4.3" fill="#55553e" opacity="0.75"/>
<polygon points="513.8,764.1 488.4,798.0 522.3,798.8" fill="#5d5d5d" stroke="#5d5d5d" stroke-width="0.6"/>
<polygon points="513.8,764.1 547.7,791.2 522.3,798.8" fill="#8b8b8b" stroke="#8b8b8b" stroke-width="0.6"/>
<polygon points="488.4,798.0 520.9,822.0 522.3,798.8" fill="#8f8f8f" stroke="#8f8f8f" stroke-width="0.6"/>
<polygon points="547.7,791.2 520.9,822.0 522.3,798.8" fill="#b7b7b7" stroke="#b7b7b7" stroke-width="0.6"/>
<circle cx="517.7" cy="792.8" r="4.3" fill="#55553e" opacity="0.75"/>
<polygon points="577.4,757.9 552.6,791.2 585.9,794.0" fill="#5d5d5d" stroke="#5d5d5d" stroke-width="0.6"/>
<polygon points="577.4,757.9 610.8,786.1 585.9,794.0" fill="#8b8b8b" stroke="#8b8b8b" stroke-width="0.6"/>
<polygon points="552.6,791.2 583.1,817.2 585.9,794.0" fill="#8f8f8f" stroke="#8f8f8f" stroke-width="0.6"/>
<polygon points="610.8,786.1 583.1,817.2 585.9,794.0" fill="#b7b7b7" stroke="#b7b7b7" stroke-width="0.6"/>
<circle cx="581.0" cy="787.1" r="4.3" fill="#55553e" opacity="0.75"/>
<polygon points="647.6,755.6 619.3,786.1 653.2,791.8" fill="#5d5d5d" stroke="#5d5d5d" stroke-width="0.6"/>
<polygon points="647.6,755.6 677.8,786.1 653.2,791.8" fill="#8b8b8b" stroke="#8b8b8b" stroke-width="0.6"/>
<polygon points="619.3,786.1 648.7,814.4 653.2,791.8" fill="#8f8f8f" stroke="#8f8f8f" stroke-width="0.6"/>
<polygon points="677.8,786.1 648.7,814.4 653.2,791.8" fill="#b7b7b7" stroke="#b7b7b7" stroke-width="0.6"/>
<circle cx="648.3" cy="784.6" r="4.3" fill="#55553e" opacity="0.75"/>
<polygon points="717.4,759.3 686.3,787.5 719.4,796.0" fill="#5d5d5d" stroke="#5d5d5d" stroke-width="0.6"/>
<polygon points="717.4,759.3 744.2,792.3 719.4,796.0" fill="#8b8b8b" stroke="#8b8b8b" stroke-width="0.6"/>
<polygon points="686.3,787.5 713.1,817.8 719.4,796.0" fill="#8f8f8f" stroke="#8f8f8f" stroke-width="0.6"/>
<polygon points="744.2,792.3 713.1,817.8 719.4,796.0" fill="#b7b7b7" stroke="#b7b7b7" stroke-width="0.6"/>
<circle cx="715.3" cy="788.2" r="4.3" fill="#55553e" opacity="0.75"/>
<polygon points="785.2,762.9 752.7,789.5 786.1,799.7" fill="#5d5d5d" stroke="#5d5d5d" stroke-width="0.6"/>
<polygon points="785.2,762.9 811.5,796.9 786.1,799.7" fill="#8b8b8b" stroke="#8b8b8b" stroke-width="0.6"/>
<polygon points="752.7,789.5 778.2,821.5 786.1,799.7" fill="#8f8f8f" stroke="#8f8f8f" stroke-width="0.6"/>
<polygon points="811.5,796.9 778.2,821.5 786.1,799.7" fill="#b7b7b7" stroke="#b7b7b7" stroke-width="0.6"/>
<circle cx="781.9" cy="791.7" r="4.3" fill="#55553e" opacity="0.75"/>
<polygon points="520.9,822.0 494.9,856.2 528.8,858.2" fill="#5d5d5d" stroke="#5d5d5d" stroke-width="0.6"/>
<polygon points="520.9,822.0 554.3,849.7 528.8,858.2" fill="#8b8b8b" stroke="#8b8b8b" stroke-width="0.6"/>
<polygon points="494.9,856.2 526.5,880.8 528.8,858.2" fill="#8f8f8f" stroke="#8f8f8f" stroke-width="0.6"/>
<polygon points="554.3,849.7 526.5,880.8 528.8,858.2" fill="#b7b7b7" stroke="#b7b7b7" stroke-width="0.6"/>
<circle cx="524.1" cy="851.2" r="4.3" fill="#55553e" opacity="0.75"/>
<polygon points="583.1,817.2 557.6,849.7 591.0,852.6" fill="#5d5d5d" stroke="#5d5d5d" stroke-width="0.6"/>
<polygon points="583.1,817.2 615.6,845.5 591.0,852.6" fill="#8b8b8b" stroke="#8b8b8b" stroke-width="0.6"/>
<polygon points="557.6,849.7 587.3,875.8 591.0,852.6" fill="#8f8f8f" stroke="#8f8f8f" stroke-width="0.6"/>
<polygon points="615.6,845.5 587.3,875.8 591.0,852.6" fill="#b7b7b7" stroke="#b7b7b7" stroke-width="0.6"/>
<circle cx="585.9" cy="846.1" r="4.3" fill="#55553e" opacity="0.75"/>
<polygon points="648.7,814.4 619.8,844.9 654.3,850.6" fill="#5d5d5d" stroke="#5d5d5d" stroke-width="0.6"/>
<polygon points="648.7,814.4 679.2,844.9 654.3,850.6" fill="#8b8b8b" stroke="#8b8b8b" stroke-width="0.6"/>
<polygon points="619.8,844.9 649.5,873.8 654.3,850.6" fill="#8f8f8f" stroke="#8f8f8f" stroke-width="0.6"/>
<polygon points="679.2,844.9 649.5,873.8 654.3,850.6" fill="#b7b7b7" stroke="#b7b7b7" stroke-width="0.6"/>
<circle cx="649.3" cy="843.5" r="4.3" fill="#55553e" opacity="0.75"/>
<polygon points="713.1,817.8 682.0,845.5 716.0,853.4" fill="#5d5d5d" stroke="#5d5d5d" stroke-width="0.6"/>
<polygon points="713.1,817.8 740.0,849.7 716.0,853.4" fill="#8b8b8b" stroke="#8b8b8b" stroke-width="0.6"/>
<polygon points="682.0,845.5 710.3,875.8 716.0,853.4" fill="#8f8f8f" stroke="#8f8f8f" stroke-width="0.6"/>
<polygon points="740.0,849.7 710.3,875.8 716.0,853.4" fill="#b7b7b7" stroke="#b7b7b7" stroke-width="0.6"/>
<circle cx="711.4" cy="846.2" r="4.3" fill="#55553e" opacity="0.75"/>
<polygon points="778.2,821.5 745.7,848.9 778.7,857.4" fill="#5d5d5d" stroke="#5d5d5d" stroke-width="0.6"/>
<polygon points="778.2,821.5 804.2,855.4 778.7,857.4" fill="#8b8b8b" stroke="#8b8b8b" stroke-width="0.6"/>
<polygon points="745.7,848.9 771.1,880.0 778.7,857.4" fill="#8f8f8f" stroke="#8f8f8f" stroke-width="0.6"/>
<polygon points="804.2,855.4 771.1,880.0 778.7,857.4" fill="#b7b7b7" stroke="#b7b7b7" stroke-width="0.6"/>
<circle cx="774.8" cy="850.4" r="4.3" fill="#55553e" opacity="0.75"/>
<polygon points="526.5,880.8 499.7,913.9 534.5,916.2" fill="#5d5d5d" stroke="#5d5d5d" stroke-width="0.6"/>
<polygon points="526.5,880.8 559.1,907.7 534.5,916.2" fill="#8b8b8b" stroke="#8b8b8b" stroke-width="0.6"/>
<polygon points="499.7,913.9 531.6,938.8 534.5,916.2" fill="#8f8f8f" stroke="#8f8f8f" stroke-width="0.6"/>
<polygon points="559.1,907.7 531.6,938.8 534.5,916.2" fill="#b7b7b7" stroke="#b7b7b7" stroke-width="0.6"/>
<circle cx="529.2" cy="909.3" r="4.3" fill="#55553e" opacity="0.75"/>
<polygon points="587.3,875.8 559.9,907.7 593.8,911.9" fill="#5d5d5d" stroke="#5d5d5d" stroke-width="0.6"/>
<polygon points="587.3,875.8 619.3,904.0 593.8,911.9" fill="#8b8b8b" stroke="#8b8b8b" stroke-width="0.6"/>
<polygon points="559.9,907.7 590.2,933.7 593.8,911.9" fill="#8f8f8f" stroke="#8f8f8f" stroke-width="0.6"/>
<polygon points="619.3,904.0 590.2,933.7 593.8,911.9" fill="#b7b7b7" stroke="#b7b7b7" stroke-width="0.6"/>
<circle cx="589.2" cy="904.3" r="4.3" fill="#55553e" opacity="0.75"/>
<polygon points="649.5,873.8 619.3,904.0 653.8,909.1" fill="#5d5d5d" stroke="#5d5d5d" stroke-width="0.6"/>
<polygon points="649.5,873.8 678.7,904.3 653.8,909.1" fill="#8b8b8b" stroke="#8b8b8b" stroke-width="0.6"/>
<polygon points="619.3,904.0 648.7,931.7 653.8,909.1" fill="#8f8f8f" stroke="#8f8f8f" stroke-width="0.6"/>
<polygon points="678.7,904.3 648.7,931.7 653.8,909.1" fill="#b7b7b7" stroke="#b7b7b7" stroke-width="0.6"/>
<circle cx="649.0" cy="902.5" r="4.3" fill="#55553e" opacity="0.75"/>
<polygon points="710.3,875.8 678.7,904.9 712.6,911.9" fill="#5d5d5d" stroke="#5d5d5d" stroke-width="0.6"/>
<polygon points="710.3,875.8 738.6,908.3 712.6,911.9" fill="#8b8b8b" stroke="#8b8b8b" stroke-width="0.6"/>
<polygon points="678.7,904.9 706.9,933.7 712.6,911.9" fill="#8f8f8f" stroke="#8f8f8f" stroke-width="0.6"/>
<polygon points="738.6,908.3 706.9,933.7 712.6,911.9" fill="#b7b7b7" stroke="#b7b7b7" stroke-width="0.6"/>
<circle cx="708.6" cy="904.6" r="4.3" fill="#55553e" opacity="0.75"/>
<polygon points="771.1,880.0 738.6,908.3 773.1,917.6" fill="#5d5d5d" stroke="#5d5d5d" stroke-width="0.6"/>
<polygon points="771.1,880.0 798.0,913.9 773.1,917.6" fill="#8b8b8b" stroke="#8b8b8b" stroke-width="0.6"/>
<polygon points="738.6,908.3 766.3,939.4 773.1,917.6" fill="#8f8f8f" stroke="#8f8f8f" stroke-width="0.6"/>
<polygon points="798.0,913.9 766.3,939.4 773.1,917.6" fill="#b7b7b7" stroke="#b7b7b7" stroke-width="0.6"/>
<circle cx="768.5" cy="909.4" r="4.3" fill="#55553e" opacity="0.75"/>
<circle cx="546.3" cy="759.3" r="10.2" fill="url(#fb)"/>
<circle cx="613.3" cy="755.6" r="10.2" fill="url(#fb)"/>
<circle cx="684.9" cy="753.6" r="10.2" fill="url(#fb)"/>
<circle cx="752.7" cy="755.6" r="10.2" fill="url(#fb)"/>
<circle cx="550.0" cy="817.8" r="10.2" fill="url(#fb)"/>
<circle cx="615.6" cy="814.4" r="10.2" fill="url(#fb)"/>
<circle cx="681.5" cy="812.1" r="10.2" fill="url(#fb)"/>
<circle cx="746.5" cy="817.2" r="10.2" fill="url(#fb)"/>
<circle cx="555.4" cy="876.6" r="10.2" fill="url(#fb)"/>
<circle cx="619.0" cy="874.3" r="10.2" fill="url(#fb)"/>
<circle cx="681.5" cy="872.4" r="10.2" fill="url(#fb)"/>
<circle cx="742.8" cy="879.4" r="10.2" fill="url(#fb)"/>
<ellipse cx="647.6" cy="696.2" rx="5.41" ry="5.19" fill="url(#yb)"/>
<ellipse cx="571.8" cy="698.5" rx="5.41" ry="5.19" fill="url(#yb)"/>
<ellipse cx="722.5" cy="700.7" rx="5.41" ry="5.19" fill="url(#yb)"/>
<ellipse cx="793.7" cy="703.6" rx="5.41" ry="5.19" fill="url(#yb)"/>
<ellipse cx="505.9" cy="704.7" rx="5.41" ry="5.19" fill="url(#yb)"/>
<ellipse cx="604.3" cy="726.8" rx="5.41" ry="5.19" fill="url(#yb)"/>
<ellipse cx="618.4" cy="727.3" rx="5.41" ry="5.19" fill="url(#yb)"/>
<ellipse cx="677.8" cy="727.3" rx="5.41" ry="5.19" fill="url(#yb)"/>
<ellipse cx="690.5" cy="728.2" rx="5.41" ry="5.19" fill="url(#yb)"/>
<ellipse cx="760.4" cy="730.1" rx="5.41" ry="5.19" fill="url(#yb)"/>
<ellipse cx="539.3" cy="731.8" rx="5.41" ry="5.19" fill="url(#yb)"/>
<ellipse cx="545.8" cy="732.4" rx="5.41" ry="5.19" fill="url(#yb)"/>
<ellipse cx="652.4" cy="733.0" rx="5.41" ry="5.19" fill="url(#yb)"/>
<ellipse cx="579.7" cy="734.7" rx="5.41" ry="5.19" fill="url(#yb)"/>
<ellipse cx="749.3" cy="734.7" rx="5.41" ry="5.19" fill="url(#yb)"/>
<ellipse cx="723.9" cy="736.6" rx="5.41" ry="5.19" fill="url(#yb)"/>
<ellipse cx="817.8" cy="738.6" rx="5.41" ry="5.19" fill="url(#yb)"/>
<ellipse cx="480.7" cy="740.3" rx="5.41" ry="5.19" fill="url(#yb)"/>
<ellipse cx="515.2" cy="740.3" rx="5.41" ry="5.19" fill="url(#yb)"/>
<ellipse cx="793.7" cy="740.9" rx="5.41" ry="5.19" fill="url(#yb)"/>
<ellipse cx="647.6" cy="755.6" rx="5.41" ry="5.19" fill="url(#yb)"/>
<ellipse cx="577.4" cy="757.9" rx="5.41" ry="5.19" fill="url(#yb)"/>
<ellipse cx="717.4" cy="759.3" rx="5.41" ry="5.19" fill="url(#yb)"/>
<ellipse cx="785.2" cy="762.9" rx="5.41" ry="5.19" fill="url(#yb)"/>
<ellipse cx="513.8" cy="764.1" rx="5.41" ry="5.19" fill="url(#yb)"/>
<ellipse cx="610.8" cy="786.1" rx="5.41" ry="5.19" fill="url(#yb)"/>
<ellipse cx="619.3" cy="786.1" rx="5.41" ry="5.19" fill="url(#yb)"/>
<ellipse cx="677.8" cy="786.1" rx="5.41" ry="5.19" fill="url(#yb)"/>
<ellipse cx="686.3" cy="787.5" rx="5.41" ry="5.19" fill="url(#yb)"/>
<ellipse cx="752.7" cy="789.5" rx="5.41" ry="5.19" fill="url(#yb)"/>
<ellipse cx="547.7" cy="791.2" rx="5.41" ry="5.19" fill="url(#yb)"/>
<ellipse cx="552.6" cy="791.2" rx="5.41" ry="5.19" fill="url(#yb)"/>
<ellipse cx="653.2" cy="791.8" rx="5.41" ry="5.19" fill="url(#yb)"/>
<ellipse cx="744.2" cy="792.3" rx="5.41" ry="5.19" fill="url(#yb)"/>
<ellipse cx="585.9" cy="794.0" rx="5.41" ry="5.19" fill="url(#yb)"/>
<ellipse cx="719.4" cy="796.0" rx="5.41" ry="5.19" fill="url(#yb)"/>
<ellipse cx="811.5" cy="796.9" rx="5.41" ry="5.19" fill="url(#yb)"/>
<ellipse cx="488.4" cy="798.0" rx="5.41" ry="5.19" fill="url(#yb)"/>
<ellipse cx="522.3" cy="798.8" rx="5.41" ry="5.19" fill="url(#yb)"/>
<ellipse cx="786.1" cy="799.7" rx="5.41" ry="5.19" fill="url(#yb)"/>
<ellipse cx="648.7" cy="814.4" rx="5.41" ry="5.19" fill="url(#yb)"/>
<ellipse cx="583.1" cy="817.2" rx="5.41" ry="5.19" fill="url(#yb)"/>
<ellipse cx="713.1" cy="817.8" rx="5.41" ry="5.19" fill="url(#yb)"/>
<ellipse cx="778.2" cy="821.5" rx="5.41" ry="5.19" fill="url(#yb)"/>
<ellipse cx="520.9" cy="822.0" rx="5.41" ry="5.19" fill="url(#yb)"/>
<ellipse cx="619.8" cy="844.9" rx="5.41" ry="5.19" fill="url(#yb)"/>
<ellipse cx="679.2" cy="844.9" rx="5.41" ry="5.19" fill="url(#yb)"/>
<ellipse cx="615.6" cy="845.5" rx="5.41" ry="5.19" fill="url(#yb)"/>
<ellipse cx="682.0" cy="845.5" rx="5.41" ry="5.19" fill="url(#yb)"/>
<ellipse cx="745.7" cy="848.9" rx="5.41" ry="5.19" fill="url(#yb)"/>
<ellipse cx="554.3" cy="849.7" rx="5.41" ry="5.19" fill="url(#yb)"/>
<ellipse cx="557.6" cy="849.7" rx="5.41" ry="5.19" fill="url(#yb)"/>
<ellipse cx="740.0" cy="849.7" rx="5.41" ry="5.19" fill="url(#yb)"/>
<ellipse cx="654.3" cy="850.6" rx="5.41" ry="5.19" fill="url(#yb)"/>
<ellipse cx="591.0" cy="852.6" rx="5.41" ry="5.19" fill="url(#yb)"/>
<ellipse cx="716.0" cy="853.4" rx="5.41" ry="5.19" fill="url(#yb)"/>
<ellipse cx="804.2" cy="855.4" rx="5.41" ry="5.19" fill="url(#yb)"/>
<ellipse cx="494.9" cy="856.2" rx="5.41" ry="5.19" fill="url(#yb)"/>
<ellipse cx="778.7" cy="857.4" rx="5.41" ry="5.19" fill="url(#yb)"/>
<ellipse cx="528.8" cy="858.2" rx="5.41" ry="5.19" fill="url(#yb)"/>
<ellipse cx="649.5" cy="873.8" rx="5.41" ry="5.19" fill="url(#yb)"/>
<ellipse cx="587.3" cy="875.8" rx="5.41" ry="5.19" fill="url(#yb)"/>
<ellipse cx="710.3" cy="875.8" rx="5.41" ry="5.19" fill="url(#yb)"/>
<ellipse cx="771.1" cy="880.0" rx="5.41" ry="5.19" fill="url(#yb)"/>
<ellipse cx="526.5" cy="880.8" rx="5.41" ry="5.19" fill="url(#yb)"/>
<ellipse cx="619.3" cy="904.0" rx="5.41" ry="5.19" fill="url(#yb)"/>
<ellipse cx="678.7" cy="904.3" rx="5.41" ry="5.19" fill="url(#yb)"/>
<ellipse cx="559.1" cy="907.7" rx="5.41" ry="5.19" fill="url(#yb)"/>
<ellipse cx="738.6" cy="908.3" rx="5.41" ry="5.19" fill="url(#yb)"/>
<ellipse cx="653.8" cy="909.1" rx="5.41" ry="5.19" fill="url(#yb)"/>
<ellipse cx="593.8" cy="911.9" rx="5.41" ry="5.19" fill="url(#yb)"/>
<ellipse cx="712.6" cy="911.9" rx="5.41" ry="5.19" fill="url(#yb)"/>
<ellipse cx="499.7" cy="913.9" rx="5.41" ry="5.19" fill="url(#yb)"/>
<ellipse cx="798.0" cy="913.9" rx="5.41" ry="5.19" fill="url(#yb)"/>
<ellipse cx="534.5" cy="916.2" rx="5.41" ry="5.19" fill="url(#yb)"/>
<ellipse cx="773.1" cy="917.6" rx="5.41" ry="5.19" fill="url(#yb)"/>
<ellipse cx="648.7" cy="931.7" rx="5.41" ry="5.19" fill="url(#yb)"/>
<ellipse cx="590.2" cy="933.7" rx="5.41" ry="5.19" fill="url(#yb)"/>
<ellipse cx="706.9" cy="933.7" rx="5.41" ry="5.19" fill="url(#yb)"/>
<ellipse cx="531.6" cy="938.8" rx="5.41" ry="5.19" fill="url(#yb)"/>
<ellipse cx="766.3" cy="939.4" rx="5.41" ry="5.19" fill="url(#yb)"/>
<polygon points="43.1,710.4 19.8,742.5 53.9,740.1" fill="#5d5d5d" stroke="#5d5d5d" stroke-width="0.6"/>
<polygon points="43.1,710.4 77.3,730.8 53.9,740.1" fill="#8b8b8b" stroke="#8b8b8b" stroke-width="0.6"/>
<polygon points="19.8,742.5 52.5,760.0 53.9,740.1" fill="#8f8f8f" stroke="#8f8f8f" stroke-width="0.6"/>
<polygon points="77.3,730.8 52.5,760.0 53.9,740.1" fill="#b7b7b7" stroke="#b7b7b7" stroke-width="0.6"/>
<circle cx="48.2" cy="734.9" r="4.3" fill="#55553e" opacity="0.75"/>
<polygon points="121.9,708.1 96.2,738.1 130.6,738.1" fill="#5d5d5d" stroke="#5d5d5d" stroke-width="0.6"/>
<polygon points="121.9,708.1 156.0,729.4 130.6,738.1" fill="#8b8b8b" stroke="#8b8b8b" stroke-width="0.6"/>
<polygon points="96.2,738.1 128.3,757.9 130.6,738.1" fill="#8f8f8f" stroke="#8f8f8f" stroke-width="0.6"/>
<polygon points="156.0,729.4 128.3,757.9 130.6,738.1" fill="#b7b7b7" stroke="#b7b7b7" stroke-width="0.6"/>
<circle cx="125.6" cy="732.4" r="4.3" fill="#55553e" opacity="0.75"/>
<polygon points="186.6,703.1 157.4,729.4 191.0,734.3" fill="#5d5d5d" stroke="#5d5d5d" stroke-width="0.6"/>
<polygon points="186.6,703.1 215.7,729.4 191.0,734.3" fill="#8b8b8b" stroke="#8b8b8b" stroke-width="0.6"/>
<polygon points="157.4,729.4 186.6,755.6 191.0,734.3" fill="#8f8f8f" stroke="#8f8f8f" stroke-width="0.6"/>
<polygon points="215.7,729.4 186.6,755.6 191.0,734.3" fill="#b7b7b7" stroke="#b7b7b7" stroke-width="0.6"/>
<circle cx="186.6" cy="728.4" r="4.3" fill="#55553e" opacity="0.75"/>
<polygon points="253.1,706.0 221.0,727.9 253.1,737.2" fill="#5d5d5d" stroke="#5d5d5d" stroke-width="0.6"/>
<polygon points="253.1,706.0 278.4,736.1 253.1,737.2" fill="#8b8b8b" stroke="#8b8b8b" stroke-width="0.6"/>
<polygon points="221.0,727.9 245.5,756.5 253.1,737.2" fill="#8f8f8f" stroke="#8f8f8f" stroke-width="0.6"/>
<polygon points="278.4,736.1 245.5,756.5 253.1,737.2" fill="#b7b7b7" stroke="#b7b7b7" stroke-width="0.6"/>
<circle cx="249.5" cy="730.6" r="4.3" fill="#55553e" opacity="0.75"/>
<polygon points="330.9,711.9 297.4,732.3 329.4,743.1" fill="#5d5d5d" stroke="#5d5d5d" stroke-width="0.6"/>
<polygon points="330.9,711.9 355.1,743.9 329.4,743.1" fill="#8b8b8b" stroke="#8b8b8b" stroke-width="0.6"/>
<polygon points="297.4,732.3 321.3,760.8 329.4,743.1" fill="#8f8f8f" stroke="#8f8f8f" stroke-width="0.6"/>
<polygon points="355.1,743.9 321.3,760.8 329.4,743.1" fill="#b7b7b7" stroke="#b7b7b7" stroke-width="0.6"/>
<circle cx="326.2" cy="736.2" r="4.3" fill="#55553e" opacity="0.75"/>
<polygon points="52.5,760.0 27.7,792.6 61.8,792.6" fill="#5d5d5d" stroke="#5d5d5d" stroke-width="0.6"/>
<polygon points="52.5,760.0 85.1,783.3 61.8,792.6" fill="#8b8b8b" stroke="#8b8b8b" stroke-width="0.6"/>
<polygon points="27.7,792.6 60.6,813.9 61.8,792.6" fill="#8f8f8f" stroke="#8f8f8f" stroke-width="0.6"/>
<polygon points="85.1,783.3 60.6,813.9 61.8,792.6" fill="#b7b7b7" stroke="#b7b7b7" stroke-width="0.6"/>
<circle cx="56.5" cy="786.4" r="4.3" fill="#55553e" opacity="0.75"/>
<polygon points="128.3,757.9 99.1,786.2 132.7,791.5" fill="#5d5d5d" stroke="#5d5d5d" stroke-width="0.6"/>
<polygon points="128.3,757.9 157.4,784.8 132.7,791.5" fill="#8b8b8b" stroke="#8b8b8b" stroke-width="0.6"/>
<polygon points="99.1,786.2 128.3,811.9 132.7,791.5" fill="#8f8f8f" stroke="#8f8f8f" stroke-width="0.6"/>
<polygon points="157.4,784.8 128.3,811.9 132.7,791.5" fill="#b7b7b7" stroke="#b7b7b7" stroke-width="0.6"/>
<circle cx="128.3" cy="784.2" r="4.3" fill="#55553e" opacity="0.75"/>
<polygon points="186.6,755.6 157.4,784.8 191.0,789.7" fill="#5d5d5d" stroke="#5d5d5d" stroke-width="0.6"/>
<polygon points="186.6,755.6 216.3,784.8 191.0,789.7" fill="#8b8b8b" stroke="#8b8b8b" stroke-width="0.6"/>
<polygon points="157.4,784.8 186.6,811.0 191.0,789.7" fill="#8f8f8f" stroke="#8f8f8f" stroke-width="0.6"/>
<polygon points="216.3,784.8 186.6,811.0 191.0,789.7" fill="#b7b7b7" stroke="#b7b7b7" stroke-width="0.6"/>
<circle cx="186.7" cy="783.0" r="4.3" fill="#55553e" opacity="0.75"/>
<polygon points="245.5,756.5 216.3,784.8 250.1,789.7" fill="#5d5d5d" stroke="#5d5d5d" stroke-width="0.6"/>
<polygon points="245.5,756.5 274.6,784.8 250.1,789.7" fill="#8b8b8b" stroke="#8b8b8b" stroke-width="0.6"/>
<polygon points="216.3,784.8 245.5,811.0 250.1,789.7" fill="#8f8f8f" stroke="#8f8f8f" stroke-width="0.6"/>
<polygon points="274.6,784.8 245.5,811.0 250.1,789.7" fill="#b7b7b7" stroke="#b7b7b7" stroke-width="0.6"/>
<circle cx="245.5" cy="783.2" r="4.3" fill="#55553e" opacity="0.75"/>
<polygon points="321.3,760.8 288.0,783.9 320.1,794.4" fill="#5d5d5d" stroke="#5d5d5d" stroke-width="0.6"/>
<polygon points="321.3,760.8 345.5,793.5 320.1,794.4" fill="#8b8b8b" stroke="#8b8b8b" stroke-width="0.6"/>
<polygon points="288.0,783.9 312.5,814.8 320.1,794.4" fill="#8f8f8f" stroke="#8f8f8f" stroke-width="0.6"/>
<polygon points="345.5,793.5 312.5,814.8 320.1,794.4" fill="#b7b7b7" stroke="#b7b7b7" stroke-width="0.6"/>
<circle cx="316.8" cy="787.3" r="4.3" fill="#55553e" opacity="0.75"/>
<polygon points="60.6,813.9 35.0,847.4 69.4,848.9" fill="#5d5d5d" stroke="#5d5d5d" stroke-width="0.6"/>
<polygon points="60.6,813.9 93.9,841.6 69.4,848.9" fill="#8b8b8b" stroke="#8b8b8b" stroke-width="0.6"/>
<polygon points="35.0,847.4 67.1,872.2 69.4,848.9" fill="#8f8f8f" stroke="#8f8f8f" stroke-width="0.6"/>
<polygon points="93.9,841.6 67.1,872.2 69.4,848.9" fill="#b7b7b7" stroke="#b7b7b7" stroke-width="0.6"/>
<circle cx="64.1" cy="842.8" r="4.3" fill="#55553e" opacity="0.75"/>
<polygon points="128.3,811.9 99.7,841.6 132.7,846.9" fill="#5d5d5d" stroke="#5d5d5d" stroke-width="0.6"/>
<polygon points="128.3,811.9 157.4,841.6 132.7,846.9" fill="#8b8b8b" stroke="#8b8b8b" stroke-width="0.6"/>
<polygon points="99.7,841.6 128.3,869.3 132.7,846.9" fill="#8f8f8f" stroke="#8f8f8f" stroke-width="0.6"/>
<polygon points="157.4,841.6 128.3,869.3 132.7,846.9" fill="#b7b7b7" stroke="#b7b7b7" stroke-width="0.6"/>
<circle cx="128.4" cy="840.1" r="4.3" fill="#55553e" opacity="0.75"/>
<polygon points="186.6,811.0 157.4,841.6 191.5,846.9" fill="#5d5d5d" stroke="#5d5d5d" stroke-width="0.6"/>
<polygon points="186.6,811.0 216.3,841.6 191.5,846.9" fill="#8b8b8b" stroke="#8b8b8b" stroke-width="0.6"/>
<polygon points="157.4,841.6 187.2,869.3 191.5,846.9" fill="#8f8f8f" stroke="#8f8f8f" stroke-width="0.6"/>
<polygon points="216.3,841.6 187.2,869.3 191.5,846.9" fill="#b7b7b7" stroke="#b7b7b7" stroke-width="0.6"/>
<circle cx="186.9" cy="839.9" r="4.3" fill="#55553e" opacity="0.75"/>
<polygon points="245.5,811.0 216.3,841.6 250.1,846.9" fill="#5d5d5d" stroke="#5d5d5d" stroke-width="0.6"/>
<polygon points="245.5,811.0 275.5,841.6 250.1,846.9" fill="#8b8b8b" stroke="#8b8b8b" stroke-width="0.6"/>
<polygon points="216.3,841.6 245.5,869.3 250.1,846.9" fill="#8f8f8f" stroke="#8f8f8f" stroke-width="0.6"/>
<polygon points="275.5,841.6 245.5,869.3 250.1,846.9" fill="#b7b7b7" stroke="#b7b7b7" stroke-width="0.6"/>
<circle cx="245.7" cy="839.9" r="4.3" fill="#55553e" opacity="0.75"/>
<polygon points="312.5,814.8 280.5,841.6 313.4,850.3" fill="#5d5d5d" stroke="#5d5d5d" stroke-width="0.6"/>
<polygon points="312.5,814.8 338.8,848.0 313.4,850.3" fill="#8b8b8b" stroke="#8b8b8b" stroke-width="0.6"/>
<polygon points="280.5,841.6 306.1,872.2 313.4,850.3" fill="#8f8f8f" stroke="#8f8f8f" stroke-width="0.6"/>
<polygon points="338.8,848.0 306.1,872.2 313.4,850.3" fill="#b7b7b7" stroke="#b7b7b7" stroke-width="0.6"/>
<circle cx="309.5" cy="843.2" r="4.3" fill="#55553e" opacity="0.75"/>
<polygon points="67.1,872.2 40.8,904.3 75.2,905.7" fill="#5d5d5d" stroke="#5d5d5d" stroke-width="0.6"/>
<polygon points="67.1,872.2 99.1,899.3 75.2,905.7" fill="#8b8b8b" stroke="#8b8b8b" stroke-width="0.6"/>
<polygon points="40.8,904.3 72.3,929.1 75.2,905.7" fill="#8f8f8f" stroke="#8f8f8f" stroke-width="0.6"/>
<polygon points="99.1,899.3 72.3,929.1 75.2,905.7" fill="#b7b7b7" stroke="#b7b7b7" stroke-width="0.6"/>
<circle cx="69.8" cy="900.2" r="4.3" fill="#55553e" opacity="0.75"/>
<polygon points="128.3,869.3 99.1,899.3 132.7,905.2" fill="#5d5d5d" stroke="#5d5d5d" stroke-width="0.6"/>
<polygon points="128.3,869.3 157.4,899.9 132.7,905.2" fill="#8b8b8b" stroke="#8b8b8b" stroke-width="0.6"/>
<polygon points="99.1,899.3 128.3,927.6 132.7,905.2" fill="#8f8f8f" stroke="#8f8f8f" stroke-width="0.6"/>
<polygon points="157.4,899.9 128.3,927.6 132.7,905.2" fill="#b7b7b7" stroke="#b7b7b7" stroke-width="0.6"/>
<circle cx="128.3" cy="898.0" r="4.3" fill="#55553e" opacity="0.75"/>
<polygon points="187.2,869.3 157.4,899.9 191.5,905.2" fill="#5d5d5d" stroke="#5d5d5d" stroke-width="0.6"/>
<polygon points="187.2,869.3 216.3,899.9 191.5,905.2" fill="#8b8b8b" stroke="#8b8b8b" stroke-width="0.6"/>
<polygon points="157.4,899.9 187.2,927.6 191.5,905.2" fill="#8f8f8f" stroke="#8f8f8f" stroke-width="0.6"/>
<polygon points="216.3,899.9 187.2,927.6 191.5,905.2" fill="#b7b7b7" stroke="#b7b7b7" stroke-width="0.6"/>
<circle cx="187.0" cy="898.2" r="4.3" fill="#55553e" opacity="0.75"/>
<polygon points="245.5,869.3 216.3,899.9 250.1,905.2" fill="#5d5d5d" stroke="#5d5d5d" stroke-width="0.6"/>
<polygon points="245.5,869.3 275.5,899.9 250.1,905.2" fill="#8b8b8b" stroke="#8b8b8b" stroke-width="0.6"/>
<polygon points="216.3,899.9 245.5,927.6 250.1,905.2" fill="#8f8f8f" stroke="#8f8f8f" stroke-width="0.6"/>
<polygon points="275.5,899.9 245.5,927.6 250.1,905.2" fill="#b7b7b7" stroke="#b7b7b7" stroke-width="0.6"/>
<circle cx="245.7" cy="898.2" r="4.3" fill="#55553e" opacity="0.75"/>
<polygon points="306.1,872.2 275.5,899.9 307.6,908.1" fill="#5d5d5d" stroke="#5d5d5d" stroke-width="0.6"/>
<polygon points="306.1,872.2 333.8,905.7 307.6,908.1" fill="#8b8b8b" stroke="#8b8b8b" stroke-width="0.6"/>
<polygon points="275.5,899.9 301.7,929.7 307.6,908.1" fill="#8f8f8f" stroke="#8f8f8f" stroke-width="0.6"/>
<polygon points="333.8,905.7 301.7,929.7 307.6,908.1" fill="#b7b7b7" stroke="#b7b7b7" stroke-width="0.6"/>
<circle cx="304.3" cy="900.9" r="4.3" fill="#55553e" opacity="0.75"/>
<line x1="85.5" y1="704" x2="103.5" y2="935" stroke="#f01010" stroke-width="2.2" stroke-dasharray="6,2.6"/>
<line x1="288" y1="697" x2="276.4" y2="927" stroke="#f01010" stroke-width="2.2" stroke-dasharray="6,2.6"/>
<circle cx="87.7" cy="689" r="13.2" fill="none" stroke="#f01010" stroke-width="3" stroke-dasharray="2.6,2.6"/>
<circle cx="298.7" cy="682.5" r="13.5" fill="none" stroke="#f01010" stroke-width="3" stroke-dasharray="2.6,2.6"/>
<polyline points="104.2,629.5 86.6,670.7 121.5,661.3" fill="none" stroke="#f01010" stroke-width="2.6" stroke-dasharray="2.6,2.6"/>
<polyline points="268.5,631.7 293.7,665.7 254.7,663.2" fill="none" stroke="#f01010" stroke-width="2.6" stroke-dasharray="2.6,2.6"/>
<circle cx="158.0" cy="755.6" r="10.2" fill="url(#fb)"/>
<circle cx="217.2" cy="755.6" r="10.2" fill="url(#fb)"/>
<circle cx="93.3" cy="811.9" r="10.2" fill="url(#fb)"/>
<circle cx="158.0" cy="813.9" r="10.2" fill="url(#fb)"/>
<circle cx="217.2" cy="811.0" r="10.2" fill="url(#fb)"/>
<circle cx="279.3" cy="812.4" r="10.2" fill="url(#fb)"/>
<circle cx="97.1" cy="869.3" r="10.2" fill="url(#fb)"/>
<circle cx="158.0" cy="869.3" r="10.2" fill="url(#fb)"/>
<circle cx="216.3" cy="869.3" r="10.2" fill="url(#fb)"/>
<circle cx="277.0" cy="869.3" r="10.2" fill="url(#fb)"/>
<ellipse cx="186.6" cy="703.1" rx="5.41" ry="5.19" fill="url(#yb)"/>
<ellipse cx="253.1" cy="706.0" rx="5.41" ry="5.19" fill="url(#yb)"/>
<ellipse cx="121.9" cy="708.1" rx="5.41" ry="5.19" fill="url(#yb)"/>
<ellipse cx="43.1" cy="710.4" rx="5.41" ry="5.19" fill="url(#yb)"/>
<ellipse cx="330.9" cy="711.9" rx="5.41" ry="5.19" fill="url(#yb)"/>
<ellipse cx="221.0" cy="727.9" rx="5.41" ry="5.19" fill="url(#yb)"/>
<ellipse cx="156.0" cy="729.4" rx="5.41" ry="5.19" fill="url(#yb)"/>
<ellipse cx="215.7" cy="729.4" rx="5.41" ry="5.19" fill="url(#yb)"/>
<ellipse cx="77.3" cy="730.8" rx="5.41" ry="5.19" fill="url(#yb)"/>
<ellipse cx="297.4" cy="732.3" rx="5.41" ry="5.19" fill="url(#yb)"/>
<ellipse cx="191.0" cy="734.3" rx="5.41" ry="5.19" fill="url(#yb)"/>
<ellipse cx="278.4" cy="736.1" rx="5.41" ry="5.19" fill="url(#yb)"/>
<ellipse cx="253.1" cy="737.2" rx="5.41" ry="5.19" fill="url(#yb)"/>
<ellipse cx="96.2" cy="738.1" rx="5.41" ry="5.19" fill="url(#yb)"/>
<ellipse cx="130.6" cy="738.1" rx="5.41" ry="5.19" fill="url(#yb)"/>
<ellipse cx="53.9" cy="740.1" rx="5.41" ry="5.19" fill="url(#yb)"/>
<ellipse cx="19.8" cy="742.5" rx="5.41" ry="5.19" fill="url(#yb)"/>
<ellipse cx="329.4" cy="743.1" rx="5.41" ry="5.19" fill="url(#yb)"/>
<ellipse cx="355.1" cy="743.9" rx="5.41" ry="5.19" fill="url(#yb)"/>
<ellipse cx="186.6" cy="755.6" rx="5.41" ry="5.19" fill="url(#yb)"/>
<ellipse cx="245.5" cy="756.5" rx="5.41" ry="5.19" fill="url(#yb)"/>
<ellipse cx="128.3" cy="757.9" rx="5.41" ry="5.19" fill="url(#yb)"/>
<ellipse cx="52.5" cy="760.0" rx="5.41" ry="5.19" fill="url(#yb)"/>
<ellipse cx="321.3" cy="760.8" rx="5.41" ry="5.19" fill="url(#yb)"/>
<ellipse cx="85.1" cy="783.3" rx="5.41" ry="5.19" fill="url(#yb)"/>
<ellipse cx="288.0" cy="783.9" rx="5.41" ry="5.19" fill="url(#yb)"/>
<ellipse cx="157.4" cy="784.8" rx="5.41" ry="5.19" fill="url(#yb)"/>
<ellipse cx="216.3" cy="784.8" rx="5.41" ry="5.19" fill="url(#yb)"/>
<ellipse cx="274.6" cy="784.8" rx="5.41" ry="5.19" fill="url(#yb)"/>
<ellipse cx="99.1" cy="786.2" rx="5.41" ry="5.19" fill="url(#yb)"/>
<ellipse cx="191.0" cy="789.7" rx="5.41" ry="5.19" fill="url(#yb)"/>
<ellipse cx="250.1" cy="789.7" rx="5.41" ry="5.19" fill="url(#yb)"/>
<ellipse cx="132.7" cy="791.5" rx="5.41" ry="5.19" fill="url(#yb)"/>
<ellipse cx="27.7" cy="792.6" rx="5.41" ry="5.19" fill="url(#yb)"/>
<ellipse cx="61.8" cy="792.6" rx="5.41" ry="5.19" fill="url(#yb)"/>
<ellipse cx="345.5" cy="793.5" rx="5.41" ry="5.19" fill="url(#yb)"/>
<ellipse cx="320.1" cy="794.4" rx="5.41" ry="5.19" fill="url(#yb)"/>
<ellipse cx="186.6" cy="811.0" rx="5.41" ry="5.19" fill="url(#yb)"/>
<ellipse cx="245.5" cy="811.0" rx="5.41" ry="5.19" fill="url(#yb)"/>
<ellipse cx="128.3" cy="811.9" rx="5.41" ry="5.19" fill="url(#yb)"/>
<ellipse cx="60.6" cy="813.9" rx="5.41" ry="5.19" fill="url(#yb)"/>
<ellipse cx="312.5" cy="814.8" rx="5.41" ry="5.19" fill="url(#yb)"/>
<ellipse cx="93.9" cy="841.6" rx="5.41" ry="5.19" fill="url(#yb)"/>
<ellipse cx="99.7" cy="841.6" rx="5.41" ry="5.19" fill="url(#yb)"/>
<ellipse cx="157.4" cy="841.6" rx="5.41" ry="5.19" fill="url(#yb)"/>
<ellipse cx="216.3" cy="841.6" rx="5.41" ry="5.19" fill="url(#yb)"/>
<ellipse cx="275.5" cy="841.6" rx="5.41" ry="5.19" fill="url(#yb)"/>
<ellipse cx="280.5" cy="841.6" rx="5.41" ry="5.19" fill="url(#yb)"/>
<ellipse cx="132.7" cy="846.9" rx="5.41" ry="5.19" fill="url(#yb)"/>
<ellipse cx="191.5" cy="846.9" rx="5.41" ry="5.19" fill="url(#yb)"/>
<ellipse cx="250.1" cy="846.9" rx="5.41" ry="5.19" fill="url(#yb)"/>
<ellipse cx="35.0" cy="847.4" rx="5.41" ry="5.19" fill="url(#yb)"/>
<ellipse cx="338.8" cy="848.0" rx="5.41" ry="5.19" fill="url(#yb)"/>
<ellipse cx="69.4" cy="848.9" rx="5.41" ry="5.19" fill="url(#yb)"/>
<ellipse cx="313.4" cy="850.3" rx="5.41" ry="5.19" fill="url(#yb)"/>
<ellipse cx="128.3" cy="869.3" rx="5.41" ry="5.19" fill="url(#yb)"/>
<ellipse cx="187.2" cy="869.3" rx="5.41" ry="5.19" fill="url(#yb)"/>
<ellipse cx="245.5" cy="869.3" rx="5.41" ry="5.19" fill="url(#yb)"/>
<ellipse cx="67.1" cy="872.2" rx="5.41" ry="5.19" fill="url(#yb)"/>
<ellipse cx="306.1" cy="872.2" rx="5.41" ry="5.19" fill="url(#yb)"/>
<ellipse cx="99.1" cy="899.3" rx="5.41" ry="5.19" fill="url(#yb)"/>
<ellipse cx="157.4" cy="899.9" rx="5.41" ry="5.19" fill="url(#yb)"/>
<ellipse cx="216.3" cy="899.9" rx="5.41" ry="5.19" fill="url(#yb)"/>
<ellipse cx="275.5" cy="899.9" rx="5.41" ry="5.19" fill="url(#yb)"/>
<ellipse cx="40.8" cy="904.3" rx="5.41" ry="5.19" fill="url(#yb)"/>
<ellipse cx="132.7" cy="905.2" rx="5.41" ry="5.19" fill="url(#yb)"/>
<ellipse cx="191.5" cy="905.2" rx="5.41" ry="5.19" fill="url(#yb)"/>
<ellipse cx="250.1" cy="905.2" rx="5.41" ry="5.19" fill="url(#yb)"/>
<ellipse cx="75.2" cy="905.7" rx="5.41" ry="5.19" fill="url(#yb)"/>
<ellipse cx="333.8" cy="905.7" rx="5.41" ry="5.19" fill="url(#yb)"/>
<ellipse cx="307.6" cy="908.1" rx="5.41" ry="5.19" fill="url(#yb)"/>
<ellipse cx="128.3" cy="927.6" rx="5.41" ry="5.19" fill="url(#yb)"/>
<ellipse cx="187.2" cy="927.6" rx="5.41" ry="5.19" fill="url(#yb)"/>
<ellipse cx="245.5" cy="927.6" rx="5.41" ry="5.19" fill="url(#yb)"/>
<ellipse cx="72.3" cy="929.1" rx="5.41" ry="5.19" fill="url(#yb)"/>
<ellipse cx="301.7" cy="929.7" rx="5.41" ry="5.19" fill="url(#yb)"/>
<polygon points="132.47,634.27 177.39,623.66 233.54,668.02 188.62,678.63" fill="#bdb5b5"/>
<polygon points="132.47,634.27 188.62,678.63 188.62,688.61 132.47,644.25" fill="#aca2a2"/>
<polygon points="188.62,678.63 233.54,668.02 233.54,678.01 188.62,688.61" fill="#6e6666"/>
<polygon points="132.47,633.40 177.39,622.79 233.29,666.95 188.37,677.56" fill="#ffffff"/>
<polygon points="132.47,633.40 188.37,677.56 188.37,678.43 132.47,634.27" fill="#f4f4f4"/>
<polygon points="188.37,677.56 233.29,666.95 233.29,667.83 188.37,678.43" fill="#e8e8e8"/>
<polygon points="132.47,628.66 177.39,618.05 232.92,661.92 188.00,672.52" fill="#b9cdd2"/>
<polygon points="132.47,628.66 188.00,672.52 188.00,677.26 132.47,633.40" fill="#9cb1b6"/>
<polygon points="188.00,672.52 232.92,661.92 232.92,666.66 188.00,677.26" fill="#a9bec3"/>
<polygon points="132.47,624.29 177.39,613.68 226.06,652.13 181.13,662.73" fill="#33cbef"/>
<polygon points="132.47,624.29 181.13,662.73 181.13,667.10 132.47,628.66" fill="#24acd4"/>
<polygon points="181.13,662.73 226.06,652.13 226.06,656.49 181.13,667.10" fill="#0f6a8c"/>
<polygon points="132.47,619.30 177.39,608.69 222.94,644.67 178.01,655.28" fill="#d9ad52"/>
<polygon points="132.47,619.30 178.01,655.28 178.01,660.27 132.47,624.29" fill="#b58c34"/>
<polygon points="178.01,655.28 222.94,644.67 222.94,649.66 178.01,660.27" fill="#6e5421"/>
<polygon points="132.47,603.70 171.15,634.26 171.15,649.86 132.47,619.30" fill="#b03a30" opacity="0.9"/>
<polygon points="171.15,634.26 216.07,623.65 216.07,639.25 171.15,649.86" fill="#742a22" opacity="0.95"/>
<polygon points="132.47,603.70 177.39,593.09 216.07,623.65 171.15,634.26" fill="#cf5858" opacity="0.95"/>
<polygon points="132.47,603.70 132.47,619.30 139.96,625.16 139.96,609.56" fill="#8a3434" opacity="0.5"/>
<polygon points="139.96,611.19 177.39,611.19 204.84,631.15 171.15,644.88 139.96,627.41" fill="#c0402e" opacity="0.55"/>
<polyline points="168.66,593.72 164.91,595.59 159.30,598.71 159.92,603.70 163.04,607.44 161.17,612.43 158.05,616.18 156.18,622.42 152.43,625.54 147.44,627.41" fill="none" stroke="#111" stroke-width="0.9" stroke-linejoin="round"/>
<polyline points="161.17,611.19 164.91,614.93 172.40,614.31 177.39,614.93 179.89,608.69 188.62,603.70" fill="none" stroke="#111" stroke-width="0.9" stroke-linejoin="round"/>
<polyline points="177.39,614.93 182.38,619.92 179.89,622.42 176.14,629.90 172.40,634.90 167.41,636.77" fill="none" stroke="#111" stroke-width="0.9" stroke-linejoin="round"/>
<polyline points="182.38,619.92 184.88,624.91 193.61,624.91 199.85,625.54" fill="none" stroke="#111" stroke-width="0.9" stroke-linejoin="round"/>
<polyline points="156.18,622.42 153.68,631.15 155.55,629.90" fill="none" stroke="#111" stroke-width="0.9" stroke-linejoin="round"/>
<polyline points="172.40,634.90 174.90,642.38 173.65,644.88" fill="none" stroke="#111" stroke-width="0.9" stroke-linejoin="round"/>
<rect x="123.5" y="576.5" width="124" height="116" rx="13" fill="none" stroke="#2d5a8a" stroke-width="2.6" stroke-dasharray="2.6,3.6"/>
<polygon points="378.9,827.8 396.9,818.8 396.9,825 466,825 466,830.8 396.9,830.8 396.9,836.8" fill="#4a7ebb"/>
<polygon points="930,827.9 912.5,819.2 912.5,825.1 843,825.1 843,830.7 912.5,830.7 912.5,836.6" fill="#4a7ebb"/>
<text x="418.0" y="815.7" font-size="19" font-weight="bold" text-anchor="middle" fill="#000" >Single layer</text>
<text x="415.8" y="850.5" font-size="19" font-weight="bold" text-anchor="middle" fill="#000" >annealed</text>
<text x="870.0" y="815.6" font-size="19" font-weight="bold" text-anchor="middle" fill="#000" >Co-annealed</text>
<rect x="579.5" y="601.5" width="625.5" height="83.5" rx="11" fill="none" stroke="#2d5a8a" stroke-width="2.6" stroke-dasharray="2.6,3.6"/>
<polygon points="644.6,624.6 627.2,643.3 642.3,645.4" fill="#8a8a8a" stroke="#8a8a8a" stroke-width="0.6"/>
<polygon points="644.6,624.6 661.5,643.3 642.3,645.4" fill="#666666" stroke="#666666" stroke-width="0.6"/>
<polygon points="627.2,643.3 644.6,658.9 642.3,645.4" fill="#b0b0b0" stroke="#b0b0b0" stroke-width="0.6"/>
<polygon points="661.5,643.3 644.6,658.9 642.3,645.4" fill="#8c8c8c" stroke="#8c8c8c" stroke-width="0.6"/>
<ellipse cx="644.6" cy="624.6" rx="3.26" ry="3.14" fill="url(#yb)"/>
<ellipse cx="627.2" cy="643.3" rx="3.26" ry="3.14" fill="url(#yb)"/>
<ellipse cx="661.5" cy="643.3" rx="3.26" ry="3.14" fill="url(#yb)"/>
<ellipse cx="644.6" cy="658.9" rx="3.26" ry="3.14" fill="url(#yb)"/>
<ellipse cx="642.3" cy="645.4" rx="3.26" ry="3.14" fill="url(#yb)"/>
<text x="672.5" y="650.3" font-size="20.5" font-weight="bold" text-anchor="start" fill="#000" letter-spacing="0.3">PbX<tspan font-size="14.5" dy="5">6</tspan><tspan dy="-5" dx="1.5"> (X=I/Br)</tspan></text>
<ellipse cx="904.7" cy="644.9" rx="9.69" ry="9.31" fill="url(#yb)"/>
<text x="922.5" y="651.1" font-size="21" font-weight="bold" text-anchor="start" fill="#000" >I/Br</text>
<circle cx="1031.9" cy="643.6" r="12.9" fill="url(#fb)"/>
<text x="1054.0" y="651.1" font-size="21" font-weight="bold" text-anchor="start" fill="#000" >FA/Cs</text>
<text x="4.0" y="33.0" font-size="28.5" font-weight="bold" text-anchor="start" fill="#000" >(a)</text>
<text x="857.0" y="33.0" font-size="28.5" font-weight="bold" text-anchor="start" fill="#000" >(b)</text>
<text x="8.0" y="604.5" font-size="28.5" font-weight="bold" text-anchor="start" fill="#000" >(f)</text></svg></body></html>
